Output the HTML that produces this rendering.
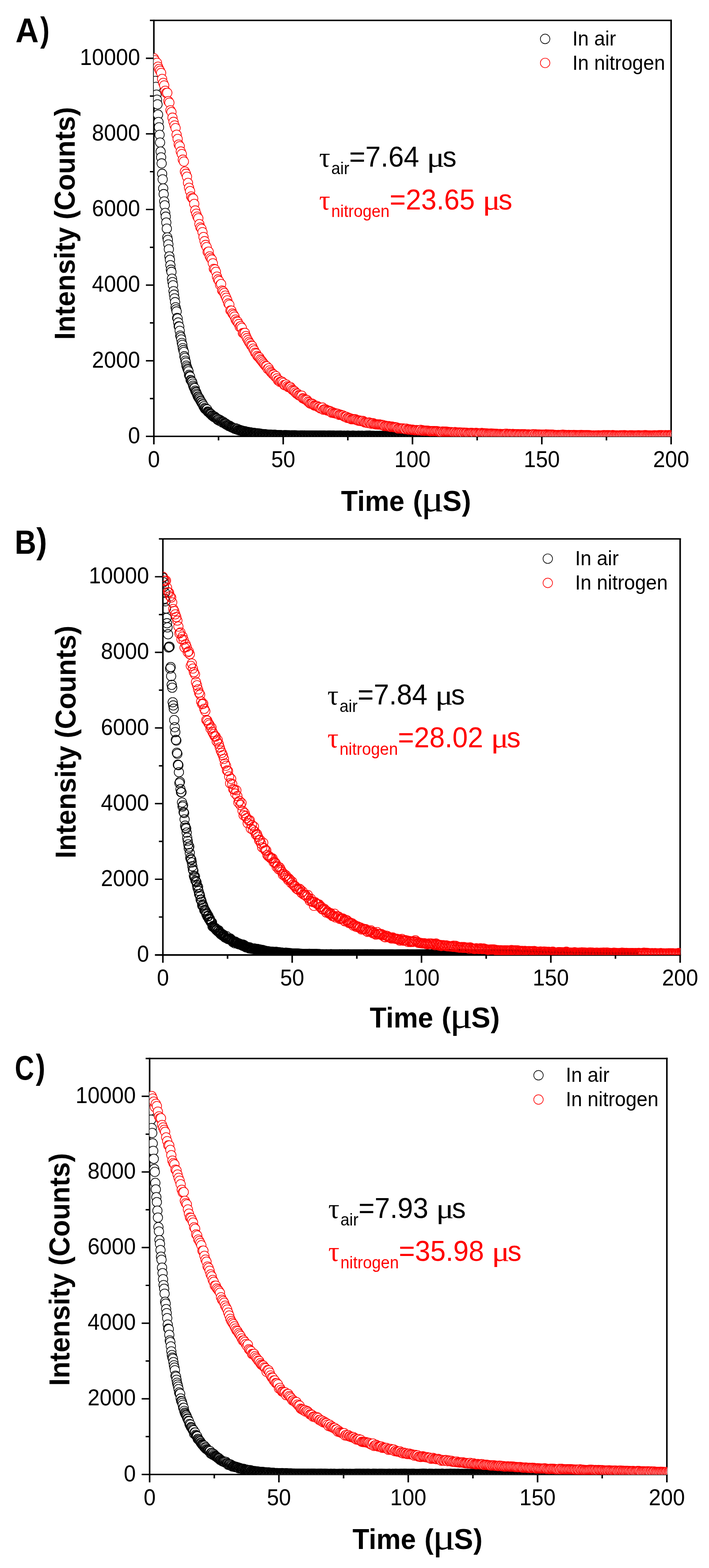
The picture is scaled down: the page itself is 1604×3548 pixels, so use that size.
<!DOCTYPE html><html><head><meta charset="utf-8"><title>Luminescence decay curves</title><style>html,body{margin:0;padding:0;background:#fff}svg{display:block}text{font-family:"Liberation Sans",Arial,sans-serif}.s{font-family:"Liberation Serif","Times New Roman",serif}.b{font-weight:bold}.bk{stroke:#000}.rd{stroke:#f00}</style></head><body>
<svg width="1604" height="3548" viewBox="0 0 1604 3548">
<rect width="1604" height="3548" fill="#fff"/>
<clipPath id="cA"><rect x="347.9" y="46.2" width="1171.0" height="941.7"/></clipPath>
<path stroke="#000" fill="none" stroke-width="3.2" d="M330.1 987.40H1520.0"/>
<path stroke="#000" fill="none" stroke-width="3.2" d="M339.1 46.2H1520.0M339.1 901.8H348.1M330.1 816.3H348.1M339.1 730.7H348.1M330.1 645.2H348.1M339.1 559.6H348.1M330.1 474.0H348.1M339.1 388.5H348.1M330.1 302.9H348.1M339.1 217.4H348.1M330.1 131.8H348.1"/>
<path stroke="#000" fill="none" stroke-width="3.5" d="M1518.3 44.7V1005.4M348.1 44.7V1005.4M494.4 987.4V996.4M640.7 987.4V1005.4M786.9 987.4V996.4M933.2 987.4V1005.4M1079.5 987.4V996.4M1225.8 987.4V1005.4M1372.0 987.4V996.4"/>
<g class="bk" clip-path="url(#cA)" fill="#fff" stroke-width="1.55">
<circle cx="348.1" cy="133.5" r="10.6"/><circle cx="349.3" cy="147.5" r="10.6"/><circle cx="350.4" cy="165.2" r="10.6"/><circle cx="351.6" cy="183" r="10.6"/><circle cx="352.8" cy="196.5" r="10.6"/><circle cx="354" cy="214.2" r="10.6"/><circle cx="355.1" cy="225.5" r="10.6"/><circle cx="356.3" cy="236.2" r="10.6"/><circle cx="357.5" cy="259.4" r="10.6"/><circle cx="358.6" cy="276" r="10.6"/><circle cx="359.8" cy="288" r="10.6"/><circle cx="361" cy="305" r="10.6"/><circle cx="362.1" cy="322.5" r="10.6"/><circle cx="363.3" cy="342.9" r="10.6"/><circle cx="364.5" cy="356" r="10.6"/><circle cx="365.7" cy="369.7" r="10.6"/><circle cx="366.8" cy="393.2" r="10.6"/><circle cx="368" cy="405.8" r="10.6"/><circle cx="369.2" cy="426.3" r="10.6"/><circle cx="370.3" cy="439.2" r="10.6"/><circle cx="371.5" cy="455.8" r="10.6"/><circle cx="372.7" cy="464.6" r="10.6"/><circle cx="373.8" cy="481.8" r="10.6"/><circle cx="375" cy="490.2" r="10.6"/><circle cx="376.2" cy="503.6" r="10.6"/><circle cx="377.4" cy="517.4" r="10.6"/><circle cx="378.5" cy="537" r="10.6"/><circle cx="379.7" cy="542.8" r="10.6"/><circle cx="380.9" cy="553" r="10.6"/><circle cx="382" cy="564" r="10.6"/><circle cx="383.2" cy="580.1" r="10.6"/><circle cx="384.4" cy="587.9" r="10.6"/><circle cx="385.5" cy="600.1" r="10.6"/><circle cx="386.7" cy="610.2" r="10.6"/><circle cx="387.9" cy="615.2" r="10.6"/><circle cx="389.1" cy="630.6" r="10.6"/><circle cx="390.2" cy="638.3" r="10.6"/><circle cx="391.4" cy="645.5" r="10.6"/><circle cx="392.6" cy="658.8" r="10.6"/><circle cx="393.7" cy="666.7" r="10.6"/><circle cx="394.9" cy="675" r="10.6"/><circle cx="396.1" cy="683.7" r="10.6"/><circle cx="397.2" cy="695.3" r="10.6"/><circle cx="398.4" cy="700.1" r="10.6"/><circle cx="399.6" cy="704.7" r="10.6"/><circle cx="400.8" cy="719.3" r="10.6"/><circle cx="401.9" cy="720.8" r="10.6"/><circle cx="403.1" cy="729.7" r="10.6"/><circle cx="404.3" cy="738.3" r="10.6"/><circle cx="405.4" cy="739" r="10.6"/><circle cx="406.6" cy="748.5" r="10.6"/><circle cx="407.8" cy="759.3" r="10.6"/><circle cx="409" cy="762.9" r="10.6"/><circle cx="410.1" cy="768.1" r="10.6"/><circle cx="411.3" cy="776" r="10.6"/><circle cx="412.5" cy="780.3" r="10.6"/><circle cx="413.6" cy="787.8" r="10.6"/><circle cx="414.8" cy="792.2" r="10.6"/><circle cx="416" cy="796.4" r="10.6"/><circle cx="417.1" cy="806.2" r="10.6"/><circle cx="418.3" cy="809.9" r="10.6"/><circle cx="419.5" cy="816.3" r="10.6"/><circle cx="420.7" cy="820.2" r="10.6"/><circle cx="421.8" cy="827.4" r="10.6"/><circle cx="423" cy="830.8" r="10.6"/><circle cx="424.2" cy="834.4" r="10.6"/><circle cx="425.3" cy="836.6" r="10.6"/><circle cx="426.5" cy="840.1" r="10.6"/><circle cx="427.7" cy="848.2" r="10.6"/><circle cx="428.8" cy="850.9" r="10.6"/><circle cx="430" cy="852" r="10.6"/><circle cx="431.2" cy="859.8" r="10.6"/><circle cx="432.4" cy="860.5" r="10.6"/><circle cx="433.5" cy="863.1" r="10.6"/><circle cx="434.7" cy="864" r="10.6"/><circle cx="435.9" cy="868" r="10.6"/><circle cx="437" cy="872.6" r="10.6"/><circle cx="438.2" cy="875.5" r="10.6"/><circle cx="439.4" cy="878.2" r="10.6"/><circle cx="440.5" cy="878.2" r="10.6"/><circle cx="441.7" cy="883.9" r="10.6"/><circle cx="442.9" cy="886.3" r="10.6"/><circle cx="444.1" cy="887.9" r="10.6"/><circle cx="445.2" cy="891.1" r="10.6"/><circle cx="446.4" cy="893.7" r="10.6"/><circle cx="447.6" cy="897.3" r="10.6"/><circle cx="448.7" cy="898.1" r="10.6"/><circle cx="449.9" cy="900.9" r="10.6"/><circle cx="451.1" cy="901" r="10.6"/><circle cx="452.2" cy="903.8" r="10.6"/><circle cx="453.4" cy="906.8" r="10.6"/><circle cx="454.6" cy="907.9" r="10.6"/><circle cx="455.8" cy="911.1" r="10.6"/><circle cx="456.9" cy="911.3" r="10.6"/><circle cx="458.1" cy="914.5" r="10.6"/><circle cx="459.3" cy="915.5" r="10.6"/><circle cx="460.4" cy="919.6" r="10.6"/><circle cx="461.6" cy="919.3" r="10.6"/><circle cx="462.8" cy="923.3" r="10.6"/><circle cx="463.9" cy="925.3" r="10.6"/><circle cx="465.1" cy="924.8" r="10.6"/><circle cx="466.3" cy="927" r="10.6"/><circle cx="467.5" cy="927.2" r="10.6"/><circle cx="468.6" cy="926.2" r="10.6"/><circle cx="469.8" cy="931" r="10.6"/><circle cx="471" cy="932" r="10.6"/><circle cx="472.1" cy="932.4" r="10.6"/><circle cx="473.3" cy="933.2" r="10.6"/><circle cx="474.5" cy="935.1" r="10.6"/><circle cx="475.7" cy="936.2" r="10.6"/><circle cx="476.8" cy="936.3" r="10.6"/><circle cx="478" cy="937.5" r="10.6"/><circle cx="479.2" cy="940" r="10.6"/><circle cx="480.3" cy="940" r="10.6"/><circle cx="481.5" cy="940.7" r="10.6"/><circle cx="482.7" cy="942.7" r="10.6"/><circle cx="483.8" cy="942.2" r="10.6"/><circle cx="485" cy="944.1" r="10.6"/><circle cx="486.2" cy="943.1" r="10.6"/><circle cx="487.4" cy="944.6" r="10.6"/><circle cx="488.5" cy="945.5" r="10.6"/><circle cx="489.7" cy="946.9" r="10.6"/><circle cx="490.9" cy="947.2" r="10.6"/><circle cx="492" cy="949.6" r="10.6"/><circle cx="493.2" cy="949.5" r="10.6"/><circle cx="494.4" cy="948.9" r="10.6"/><circle cx="495.5" cy="951.8" r="10.6"/><circle cx="496.7" cy="949.9" r="10.6"/><circle cx="497.9" cy="952.8" r="10.6"/><circle cx="499.1" cy="951.4" r="10.6"/><circle cx="500.2" cy="953.5" r="10.6"/><circle cx="501.4" cy="952.8" r="10.6"/><circle cx="502.6" cy="954.1" r="10.6"/><circle cx="503.7" cy="956.2" r="10.6"/><circle cx="504.9" cy="954.6" r="10.6"/><circle cx="506.1" cy="955.2" r="10.6"/><circle cx="507.2" cy="957.2" r="10.6"/><circle cx="508.4" cy="958.1" r="10.6"/><circle cx="509.6" cy="958.7" r="10.6"/><circle cx="510.8" cy="960.1" r="10.6"/><circle cx="511.9" cy="959.2" r="10.6"/><circle cx="513.1" cy="961.1" r="10.6"/><circle cx="514.3" cy="961.4" r="10.6"/><circle cx="515.4" cy="962.6" r="10.6"/><circle cx="516.6" cy="963.2" r="10.6"/><circle cx="517.8" cy="964.3" r="10.6"/><circle cx="518.9" cy="963.1" r="10.6"/><circle cx="520.1" cy="964.7" r="10.6"/><circle cx="521.3" cy="964.5" r="10.6"/><circle cx="522.5" cy="965.7" r="10.6"/><circle cx="523.6" cy="966.7" r="10.6"/><circle cx="524.8" cy="967" r="10.6"/><circle cx="526" cy="967.7" r="10.6"/><circle cx="527.1" cy="967.8" r="10.6"/><circle cx="528.3" cy="968.5" r="10.6"/><circle cx="529.5" cy="969" r="10.6"/><circle cx="530.7" cy="970.1" r="10.6"/><circle cx="531.8" cy="970.2" r="10.6"/><circle cx="533" cy="969.1" r="10.6"/><circle cx="534.2" cy="970.9" r="10.6"/><circle cx="535.3" cy="971.6" r="10.6"/><circle cx="536.5" cy="971.2" r="10.6"/><circle cx="537.7" cy="970.9" r="10.6"/><circle cx="538.8" cy="973" r="10.6"/><circle cx="540" cy="972.6" r="10.6"/><circle cx="541.2" cy="973.2" r="10.6"/><circle cx="542.4" cy="974.2" r="10.6"/><circle cx="543.5" cy="973.2" r="10.6"/><circle cx="544.7" cy="973.9" r="10.6"/><circle cx="545.9" cy="974.2" r="10.6"/><circle cx="547" cy="974.9" r="10.6"/><circle cx="548.2" cy="974.6" r="10.6"/><circle cx="549.4" cy="975.4" r="10.6"/><circle cx="550.5" cy="975.5" r="10.6"/><circle cx="551.7" cy="976.3" r="10.6"/><circle cx="552.9" cy="976.6" r="10.6"/><circle cx="554.1" cy="975.6" r="10.6"/><circle cx="555.2" cy="976.8" r="10.6"/><circle cx="556.4" cy="976.6" r="10.6"/><circle cx="557.6" cy="977" r="10.6"/><circle cx="558.7" cy="977.5" r="10.6"/><circle cx="559.9" cy="977.7" r="10.6"/><circle cx="561.1" cy="977.4" r="10.6"/><circle cx="562.2" cy="978.1" r="10.6"/><circle cx="563.4" cy="978.2" r="10.6"/><circle cx="564.6" cy="978.4" r="10.6"/><circle cx="565.8" cy="978.1" r="10.6"/><circle cx="566.9" cy="978.5" r="10.6"/><circle cx="568.1" cy="978.8" r="10.6"/><circle cx="569.3" cy="979.4" r="10.6"/><circle cx="570.4" cy="979.9" r="10.6"/><circle cx="571.6" cy="979.2" r="10.6"/><circle cx="572.8" cy="979.3" r="10.6"/><circle cx="573.9" cy="980" r="10.6"/><circle cx="575.1" cy="979.9" r="10.6"/><circle cx="576.3" cy="979.9" r="10.6"/><circle cx="577.5" cy="980.1" r="10.6"/><circle cx="578.6" cy="980.2" r="10.6"/><circle cx="579.8" cy="980.9" r="10.6"/><circle cx="581" cy="980.3" r="10.6"/><circle cx="582.1" cy="981.5" r="10.6"/><circle cx="583.3" cy="980.8" r="10.6"/><circle cx="584.5" cy="981.1" r="10.6"/><circle cx="585.7" cy="981.1" r="10.6"/><circle cx="586.8" cy="980.9" r="10.6"/><circle cx="588" cy="981.2" r="10.6"/><circle cx="589.2" cy="982.2" r="10.6"/><circle cx="590.3" cy="982.5" r="10.6"/><circle cx="591.5" cy="981.8" r="10.6"/><circle cx="592.7" cy="982.5" r="10.6"/><circle cx="593.8" cy="982.3" r="10.6"/><circle cx="595" cy="982.1" r="10.6"/><circle cx="596.2" cy="983" r="10.6"/><circle cx="597.4" cy="983.2" r="10.6"/><circle cx="598.5" cy="982.6" r="10.6"/><circle cx="599.7" cy="982.7" r="10.6"/><circle cx="600.9" cy="982.9" r="10.6"/><circle cx="602" cy="982.9" r="10.6"/><circle cx="603.2" cy="983.3" r="10.6"/><circle cx="604.4" cy="983.6" r="10.6"/><circle cx="605.5" cy="983.2" r="10.6"/><circle cx="606.7" cy="983.6" r="10.6"/><circle cx="607.9" cy="983.8" r="10.6"/><circle cx="609.1" cy="983.3" r="10.6"/><circle cx="610.2" cy="983.5" r="10.6"/><circle cx="611.4" cy="983.4" r="10.6"/><circle cx="612.6" cy="983.9" r="10.6"/><circle cx="613.7" cy="983.9" r="10.6"/><circle cx="614.9" cy="984.1" r="10.6"/><circle cx="616.1" cy="984.1" r="10.6"/><circle cx="617.2" cy="983.9" r="10.6"/><circle cx="618.4" cy="984.2" r="10.6"/><circle cx="619.6" cy="984" r="10.6"/><circle cx="620.8" cy="984" r="10.6"/><circle cx="621.9" cy="983.6" r="10.6"/><circle cx="623.1" cy="984.6" r="10.6"/><circle cx="624.3" cy="984.1" r="10.6"/><circle cx="625.4" cy="984.4" r="10.6"/><circle cx="626.6" cy="984.4" r="10.6"/><circle cx="627.8" cy="984.8" r="10.6"/><circle cx="628.9" cy="984.6" r="10.6"/><circle cx="630.1" cy="984.4" r="10.6"/><circle cx="631.3" cy="984.6" r="10.6"/><circle cx="632.5" cy="984.6" r="10.6"/><circle cx="633.6" cy="984.8" r="10.6"/><circle cx="634.8" cy="984.4" r="10.6"/><circle cx="636" cy="984.8" r="10.6"/><circle cx="637.1" cy="985.3" r="10.6"/><circle cx="638.3" cy="985" r="10.6"/><circle cx="639.5" cy="985.3" r="10.6"/><circle cx="640.7" cy="985.6" r="10.6"/><circle cx="641.8" cy="985" r="10.6"/><circle cx="643" cy="984.6" r="10.6"/><circle cx="644.2" cy="984.9" r="10.6"/><circle cx="645.3" cy="985.2" r="10.6"/><circle cx="646.5" cy="985.2" r="10.6"/><circle cx="647.7" cy="984.7" r="10.6"/><circle cx="648.8" cy="985" r="10.6"/><circle cx="650" cy="985" r="10.6"/><circle cx="651.2" cy="985.1" r="10.6"/><circle cx="652.4" cy="985.1" r="10.6"/><circle cx="653.5" cy="984.9" r="10.6"/><circle cx="654.7" cy="985" r="10.6"/><circle cx="655.9" cy="985.1" r="10.6"/><circle cx="657" cy="985.4" r="10.6"/><circle cx="658.2" cy="985" r="10.6"/><circle cx="659.4" cy="985.3" r="10.6"/><circle cx="660.5" cy="984.9" r="10.6"/><circle cx="661.7" cy="985.5" r="10.6"/><circle cx="662.9" cy="985.2" r="10.6"/><circle cx="664.1" cy="985.2" r="10.6"/><circle cx="665.2" cy="985.5" r="10.6"/><circle cx="666.4" cy="984.9" r="10.6"/><circle cx="667.6" cy="985" r="10.6"/><circle cx="668.7" cy="985.4" r="10.6"/><circle cx="669.9" cy="985.1" r="10.6"/><circle cx="671.1" cy="985.2" r="10.6"/><circle cx="672.2" cy="985.9" r="10.6"/><circle cx="673.4" cy="985.3" r="10.6"/><circle cx="674.6" cy="985.4" r="10.6"/><circle cx="675.8" cy="985.3" r="10.6"/><circle cx="676.9" cy="985.6" r="10.6"/><circle cx="678.1" cy="985.4" r="10.6"/><circle cx="679.3" cy="985.4" r="10.6"/><circle cx="680.4" cy="985.2" r="10.6"/><circle cx="681.6" cy="985.4" r="10.6"/><circle cx="682.8" cy="985.4" r="10.6"/><circle cx="683.9" cy="985.1" r="10.6"/><circle cx="685.1" cy="985.6" r="10.6"/><circle cx="686.3" cy="985.6" r="10.6"/><circle cx="687.5" cy="985.8" r="10.6"/><circle cx="688.6" cy="985.2" r="10.6"/><circle cx="689.8" cy="985.3" r="10.6"/><circle cx="691" cy="985.3" r="10.6"/><circle cx="692.1" cy="985.4" r="10.6"/><circle cx="693.3" cy="985.5" r="10.6"/><circle cx="694.5" cy="985.5" r="10.6"/><circle cx="695.6" cy="985.6" r="10.6"/><circle cx="696.8" cy="985.6" r="10.6"/><circle cx="698" cy="985.6" r="10.6"/><circle cx="699.2" cy="985.3" r="10.6"/><circle cx="700.3" cy="985.5" r="10.6"/><circle cx="701.5" cy="985.6" r="10.6"/><circle cx="702.7" cy="985.7" r="10.6"/><circle cx="703.8" cy="985.7" r="10.6"/><circle cx="705" cy="985.3" r="10.6"/><circle cx="706.2" cy="985.5" r="10.6"/><circle cx="707.4" cy="985.6" r="10.6"/><circle cx="708.5" cy="985.7" r="10.6"/><circle cx="709.7" cy="985.9" r="10.6"/><circle cx="710.9" cy="985.7" r="10.6"/><circle cx="712" cy="985.5" r="10.6"/><circle cx="713.2" cy="985.8" r="10.6"/><circle cx="714.4" cy="985.7" r="10.6"/><circle cx="715.5" cy="985.7" r="10.6"/><circle cx="716.7" cy="985.7" r="10.6"/><circle cx="717.9" cy="986" r="10.6"/><circle cx="719.1" cy="985.8" r="10.6"/><circle cx="720.2" cy="985.9" r="10.6"/><circle cx="721.4" cy="985.6" r="10.6"/><circle cx="722.6" cy="985.9" r="10.6"/><circle cx="723.7" cy="985.6" r="10.6"/><circle cx="724.9" cy="985.5" r="10.6"/><circle cx="726.1" cy="985.8" r="10.6"/><circle cx="727.2" cy="985.9" r="10.6"/><circle cx="728.4" cy="985.7" r="10.6"/><circle cx="729.6" cy="985.8" r="10.6"/><circle cx="730.8" cy="986" r="10.6"/><circle cx="731.9" cy="985.7" r="10.6"/><circle cx="733.1" cy="985.4" r="10.6"/><circle cx="734.3" cy="985.9" r="10.6"/><circle cx="735.4" cy="985.9" r="10.6"/><circle cx="736.6" cy="986" r="10.6"/><circle cx="737.8" cy="985.8" r="10.6"/><circle cx="738.9" cy="986.1" r="10.6"/><circle cx="740.1" cy="986.1" r="10.6"/><circle cx="741.3" cy="985.6" r="10.6"/><circle cx="742.5" cy="986" r="10.6"/><circle cx="743.6" cy="985.7" r="10.6"/><circle cx="744.8" cy="985.6" r="10.6"/><circle cx="746" cy="985.8" r="10.6"/><circle cx="747.1" cy="985.8" r="10.6"/><circle cx="748.3" cy="985.5" r="10.6"/><circle cx="749.5" cy="985.9" r="10.6"/><circle cx="750.6" cy="986" r="10.6"/><circle cx="751.8" cy="986.1" r="10.6"/><circle cx="753" cy="985.9" r="10.6"/><circle cx="754.2" cy="985.6" r="10.6"/><circle cx="755.3" cy="985.7" r="10.6"/><circle cx="756.5" cy="986.1" r="10.6"/><circle cx="757.7" cy="986.1" r="10.6"/><circle cx="758.8" cy="986" r="10.6"/><circle cx="760" cy="985.9" r="10.6"/><circle cx="761.2" cy="986" r="10.6"/><circle cx="762.4" cy="985.9" r="10.6"/><circle cx="763.5" cy="985.9" r="10.6"/><circle cx="764.7" cy="986" r="10.6"/><circle cx="765.9" cy="985.9" r="10.6"/><circle cx="767" cy="985.9" r="10.6"/><circle cx="768.2" cy="986" r="10.6"/><circle cx="769.4" cy="985.9" r="10.6"/><circle cx="770.5" cy="985.6" r="10.6"/><circle cx="771.7" cy="985.9" r="10.6"/><circle cx="772.9" cy="986" r="10.6"/><circle cx="774.1" cy="986.3" r="10.6"/><circle cx="775.2" cy="985.9" r="10.6"/><circle cx="776.4" cy="986.3" r="10.6"/><circle cx="777.6" cy="986.2" r="10.6"/><circle cx="778.7" cy="985.8" r="10.6"/><circle cx="779.9" cy="985.9" r="10.6"/><circle cx="781.1" cy="986" r="10.6"/><circle cx="782.2" cy="986.3" r="10.6"/><circle cx="783.4" cy="986.1" r="10.6"/><circle cx="784.6" cy="986.1" r="10.6"/><circle cx="785.8" cy="985.9" r="10.6"/><circle cx="786.9" cy="985.6" r="10.6"/><circle cx="788.1" cy="986" r="10.6"/><circle cx="789.3" cy="986.1" r="10.6"/><circle cx="790.4" cy="986.2" r="10.6"/><circle cx="791.6" cy="986" r="10.6"/><circle cx="792.8" cy="986.1" r="10.6"/><circle cx="793.9" cy="986.2" r="10.6"/><circle cx="795.1" cy="986" r="10.6"/><circle cx="796.3" cy="986.2" r="10.6"/><circle cx="797.5" cy="985.8" r="10.6"/><circle cx="798.6" cy="985.9" r="10.6"/><circle cx="799.8" cy="985.9" r="10.6"/><circle cx="801" cy="986.1" r="10.6"/><circle cx="802.1" cy="986" r="10.6"/><circle cx="803.3" cy="986.1" r="10.6"/><circle cx="804.5" cy="986.1" r="10.6"/><circle cx="805.6" cy="986.1" r="10.6"/><circle cx="806.8" cy="986.3" r="10.6"/><circle cx="808" cy="986.3" r="10.6"/><circle cx="809.2" cy="985.9" r="10.6"/><circle cx="810.3" cy="986.1" r="10.6"/><circle cx="811.5" cy="986" r="10.6"/><circle cx="812.7" cy="985.9" r="10.6"/><circle cx="813.8" cy="986.4" r="10.6"/><circle cx="815" cy="986.2" r="10.6"/><circle cx="816.2" cy="986.1" r="10.6"/><circle cx="817.4" cy="986" r="10.6"/><circle cx="818.5" cy="986.2" r="10.6"/><circle cx="819.7" cy="985.9" r="10.6"/><circle cx="820.9" cy="986.1" r="10.6"/><circle cx="822" cy="986.3" r="10.6"/><circle cx="823.2" cy="986.3" r="10.6"/><circle cx="824.4" cy="986" r="10.6"/><circle cx="825.5" cy="986" r="10.6"/><circle cx="826.7" cy="986.4" r="10.6"/><circle cx="827.9" cy="985.9" r="10.6"/><circle cx="829.1" cy="986" r="10.6"/><circle cx="830.2" cy="985.9" r="10.6"/><circle cx="831.4" cy="986.2" r="10.6"/><circle cx="832.6" cy="986.2" r="10.6"/><circle cx="833.7" cy="986.3" r="10.6"/><circle cx="834.9" cy="985.7" r="10.6"/><circle cx="836.1" cy="986.2" r="10.6"/><circle cx="837.2" cy="985.9" r="10.6"/><circle cx="838.4" cy="986.3" r="10.6"/><circle cx="839.6" cy="986.1" r="10.6"/><circle cx="840.8" cy="986.4" r="10.6"/><circle cx="841.9" cy="986.2" r="10.6"/><circle cx="843.1" cy="986" r="10.6"/><circle cx="844.3" cy="986.4" r="10.6"/><circle cx="845.4" cy="986" r="10.6"/><circle cx="846.6" cy="986.1" r="10.6"/><circle cx="847.8" cy="986.3" r="10.6"/><circle cx="848.9" cy="986.3" r="10.6"/><circle cx="850.1" cy="986.3" r="10.6"/><circle cx="851.3" cy="986.2" r="10.6"/><circle cx="852.5" cy="986.3" r="10.6"/><circle cx="853.6" cy="986.3" r="10.6"/><circle cx="854.8" cy="986.2" r="10.6"/><circle cx="856" cy="986.4" r="10.6"/><circle cx="857.1" cy="986.4" r="10.6"/><circle cx="858.3" cy="986.2" r="10.6"/><circle cx="859.5" cy="986.1" r="10.6"/><circle cx="860.6" cy="986.4" r="10.6"/><circle cx="861.8" cy="986.2" r="10.6"/><circle cx="863" cy="986.3" r="10.6"/><circle cx="864.2" cy="986.4" r="10.6"/><circle cx="865.3" cy="986.1" r="10.6"/><circle cx="866.5" cy="986.3" r="10.6"/><circle cx="867.7" cy="986" r="10.6"/><circle cx="868.8" cy="986.3" r="10.6"/><circle cx="870" cy="986.2" r="10.6"/><circle cx="871.2" cy="986.3" r="10.6"/><circle cx="872.3" cy="986.4" r="10.6"/><circle cx="873.5" cy="986.1" r="10.6"/><circle cx="874.7" cy="986.3" r="10.6"/><circle cx="875.9" cy="986.1" r="10.6"/><circle cx="877" cy="986.3" r="10.6"/><circle cx="878.2" cy="986.4" r="10.6"/><circle cx="879.4" cy="986.3" r="10.6"/><circle cx="880.5" cy="986.2" r="10.6"/><circle cx="881.7" cy="986.1" r="10.6"/><circle cx="882.9" cy="986.4" r="10.6"/><circle cx="884.1" cy="986.3" r="10.6"/><circle cx="885.2" cy="986.5" r="10.6"/><circle cx="886.4" cy="986.2" r="10.6"/><circle cx="887.6" cy="986.4" r="10.6"/><circle cx="888.7" cy="986.6" r="10.6"/><circle cx="889.9" cy="986.3" r="10.6"/><circle cx="891.1" cy="986.1" r="10.6"/><circle cx="892.2" cy="986.5" r="10.6"/><circle cx="893.4" cy="986.5" r="10.6"/><circle cx="894.6" cy="986.4" r="10.6"/><circle cx="895.8" cy="986.5" r="10.6"/><circle cx="896.9" cy="986.2" r="10.6"/><circle cx="898.1" cy="986.4" r="10.6"/><circle cx="899.3" cy="986.4" r="10.6"/><circle cx="900.4" cy="986.2" r="10.6"/><circle cx="901.6" cy="986.4" r="10.6"/><circle cx="902.8" cy="986.2" r="10.6"/><circle cx="903.9" cy="986.5" r="10.6"/><circle cx="905.1" cy="986.5" r="10.6"/><circle cx="906.3" cy="986.6" r="10.6"/><circle cx="907.5" cy="986" r="10.6"/><circle cx="908.6" cy="986.4" r="10.6"/><circle cx="909.8" cy="986.3" r="10.6"/><circle cx="911" cy="986.3" r="10.6"/><circle cx="912.1" cy="986.3" r="10.6"/><circle cx="913.3" cy="986.3" r="10.6"/><circle cx="914.5" cy="986" r="10.6"/><circle cx="915.6" cy="986.5" r="10.6"/><circle cx="916.8" cy="986.6" r="10.6"/><circle cx="918" cy="986.5" r="10.6"/><circle cx="919.2" cy="986.5" r="10.6"/><circle cx="920.3" cy="986.2" r="10.6"/><circle cx="921.5" cy="986.2" r="10.6"/><circle cx="922.7" cy="986.5" r="10.6"/><circle cx="923.8" cy="986.6" r="10.6"/><circle cx="925" cy="986.4" r="10.6"/><circle cx="926.2" cy="986.1" r="10.6"/><circle cx="927.3" cy="986.8" r="10.6"/><circle cx="928.5" cy="986.3" r="10.6"/><circle cx="929.7" cy="986.5" r="10.6"/><circle cx="930.9" cy="986.2" r="10.6"/><circle cx="932" cy="986.5" r="10.6"/><circle cx="933.2" cy="986.4" r="10.6"/><circle cx="934.4" cy="986.6" r="10.6"/><circle cx="935.5" cy="986.5" r="10.6"/><circle cx="936.7" cy="986.2" r="10.6"/><circle cx="937.9" cy="986.3" r="10.6"/><circle cx="939.1" cy="986.4" r="10.6"/><circle cx="940.2" cy="986.5" r="10.6"/><circle cx="941.4" cy="986.7" r="10.6"/><circle cx="942.6" cy="986.4" r="10.6"/><circle cx="943.7" cy="986.4" r="10.6"/><circle cx="944.9" cy="986.4" r="10.6"/><circle cx="946.1" cy="986.4" r="10.6"/><circle cx="947.2" cy="986.5" r="10.6"/><circle cx="948.4" cy="986.4" r="10.6"/><circle cx="949.6" cy="986.4" r="10.6"/><circle cx="950.8" cy="986.2" r="10.6"/><circle cx="951.9" cy="986.1" r="10.6"/><circle cx="953.1" cy="986.4" r="10.6"/><circle cx="954.3" cy="986.5" r="10.6"/><circle cx="955.4" cy="986.4" r="10.6"/><circle cx="956.6" cy="986.5" r="10.6"/><circle cx="957.8" cy="986.5" r="10.6"/><circle cx="958.9" cy="986.4" r="10.6"/><circle cx="960.1" cy="986.5" r="10.6"/><circle cx="961.3" cy="986.3" r="10.6"/><circle cx="962.5" cy="986.4" r="10.6"/><circle cx="963.6" cy="986.3" r="10.6"/><circle cx="964.8" cy="986.4" r="10.6"/><circle cx="966" cy="986.5" r="10.6"/><circle cx="967.1" cy="986.5" r="10.6"/><circle cx="968.3" cy="986.4" r="10.6"/><circle cx="969.5" cy="986.5" r="10.6"/><circle cx="970.6" cy="986.3" r="10.6"/><circle cx="971.8" cy="986.4" r="10.6"/><circle cx="973" cy="986.6" r="10.6"/><circle cx="974.2" cy="986.4" r="10.6"/><circle cx="975.3" cy="986.6" r="10.6"/><circle cx="976.5" cy="986.5" r="10.6"/><circle cx="977.7" cy="986.4" r="10.6"/><circle cx="978.8" cy="986.7" r="10.6"/><circle cx="980" cy="986.4" r="10.6"/><circle cx="981.2" cy="986.4" r="10.6"/><circle cx="982.3" cy="986.4" r="10.6"/><circle cx="983.5" cy="986.5" r="10.6"/><circle cx="984.7" cy="986.4" r="10.6"/><circle cx="985.9" cy="986.5" r="10.6"/><circle cx="987" cy="986.4" r="10.6"/><circle cx="988.2" cy="986.5" r="10.6"/><circle cx="989.4" cy="986.4" r="10.6"/><circle cx="990.5" cy="986.6" r="10.6"/><circle cx="991.7" cy="986.4" r="10.6"/><circle cx="992.9" cy="986.4" r="10.6"/><circle cx="994.1" cy="986.4" r="10.6"/><circle cx="995.2" cy="986.5" r="10.6"/><circle cx="996.4" cy="986.3" r="10.6"/><circle cx="997.6" cy="986.6" r="10.6"/><circle cx="998.7" cy="986.3" r="10.6"/><circle cx="999.9" cy="986.4" r="10.6"/><circle cx="1001.1" cy="986.4" r="10.6"/><circle cx="1002.2" cy="986.3" r="10.6"/><circle cx="1003.4" cy="986.5" r="10.6"/><circle cx="1004.6" cy="986.4" r="10.6"/><circle cx="1005.8" cy="986.3" r="10.6"/><circle cx="1006.9" cy="986.3" r="10.6"/><circle cx="1008.1" cy="986.4" r="10.6"/><circle cx="1009.3" cy="986.6" r="10.6"/><circle cx="1010.4" cy="986.3" r="10.6"/><circle cx="1011.6" cy="986.2" r="10.6"/><circle cx="1012.8" cy="986.2" r="10.6"/><circle cx="1013.9" cy="986.4" r="10.6"/><circle cx="1015.1" cy="986.6" r="10.6"/><circle cx="1016.3" cy="986.3" r="10.6"/><circle cx="1017.5" cy="986.4" r="10.6"/><circle cx="1018.6" cy="986.8" r="10.6"/><circle cx="1019.8" cy="986.3" r="10.6"/><circle cx="1021" cy="986.6" r="10.6"/><circle cx="1022.1" cy="986.6" r="10.6"/><circle cx="1023.3" cy="986.5" r="10.6"/><circle cx="1024.5" cy="986.2" r="10.6"/><circle cx="1025.6" cy="986.5" r="10.6"/><circle cx="1026.8" cy="986.4" r="10.6"/><circle cx="1028" cy="986.1" r="10.6"/><circle cx="1029.2" cy="986.2" r="10.6"/><circle cx="1030.3" cy="986.4" r="10.6"/><circle cx="1031.5" cy="986.4" r="10.6"/><circle cx="1032.7" cy="986.6" r="10.6"/><circle cx="1033.8" cy="986.5" r="10.6"/><circle cx="1035" cy="986.3" r="10.6"/><circle cx="1036.2" cy="986.3" r="10.6"/><circle cx="1037.3" cy="986.4" r="10.6"/><circle cx="1038.5" cy="986.3" r="10.6"/><circle cx="1039.7" cy="986.5" r="10.6"/><circle cx="1040.9" cy="986.4" r="10.6"/><circle cx="1042" cy="986.3" r="10.6"/><circle cx="1043.2" cy="986.3" r="10.6"/><circle cx="1044.4" cy="986.2" r="10.6"/><circle cx="1045.5" cy="986.3" r="10.6"/><circle cx="1046.7" cy="986.5" r="10.6"/><circle cx="1047.9" cy="986.4" r="10.6"/><circle cx="1049" cy="986.6" r="10.6"/><circle cx="1050.2" cy="986.6" r="10.6"/><circle cx="1051.4" cy="986.3" r="10.6"/><circle cx="1052.6" cy="986.4" r="10.6"/><circle cx="1053.7" cy="986.4" r="10.6"/><circle cx="1054.9" cy="986.7" r="10.6"/><circle cx="1056.1" cy="986.5" r="10.6"/><circle cx="1057.2" cy="986.5" r="10.6"/><circle cx="1058.4" cy="986.5" r="10.6"/><circle cx="1059.6" cy="986.7" r="10.6"/><circle cx="1060.8" cy="986.5" r="10.6"/><circle cx="1061.9" cy="986.3" r="10.6"/><circle cx="1063.1" cy="986.4" r="10.6"/><circle cx="1064.3" cy="986.5" r="10.6"/><circle cx="1065.4" cy="986.4" r="10.6"/><circle cx="1066.6" cy="986.3" r="10.6"/><circle cx="1067.8" cy="986.8" r="10.6"/><circle cx="1068.9" cy="986.4" r="10.6"/><circle cx="1070.1" cy="986.3" r="10.6"/><circle cx="1071.3" cy="986.3" r="10.6"/><circle cx="1072.5" cy="986.2" r="10.6"/><circle cx="1073.6" cy="986.2" r="10.6"/><circle cx="1074.8" cy="986.4" r="10.6"/><circle cx="1076" cy="986.4" r="10.6"/><circle cx="1077.1" cy="986.3" r="10.6"/><circle cx="1078.3" cy="986.5" r="10.6"/><circle cx="1079.5" cy="986.4" r="10.6"/><circle cx="1080.6" cy="986.3" r="10.6"/><circle cx="1081.8" cy="986.1" r="10.6"/><circle cx="1083" cy="986.4" r="10.6"/><circle cx="1084.2" cy="986.4" r="10.6"/><circle cx="1085.3" cy="986.4" r="10.6"/><circle cx="1086.5" cy="986.2" r="10.6"/><circle cx="1087.7" cy="986.4" r="10.6"/><circle cx="1088.8" cy="986.2" r="10.6"/><circle cx="1090" cy="986.6" r="10.6"/><circle cx="1091.2" cy="986.4" r="10.6"/><circle cx="1092.3" cy="986.4" r="10.6"/><circle cx="1093.5" cy="986.3" r="10.6"/><circle cx="1094.7" cy="986.3" r="10.6"/><circle cx="1095.9" cy="986.6" r="10.6"/><circle cx="1097" cy="986.6" r="10.6"/><circle cx="1098.2" cy="986.4" r="10.6"/><circle cx="1099.4" cy="986.5" r="10.6"/><circle cx="1100.5" cy="986.6" r="10.6"/><circle cx="1101.7" cy="986.3" r="10.6"/><circle cx="1102.9" cy="986.3" r="10.6"/><circle cx="1104" cy="986.4" r="10.6"/><circle cx="1105.2" cy="986.5" r="10.6"/><circle cx="1106.4" cy="986.3" r="10.6"/><circle cx="1107.6" cy="986.5" r="10.6"/><circle cx="1108.7" cy="986.3" r="10.6"/><circle cx="1109.9" cy="986.6" r="10.6"/><circle cx="1111.1" cy="986.5" r="10.6"/><circle cx="1112.2" cy="986.4" r="10.6"/><circle cx="1113.4" cy="986.5" r="10.6"/><circle cx="1114.6" cy="986.3" r="10.6"/><circle cx="1115.8" cy="986.4" r="10.6"/><circle cx="1116.9" cy="986.6" r="10.6"/><circle cx="1118.1" cy="986.4" r="10.6"/><circle cx="1119.3" cy="986.5" r="10.6"/><circle cx="1120.4" cy="986.3" r="10.6"/><circle cx="1121.6" cy="986.5" r="10.6"/><circle cx="1122.8" cy="986.5" r="10.6"/><circle cx="1123.9" cy="986.3" r="10.6"/><circle cx="1125.1" cy="986.1" r="10.6"/><circle cx="1126.3" cy="986.1" r="10.6"/><circle cx="1127.5" cy="986.4" r="10.6"/><circle cx="1128.6" cy="986.4" r="10.6"/><circle cx="1129.8" cy="986.2" r="10.6"/><circle cx="1131" cy="986.4" r="10.6"/><circle cx="1132.1" cy="986.6" r="10.6"/><circle cx="1133.3" cy="986.4" r="10.6"/><circle cx="1134.5" cy="986.4" r="10.6"/><circle cx="1135.6" cy="986.5" r="10.6"/><circle cx="1136.8" cy="986.7" r="10.6"/><circle cx="1138" cy="986.6" r="10.6"/><circle cx="1139.2" cy="986.3" r="10.6"/><circle cx="1140.3" cy="986.5" r="10.6"/><circle cx="1141.5" cy="986.5" r="10.6"/><circle cx="1142.7" cy="986.4" r="10.6"/><circle cx="1143.8" cy="986.3" r="10.6"/><circle cx="1145" cy="986.5" r="10.6"/><circle cx="1146.2" cy="986.4" r="10.6"/><circle cx="1147.3" cy="986.6" r="10.6"/><circle cx="1148.5" cy="986.5" r="10.6"/><circle cx="1149.7" cy="986.6" r="10.6"/><circle cx="1150.9" cy="986.3" r="10.6"/><circle cx="1152" cy="986.4" r="10.6"/><circle cx="1153.2" cy="986.5" r="10.6"/><circle cx="1154.4" cy="986.5" r="10.6"/><circle cx="1155.5" cy="986.5" r="10.6"/><circle cx="1156.7" cy="986.3" r="10.6"/><circle cx="1157.9" cy="986.7" r="10.6"/><circle cx="1159" cy="986.6" r="10.6"/><circle cx="1160.2" cy="986.5" r="10.6"/><circle cx="1161.4" cy="986.1" r="10.6"/><circle cx="1162.6" cy="986.3" r="10.6"/><circle cx="1163.7" cy="986.5" r="10.6"/><circle cx="1164.9" cy="986.3" r="10.6"/><circle cx="1166.1" cy="986.1" r="10.6"/><circle cx="1167.2" cy="986.5" r="10.6"/><circle cx="1168.4" cy="986.5" r="10.6"/><circle cx="1169.6" cy="986.3" r="10.6"/><circle cx="1170.8" cy="986.4" r="10.6"/><circle cx="1171.9" cy="986.3" r="10.6"/><circle cx="1173.1" cy="986.5" r="10.6"/><circle cx="1174.3" cy="986.2" r="10.6"/><circle cx="1175.4" cy="986.2" r="10.6"/><circle cx="1176.6" cy="986.4" r="10.6"/><circle cx="1177.8" cy="986.3" r="10.6"/><circle cx="1178.9" cy="986.7" r="10.6"/><circle cx="1180.1" cy="986.4" r="10.6"/><circle cx="1181.3" cy="986.5" r="10.6"/><circle cx="1182.5" cy="986.4" r="10.6"/><circle cx="1183.6" cy="986.3" r="10.6"/><circle cx="1184.8" cy="986.5" r="10.6"/><circle cx="1186" cy="986.7" r="10.6"/><circle cx="1187.1" cy="986.4" r="10.6"/><circle cx="1188.3" cy="986.6" r="10.6"/><circle cx="1189.5" cy="986.5" r="10.6"/><circle cx="1190.6" cy="986.5" r="10.6"/><circle cx="1191.8" cy="986.5" r="10.6"/><circle cx="1193" cy="986.8" r="10.6"/><circle cx="1194.2" cy="986.3" r="10.6"/><circle cx="1195.3" cy="986.4" r="10.6"/><circle cx="1196.5" cy="986.3" r="10.6"/><circle cx="1197.7" cy="986.2" r="10.6"/><circle cx="1198.8" cy="986.4" r="10.6"/><circle cx="1200" cy="986.7" r="10.6"/><circle cx="1201.2" cy="986.6" r="10.6"/><circle cx="1202.3" cy="986.6" r="10.6"/><circle cx="1203.5" cy="986.5" r="10.6"/><circle cx="1204.7" cy="986.4" r="10.6"/><circle cx="1205.9" cy="986.7" r="10.6"/><circle cx="1207" cy="986.4" r="10.6"/><circle cx="1208.2" cy="986.7" r="10.6"/><circle cx="1209.4" cy="986.4" r="10.6"/><circle cx="1210.5" cy="986.5" r="10.6"/><circle cx="1211.7" cy="986.5" r="10.6"/><circle cx="1212.9" cy="986.5" r="10.6"/><circle cx="1214" cy="986.5" r="10.6"/><circle cx="1215.2" cy="986.5" r="10.6"/><circle cx="1216.4" cy="986.7" r="10.6"/><circle cx="1217.6" cy="986.5" r="10.6"/><circle cx="1218.7" cy="986.2" r="10.6"/><circle cx="1219.9" cy="986.2" r="10.6"/><circle cx="1221.1" cy="986.3" r="10.6"/><circle cx="1222.2" cy="986.4" r="10.6"/><circle cx="1223.4" cy="986.6" r="10.6"/><circle cx="1224.6" cy="986.2" r="10.6"/><circle cx="1225.8" cy="986.5" r="10.6"/><circle cx="1226.9" cy="986.5" r="10.6"/><circle cx="1228.1" cy="986.5" r="10.6"/><circle cx="1229.3" cy="986.4" r="10.6"/><circle cx="1230.4" cy="986.5" r="10.6"/><circle cx="1231.6" cy="986.5" r="10.6"/><circle cx="1232.8" cy="986.6" r="10.6"/><circle cx="1233.9" cy="986.5" r="10.6"/><circle cx="1235.1" cy="986.1" r="10.6"/><circle cx="1236.3" cy="986.5" r="10.6"/><circle cx="1237.5" cy="986.5" r="10.6"/><circle cx="1238.6" cy="986.4" r="10.6"/><circle cx="1239.8" cy="986.4" r="10.6"/><circle cx="1241" cy="986.6" r="10.6"/><circle cx="1242.1" cy="986.5" r="10.6"/><circle cx="1243.3" cy="986.3" r="10.6"/><circle cx="1244.5" cy="986.4" r="10.6"/><circle cx="1245.6" cy="986.4" r="10.6"/><circle cx="1246.8" cy="986.2" r="10.6"/><circle cx="1248" cy="986.6" r="10.6"/><circle cx="1249.2" cy="986.4" r="10.6"/><circle cx="1250.3" cy="986.5" r="10.6"/><circle cx="1251.5" cy="986.3" r="10.6"/><circle cx="1252.7" cy="986.7" r="10.6"/><circle cx="1253.8" cy="986.6" r="10.6"/><circle cx="1255" cy="986.5" r="10.6"/><circle cx="1256.2" cy="986.4" r="10.6"/><circle cx="1257.3" cy="986.4" r="10.6"/><circle cx="1258.5" cy="986.3" r="10.6"/><circle cx="1259.7" cy="986.7" r="10.6"/><circle cx="1260.9" cy="986.4" r="10.6"/><circle cx="1262" cy="986.5" r="10.6"/><circle cx="1263.2" cy="986.6" r="10.6"/><circle cx="1264.4" cy="986.4" r="10.6"/><circle cx="1265.5" cy="986.6" r="10.6"/><circle cx="1266.7" cy="986.8" r="10.6"/><circle cx="1267.9" cy="986.5" r="10.6"/><circle cx="1269" cy="986.7" r="10.6"/><circle cx="1270.2" cy="986.6" r="10.6"/><circle cx="1271.4" cy="986.4" r="10.6"/><circle cx="1272.6" cy="986.4" r="10.6"/><circle cx="1273.7" cy="986.2" r="10.6"/><circle cx="1274.9" cy="986.5" r="10.6"/><circle cx="1276.1" cy="986.7" r="10.6"/><circle cx="1277.2" cy="986.6" r="10.6"/><circle cx="1278.4" cy="986.6" r="10.6"/><circle cx="1279.6" cy="986.6" r="10.6"/><circle cx="1280.7" cy="986.4" r="10.6"/><circle cx="1281.9" cy="986.6" r="10.6"/><circle cx="1283.1" cy="986.7" r="10.6"/><circle cx="1284.3" cy="986.4" r="10.6"/><circle cx="1285.4" cy="986.5" r="10.6"/><circle cx="1286.6" cy="986.4" r="10.6"/><circle cx="1287.8" cy="986.5" r="10.6"/><circle cx="1288.9" cy="986.4" r="10.6"/><circle cx="1290.1" cy="986.5" r="10.6"/><circle cx="1291.3" cy="986.3" r="10.6"/><circle cx="1292.5" cy="986.4" r="10.6"/><circle cx="1293.6" cy="986.4" r="10.6"/><circle cx="1294.8" cy="986.4" r="10.6"/><circle cx="1296" cy="986.7" r="10.6"/><circle cx="1297.1" cy="986.5" r="10.6"/><circle cx="1298.3" cy="986.5" r="10.6"/><circle cx="1299.5" cy="986.4" r="10.6"/><circle cx="1300.6" cy="986.7" r="10.6"/><circle cx="1301.8" cy="986.2" r="10.6"/><circle cx="1303" cy="986.5" r="10.6"/><circle cx="1304.2" cy="986.6" r="10.6"/><circle cx="1305.3" cy="986.7" r="10.6"/><circle cx="1306.5" cy="986.5" r="10.6"/><circle cx="1307.7" cy="986.5" r="10.6"/><circle cx="1308.8" cy="986.6" r="10.6"/><circle cx="1310" cy="986.5" r="10.6"/><circle cx="1311.2" cy="986.6" r="10.6"/><circle cx="1312.3" cy="986.4" r="10.6"/><circle cx="1313.5" cy="986.6" r="10.6"/><circle cx="1314.7" cy="986.5" r="10.6"/><circle cx="1315.9" cy="986.3" r="10.6"/><circle cx="1317" cy="986.1" r="10.6"/><circle cx="1318.2" cy="986.6" r="10.6"/><circle cx="1319.4" cy="986.5" r="10.6"/><circle cx="1320.5" cy="986.6" r="10.6"/><circle cx="1321.7" cy="986.4" r="10.6"/><circle cx="1322.9" cy="986.6" r="10.6"/><circle cx="1324" cy="986.5" r="10.6"/><circle cx="1325.2" cy="986.5" r="10.6"/><circle cx="1326.4" cy="986.6" r="10.6"/><circle cx="1327.6" cy="986.6" r="10.6"/><circle cx="1328.7" cy="986.5" r="10.6"/><circle cx="1329.9" cy="986.8" r="10.6"/><circle cx="1331.1" cy="986.7" r="10.6"/><circle cx="1332.2" cy="986.5" r="10.6"/><circle cx="1333.4" cy="986.5" r="10.6"/><circle cx="1334.6" cy="986.5" r="10.6"/><circle cx="1335.7" cy="986.7" r="10.6"/><circle cx="1336.9" cy="986.5" r="10.6"/><circle cx="1338.1" cy="986.4" r="10.6"/><circle cx="1339.3" cy="986.4" r="10.6"/><circle cx="1340.4" cy="986.5" r="10.6"/><circle cx="1341.6" cy="986.6" r="10.6"/><circle cx="1342.8" cy="986.4" r="10.6"/><circle cx="1343.9" cy="986.6" r="10.6"/><circle cx="1345.1" cy="986.6" r="10.6"/><circle cx="1346.3" cy="986.6" r="10.6"/><circle cx="1347.5" cy="986.3" r="10.6"/><circle cx="1348.6" cy="986.5" r="10.6"/><circle cx="1349.8" cy="986.3" r="10.6"/><circle cx="1351" cy="986.6" r="10.6"/><circle cx="1352.1" cy="986.4" r="10.6"/><circle cx="1353.3" cy="986.6" r="10.6"/><circle cx="1354.5" cy="986.5" r="10.6"/><circle cx="1355.6" cy="986.1" r="10.6"/><circle cx="1356.8" cy="986.4" r="10.6"/><circle cx="1358" cy="986.6" r="10.6"/><circle cx="1359.2" cy="986.5" r="10.6"/><circle cx="1360.3" cy="986.4" r="10.6"/><circle cx="1361.5" cy="986.3" r="10.6"/><circle cx="1362.7" cy="986.6" r="10.6"/><circle cx="1363.8" cy="986.7" r="10.6"/><circle cx="1365" cy="986.5" r="10.6"/><circle cx="1366.2" cy="986.5" r="10.6"/><circle cx="1367.3" cy="986.5" r="10.6"/><circle cx="1368.5" cy="986.3" r="10.6"/><circle cx="1369.7" cy="986.4" r="10.6"/><circle cx="1370.9" cy="986.4" r="10.6"/><circle cx="1372" cy="986.6" r="10.6"/><circle cx="1373.2" cy="986.4" r="10.6"/><circle cx="1374.4" cy="986.2" r="10.6"/><circle cx="1375.5" cy="986.4" r="10.6"/><circle cx="1376.7" cy="986.5" r="10.6"/><circle cx="1377.9" cy="986.5" r="10.6"/><circle cx="1379" cy="986.2" r="10.6"/><circle cx="1380.2" cy="986.6" r="10.6"/><circle cx="1381.4" cy="986.5" r="10.6"/><circle cx="1382.6" cy="986.4" r="10.6"/><circle cx="1383.7" cy="986.4" r="10.6"/><circle cx="1384.9" cy="986.6" r="10.6"/><circle cx="1386.1" cy="986.5" r="10.6"/><circle cx="1387.2" cy="986.5" r="10.6"/><circle cx="1388.4" cy="986.5" r="10.6"/><circle cx="1389.6" cy="986.5" r="10.6"/><circle cx="1390.7" cy="986.7" r="10.6"/><circle cx="1391.9" cy="986.5" r="10.6"/><circle cx="1393.1" cy="986.4" r="10.6"/><circle cx="1394.3" cy="986.6" r="10.6"/><circle cx="1395.4" cy="986.5" r="10.6"/><circle cx="1396.6" cy="986.4" r="10.6"/><circle cx="1397.8" cy="986.6" r="10.6"/><circle cx="1398.9" cy="986.5" r="10.6"/><circle cx="1400.1" cy="986.6" r="10.6"/><circle cx="1401.3" cy="986.3" r="10.6"/><circle cx="1402.5" cy="986.2" r="10.6"/><circle cx="1403.6" cy="986.2" r="10.6"/><circle cx="1404.8" cy="986.5" r="10.6"/><circle cx="1406" cy="986.4" r="10.6"/><circle cx="1407.1" cy="986.5" r="10.6"/><circle cx="1408.3" cy="986.5" r="10.6"/><circle cx="1409.5" cy="986.3" r="10.6"/><circle cx="1410.6" cy="986.7" r="10.6"/><circle cx="1411.8" cy="986.4" r="10.6"/><circle cx="1413" cy="986.5" r="10.6"/><circle cx="1414.2" cy="986.3" r="10.6"/><circle cx="1415.3" cy="986.5" r="10.6"/><circle cx="1416.5" cy="986.6" r="10.6"/><circle cx="1417.7" cy="986.5" r="10.6"/><circle cx="1418.8" cy="986.4" r="10.6"/><circle cx="1420" cy="986.5" r="10.6"/><circle cx="1421.2" cy="986.4" r="10.6"/><circle cx="1422.3" cy="986.6" r="10.6"/><circle cx="1423.5" cy="986.8" r="10.6"/><circle cx="1424.7" cy="986.4" r="10.6"/><circle cx="1425.9" cy="986.4" r="10.6"/><circle cx="1427" cy="986.5" r="10.6"/><circle cx="1428.2" cy="986.5" r="10.6"/><circle cx="1429.4" cy="986.4" r="10.6"/><circle cx="1430.5" cy="986.6" r="10.6"/><circle cx="1431.7" cy="986.6" r="10.6"/><circle cx="1432.9" cy="986.5" r="10.6"/><circle cx="1434" cy="986.3" r="10.6"/><circle cx="1435.2" cy="986.7" r="10.6"/><circle cx="1436.4" cy="986.3" r="10.6"/><circle cx="1437.6" cy="986.6" r="10.6"/><circle cx="1438.7" cy="986.7" r="10.6"/><circle cx="1439.9" cy="986.3" r="10.6"/><circle cx="1441.1" cy="986.5" r="10.6"/><circle cx="1442.2" cy="986.7" r="10.6"/><circle cx="1443.4" cy="986.6" r="10.6"/><circle cx="1444.6" cy="986.4" r="10.6"/><circle cx="1445.7" cy="986.3" r="10.6"/><circle cx="1446.9" cy="986.6" r="10.6"/><circle cx="1448.1" cy="986.5" r="10.6"/><circle cx="1449.3" cy="986.4" r="10.6"/><circle cx="1450.4" cy="986.6" r="10.6"/><circle cx="1451.6" cy="986.5" r="10.6"/><circle cx="1452.8" cy="986.5" r="10.6"/><circle cx="1453.9" cy="986.6" r="10.6"/><circle cx="1455.1" cy="986.6" r="10.6"/><circle cx="1456.3" cy="986.5" r="10.6"/><circle cx="1457.4" cy="986.5" r="10.6"/><circle cx="1458.6" cy="986.6" r="10.6"/><circle cx="1459.8" cy="986.6" r="10.6"/><circle cx="1461" cy="986.4" r="10.6"/><circle cx="1462.1" cy="986.5" r="10.6"/><circle cx="1463.3" cy="986.4" r="10.6"/><circle cx="1464.5" cy="986.4" r="10.6"/><circle cx="1465.6" cy="986.4" r="10.6"/><circle cx="1466.8" cy="986.2" r="10.6"/><circle cx="1468" cy="986.6" r="10.6"/><circle cx="1469.2" cy="986.4" r="10.6"/><circle cx="1470.3" cy="986.6" r="10.6"/><circle cx="1471.5" cy="986.3" r="10.6"/><circle cx="1472.7" cy="986.3" r="10.6"/><circle cx="1473.8" cy="986.8" r="10.6"/><circle cx="1475" cy="986.7" r="10.6"/><circle cx="1476.2" cy="986.4" r="10.6"/><circle cx="1477.3" cy="986.4" r="10.6"/><circle cx="1478.5" cy="986.4" r="10.6"/><circle cx="1479.7" cy="986.5" r="10.6"/><circle cx="1480.9" cy="986.5" r="10.6"/><circle cx="1482" cy="986.4" r="10.6"/><circle cx="1483.2" cy="986.5" r="10.6"/><circle cx="1484.4" cy="986.4" r="10.6"/><circle cx="1485.5" cy="986.8" r="10.6"/><circle cx="1486.7" cy="986.4" r="10.6"/><circle cx="1487.9" cy="986.7" r="10.6"/><circle cx="1489" cy="986.4" r="10.6"/><circle cx="1490.2" cy="986.6" r="10.6"/><circle cx="1491.4" cy="986.6" r="10.6"/><circle cx="1492.6" cy="986.5" r="10.6"/><circle cx="1493.7" cy="986.6" r="10.6"/><circle cx="1494.9" cy="986.6" r="10.6"/><circle cx="1496.1" cy="986.7" r="10.6"/><circle cx="1497.2" cy="986.5" r="10.6"/><circle cx="1498.4" cy="986.5" r="10.6"/><circle cx="1499.6" cy="986.4" r="10.6"/><circle cx="1500.7" cy="986.5" r="10.6"/><circle cx="1501.9" cy="986.4" r="10.6"/><circle cx="1503.1" cy="986.5" r="10.6"/><circle cx="1504.3" cy="986.5" r="10.6"/><circle cx="1505.4" cy="986.4" r="10.6"/><circle cx="1506.6" cy="986.4" r="10.6"/><circle cx="1507.8" cy="986.6" r="10.6"/><circle cx="1508.9" cy="986.6" r="10.6"/><circle cx="1510.1" cy="986.6" r="10.6"/><circle cx="1511.3" cy="986.5" r="10.6"/><circle cx="1512.4" cy="986.7" r="10.6"/><circle cx="1513.6" cy="986.4" r="10.6"/><circle cx="1514.8" cy="986.6" r="10.6"/><circle cx="1516" cy="986.5" r="10.6"/><circle cx="1517.1" cy="986.6" r="10.6"/><circle cx="1518.3" cy="986.5" r="10.6"/><circle cx="1519.5" cy="986.5" r="10.6"/><circle cx="1520.6" cy="986.6" r="10.6"/><circle cx="1521.8" cy="986.3" r="10.6"/><circle cx="1523" cy="986.5" r="10.6"/><circle cx="1524.2" cy="986.3" r="10.6"/><circle cx="1525.3" cy="986.4" r="10.6"/><circle cx="1526.5" cy="986.6" r="10.6"/><circle cx="1527.7" cy="986.6" r="10.6"/><circle cx="1528.8" cy="986.5" r="10.6"/><circle cx="1530" cy="986.5" r="10.6"/><circle cx="1531.2" cy="986.5" r="10.6"/><circle cx="1532.3" cy="986.6" r="10.6"/>
</g>
<g class="rd" clip-path="url(#cA)" fill="#fff" stroke-width="1.55">
<circle cx="348.1" cy="131.8" r="10.6"/><circle cx="350.4" cy="136.4" r="10.6"/><circle cx="352.8" cy="147.8" r="10.6"/><circle cx="355.1" cy="142" r="10.6"/><circle cx="357.5" cy="150.8" r="10.6"/><circle cx="359.8" cy="156.1" r="10.6"/><circle cx="362.1" cy="160.2" r="10.6"/><circle cx="364.5" cy="165" r="10.6"/><circle cx="366.8" cy="178.7" r="10.6"/><circle cx="369.2" cy="187.7" r="10.6"/><circle cx="371.5" cy="193.3" r="10.6"/><circle cx="373.8" cy="205.4" r="10.6"/><circle cx="376.2" cy="210.3" r="10.6"/><circle cx="378.5" cy="210" r="10.6"/><circle cx="380.9" cy="228.9" r="10.6"/><circle cx="383.2" cy="232.3" r="10.6"/><circle cx="385.5" cy="249.5" r="10.6"/><circle cx="387.9" cy="253.6" r="10.6"/><circle cx="390.2" cy="266.2" r="10.6"/><circle cx="392.6" cy="275.7" r="10.6"/><circle cx="394.9" cy="283.8" r="10.6"/><circle cx="397.2" cy="289.8" r="10.6"/><circle cx="399.6" cy="304.9" r="10.6"/><circle cx="401.9" cy="314.4" r="10.6"/><circle cx="404.3" cy="327.1" r="10.6"/><circle cx="406.6" cy="330.8" r="10.6"/><circle cx="409" cy="342.7" r="10.6"/><circle cx="411.3" cy="348.5" r="10.6"/><circle cx="413.6" cy="361.2" r="10.6"/><circle cx="416" cy="365.5" r="10.6"/><circle cx="418.3" cy="388.1" r="10.6"/><circle cx="420.7" cy="393.2" r="10.6"/><circle cx="423" cy="399.9" r="10.6"/><circle cx="425.3" cy="413.9" r="10.6"/><circle cx="427.7" cy="424.9" r="10.6"/><circle cx="430" cy="432.4" r="10.6"/><circle cx="432.4" cy="444.6" r="10.6"/><circle cx="434.7" cy="448.3" r="10.6"/><circle cx="437" cy="449.4" r="10.6"/><circle cx="439.4" cy="461.4" r="10.6"/><circle cx="441.7" cy="476.2" r="10.6"/><circle cx="444.1" cy="483.5" r="10.6"/><circle cx="446.4" cy="490" r="10.6"/><circle cx="448.7" cy="493.9" r="10.6"/><circle cx="451.1" cy="507.1" r="10.6"/><circle cx="453.4" cy="514.5" r="10.6"/><circle cx="455.8" cy="517.7" r="10.6"/><circle cx="458.1" cy="525.3" r="10.6"/><circle cx="460.4" cy="536.3" r="10.6"/><circle cx="462.8" cy="545.7" r="10.6"/><circle cx="465.1" cy="554.2" r="10.6"/><circle cx="467.5" cy="559" r="10.6"/><circle cx="469.8" cy="570.3" r="10.6"/><circle cx="472.1" cy="569.4" r="10.6"/><circle cx="474.5" cy="580.1" r="10.6"/><circle cx="476.8" cy="584" r="10.6"/><circle cx="479.2" cy="587.2" r="10.6"/><circle cx="481.5" cy="595.8" r="10.6"/><circle cx="483.8" cy="608.3" r="10.6"/><circle cx="486.2" cy="609.5" r="10.6"/><circle cx="488.5" cy="615" r="10.6"/><circle cx="490.9" cy="625.9" r="10.6"/><circle cx="493.2" cy="632.2" r="10.6"/><circle cx="495.5" cy="635.7" r="10.6"/><circle cx="497.9" cy="644.8" r="10.6"/><circle cx="500.2" cy="642.6" r="10.6"/><circle cx="502.6" cy="657.3" r="10.6"/><circle cx="504.9" cy="659.6" r="10.6"/><circle cx="507.2" cy="663.1" r="10.6"/><circle cx="509.6" cy="668.8" r="10.6"/><circle cx="511.9" cy="673.8" r="10.6"/><circle cx="514.3" cy="679.6" r="10.6"/><circle cx="516.6" cy="686.7" r="10.6"/><circle cx="518.9" cy="689.5" r="10.6"/><circle cx="521.3" cy="702.5" r="10.6"/><circle cx="523.6" cy="702.9" r="10.6"/><circle cx="526" cy="709.4" r="10.6"/><circle cx="528.3" cy="712.2" r="10.6"/><circle cx="530.7" cy="716.4" r="10.6"/><circle cx="533" cy="723.1" r="10.6"/><circle cx="535.3" cy="726.8" r="10.6"/><circle cx="537.7" cy="728" r="10.6"/><circle cx="540" cy="733.2" r="10.6"/><circle cx="542.4" cy="739.6" r="10.6"/><circle cx="544.7" cy="738.2" r="10.6"/><circle cx="547" cy="741.8" r="10.6"/><circle cx="549.4" cy="753.5" r="10.6"/><circle cx="551.7" cy="753.8" r="10.6"/><circle cx="554.1" cy="753.2" r="10.6"/><circle cx="556.4" cy="760.4" r="10.6"/><circle cx="558.7" cy="765.2" r="10.6"/><circle cx="561.1" cy="769.7" r="10.6"/><circle cx="563.4" cy="774.1" r="10.6"/><circle cx="565.8" cy="777.2" r="10.6"/><circle cx="568.1" cy="781.6" r="10.6"/><circle cx="570.4" cy="782.9" r="10.6"/><circle cx="572.8" cy="788.9" r="10.6"/><circle cx="575.1" cy="792.9" r="10.6"/><circle cx="577.5" cy="798.2" r="10.6"/><circle cx="579.8" cy="800" r="10.6"/><circle cx="582.1" cy="805.3" r="10.6"/><circle cx="584.5" cy="807.6" r="10.6"/><circle cx="586.8" cy="808.8" r="10.6"/><circle cx="589.2" cy="813.2" r="10.6"/><circle cx="591.5" cy="815.9" r="10.6"/><circle cx="593.8" cy="818.9" r="10.6"/><circle cx="596.2" cy="822.1" r="10.6"/><circle cx="598.5" cy="825.1" r="10.6"/><circle cx="600.9" cy="828" r="10.6"/><circle cx="603.2" cy="828.9" r="10.6"/><circle cx="605.5" cy="834.6" r="10.6"/><circle cx="607.9" cy="833.3" r="10.6"/><circle cx="610.2" cy="838" r="10.6"/><circle cx="612.6" cy="841.8" r="10.6"/><circle cx="614.9" cy="843.9" r="10.6"/><circle cx="617.2" cy="846.7" r="10.6"/><circle cx="619.6" cy="847.8" r="10.6"/><circle cx="621.9" cy="851.5" r="10.6"/><circle cx="624.3" cy="851" r="10.6"/><circle cx="626.6" cy="856.2" r="10.6"/><circle cx="628.9" cy="860.6" r="10.6"/><circle cx="631.3" cy="860.4" r="10.6"/><circle cx="633.6" cy="864.3" r="10.6"/><circle cx="636" cy="863.4" r="10.6"/><circle cx="638.3" cy="863.8" r="10.6"/><circle cx="640.7" cy="866.3" r="10.6"/><circle cx="643" cy="871" r="10.6"/><circle cx="645.3" cy="871.9" r="10.6"/><circle cx="647.7" cy="870.1" r="10.6"/><circle cx="650" cy="873.8" r="10.6"/><circle cx="652.4" cy="875.9" r="10.6"/><circle cx="654.7" cy="876.1" r="10.6"/><circle cx="657" cy="875.9" r="10.6"/><circle cx="659.4" cy="879.1" r="10.6"/><circle cx="661.7" cy="882.3" r="10.6"/><circle cx="664.1" cy="883.7" r="10.6"/><circle cx="666.4" cy="885.1" r="10.6"/><circle cx="668.7" cy="888.4" r="10.6"/><circle cx="671.1" cy="890.8" r="10.6"/><circle cx="673.4" cy="891.1" r="10.6"/><circle cx="675.8" cy="894.2" r="10.6"/><circle cx="678.1" cy="894.9" r="10.6"/><circle cx="680.4" cy="896.4" r="10.6"/><circle cx="682.8" cy="895.4" r="10.6"/><circle cx="685.1" cy="901.1" r="10.6"/><circle cx="687.5" cy="901.8" r="10.6"/><circle cx="689.8" cy="903.5" r="10.6"/><circle cx="692.1" cy="904.4" r="10.6"/><circle cx="694.5" cy="905.3" r="10.6"/><circle cx="696.8" cy="908.7" r="10.6"/><circle cx="699.2" cy="910.6" r="10.6"/><circle cx="701.5" cy="913" r="10.6"/><circle cx="703.8" cy="913.6" r="10.6"/><circle cx="706.2" cy="913.3" r="10.6"/><circle cx="708.5" cy="915.1" r="10.6"/><circle cx="710.9" cy="917.5" r="10.6"/><circle cx="713.2" cy="917.9" r="10.6"/><circle cx="715.5" cy="918.5" r="10.6"/><circle cx="717.9" cy="919" r="10.6"/><circle cx="720.2" cy="921.1" r="10.6"/><circle cx="722.6" cy="921.7" r="10.6"/><circle cx="724.9" cy="924.2" r="10.6"/><circle cx="727.2" cy="924.3" r="10.6"/><circle cx="729.6" cy="922.2" r="10.6"/><circle cx="731.9" cy="927.1" r="10.6"/><circle cx="734.3" cy="926" r="10.6"/><circle cx="736.6" cy="926.3" r="10.6"/><circle cx="738.9" cy="927.8" r="10.6"/><circle cx="741.3" cy="929.1" r="10.6"/><circle cx="743.6" cy="929.3" r="10.6"/><circle cx="746" cy="930.2" r="10.6"/><circle cx="748.3" cy="931.2" r="10.6"/><circle cx="750.6" cy="933.9" r="10.6"/><circle cx="753" cy="933.1" r="10.6"/><circle cx="755.3" cy="934.7" r="10.6"/><circle cx="757.7" cy="935.3" r="10.6"/><circle cx="760" cy="935.5" r="10.6"/><circle cx="762.4" cy="936" r="10.6"/><circle cx="764.7" cy="936.6" r="10.6"/><circle cx="767" cy="938.8" r="10.6"/><circle cx="769.4" cy="938.3" r="10.6"/><circle cx="771.7" cy="938.9" r="10.6"/><circle cx="774.1" cy="939.8" r="10.6"/><circle cx="776.4" cy="940.3" r="10.6"/><circle cx="778.7" cy="942.5" r="10.6"/><circle cx="781.1" cy="943.3" r="10.6"/><circle cx="783.4" cy="943.1" r="10.6"/><circle cx="785.8" cy="945.7" r="10.6"/><circle cx="788.1" cy="945.1" r="10.6"/><circle cx="790.4" cy="946.4" r="10.6"/><circle cx="792.8" cy="946.9" r="10.6"/><circle cx="795.1" cy="948.7" r="10.6"/><circle cx="797.5" cy="948.6" r="10.6"/><circle cx="799.8" cy="948.5" r="10.6"/><circle cx="802.1" cy="948.4" r="10.6"/><circle cx="804.5" cy="948.9" r="10.6"/><circle cx="806.8" cy="950.4" r="10.6"/><circle cx="809.2" cy="951" r="10.6"/><circle cx="811.5" cy="952.1" r="10.6"/><circle cx="813.8" cy="951.7" r="10.6"/><circle cx="816.2" cy="952.8" r="10.6"/><circle cx="818.5" cy="952.7" r="10.6"/><circle cx="820.9" cy="952.3" r="10.6"/><circle cx="823.2" cy="954.2" r="10.6"/><circle cx="825.5" cy="955.9" r="10.6"/><circle cx="827.9" cy="955.9" r="10.6"/><circle cx="830.2" cy="956.8" r="10.6"/><circle cx="832.6" cy="957.1" r="10.6"/><circle cx="834.9" cy="955.8" r="10.6"/><circle cx="837.2" cy="957.1" r="10.6"/><circle cx="839.6" cy="958.8" r="10.6"/><circle cx="841.9" cy="957.7" r="10.6"/><circle cx="844.3" cy="957.7" r="10.6"/><circle cx="846.6" cy="959.3" r="10.6"/><circle cx="848.9" cy="960" r="10.6"/><circle cx="851.3" cy="960.2" r="10.6"/><circle cx="853.6" cy="960.2" r="10.6"/><circle cx="856" cy="960.4" r="10.6"/><circle cx="858.3" cy="960.4" r="10.6"/><circle cx="860.6" cy="960.8" r="10.6"/><circle cx="863" cy="961.3" r="10.6"/><circle cx="865.3" cy="961.6" r="10.6"/><circle cx="867.7" cy="962.4" r="10.6"/><circle cx="870" cy="964.2" r="10.6"/><circle cx="872.3" cy="963.7" r="10.6"/><circle cx="874.7" cy="963.8" r="10.6"/><circle cx="877" cy="964.6" r="10.6"/><circle cx="879.4" cy="964.2" r="10.6"/><circle cx="881.7" cy="965.4" r="10.6"/><circle cx="884.1" cy="966.1" r="10.6"/><circle cx="886.4" cy="965.1" r="10.6"/><circle cx="888.7" cy="965.9" r="10.6"/><circle cx="891.1" cy="966.6" r="10.6"/><circle cx="893.4" cy="966.6" r="10.6"/><circle cx="895.8" cy="966.9" r="10.6"/><circle cx="898.1" cy="967.7" r="10.6"/><circle cx="900.4" cy="969.6" r="10.6"/><circle cx="902.8" cy="969" r="10.6"/><circle cx="905.1" cy="969.2" r="10.6"/><circle cx="907.5" cy="969.8" r="10.6"/><circle cx="909.8" cy="969.5" r="10.6"/><circle cx="912.1" cy="969.3" r="10.6"/><circle cx="914.5" cy="970.5" r="10.6"/><circle cx="916.8" cy="971.2" r="10.6"/><circle cx="919.2" cy="969.8" r="10.6"/><circle cx="921.5" cy="971.5" r="10.6"/><circle cx="923.8" cy="972.2" r="10.6"/><circle cx="926.2" cy="971.7" r="10.6"/><circle cx="928.5" cy="971.9" r="10.6"/><circle cx="930.9" cy="972.7" r="10.6"/><circle cx="933.2" cy="972.2" r="10.6"/><circle cx="935.5" cy="973" r="10.6"/><circle cx="937.9" cy="973.4" r="10.6"/><circle cx="940.2" cy="973.1" r="10.6"/><circle cx="942.6" cy="973" r="10.6"/><circle cx="944.9" cy="973.8" r="10.6"/><circle cx="947.2" cy="973.5" r="10.6"/><circle cx="949.6" cy="973.9" r="10.6"/><circle cx="951.9" cy="972.7" r="10.6"/><circle cx="954.3" cy="974.5" r="10.6"/><circle cx="956.6" cy="973.7" r="10.6"/><circle cx="958.9" cy="974.5" r="10.6"/><circle cx="961.3" cy="974.7" r="10.6"/><circle cx="963.6" cy="974.4" r="10.6"/><circle cx="966" cy="974.5" r="10.6"/><circle cx="968.3" cy="974.5" r="10.6"/><circle cx="970.6" cy="975.1" r="10.6"/><circle cx="973" cy="975.6" r="10.6"/><circle cx="975.3" cy="975.8" r="10.6"/><circle cx="977.7" cy="975.4" r="10.6"/><circle cx="980" cy="975.5" r="10.6"/><circle cx="982.3" cy="975.3" r="10.6"/><circle cx="984.7" cy="975.9" r="10.6"/><circle cx="987" cy="975.7" r="10.6"/><circle cx="989.4" cy="975.7" r="10.6"/><circle cx="991.7" cy="976.4" r="10.6"/><circle cx="994.1" cy="977.2" r="10.6"/><circle cx="996.4" cy="977.2" r="10.6"/><circle cx="998.7" cy="977.5" r="10.6"/><circle cx="1001.1" cy="976.3" r="10.6"/><circle cx="1003.4" cy="977.4" r="10.6"/><circle cx="1005.8" cy="976.7" r="10.6"/><circle cx="1008.1" cy="977.1" r="10.6"/><circle cx="1010.4" cy="976.7" r="10.6"/><circle cx="1012.8" cy="977.2" r="10.6"/><circle cx="1015.1" cy="977.7" r="10.6"/><circle cx="1017.5" cy="977.9" r="10.6"/><circle cx="1019.8" cy="977.9" r="10.6"/><circle cx="1022.1" cy="977.9" r="10.6"/><circle cx="1024.5" cy="978.3" r="10.6"/><circle cx="1026.8" cy="978.3" r="10.6"/><circle cx="1029.2" cy="977.7" r="10.6"/><circle cx="1031.5" cy="979.1" r="10.6"/><circle cx="1033.8" cy="978.5" r="10.6"/><circle cx="1036.2" cy="979" r="10.6"/><circle cx="1038.5" cy="978.7" r="10.6"/><circle cx="1040.9" cy="978.5" r="10.6"/><circle cx="1043.2" cy="979" r="10.6"/><circle cx="1045.5" cy="978.8" r="10.6"/><circle cx="1047.9" cy="979.8" r="10.6"/><circle cx="1050.2" cy="978.8" r="10.6"/><circle cx="1052.6" cy="979.6" r="10.6"/><circle cx="1054.9" cy="979.2" r="10.6"/><circle cx="1057.2" cy="979.5" r="10.6"/><circle cx="1059.6" cy="980.6" r="10.6"/><circle cx="1061.9" cy="980" r="10.6"/><circle cx="1064.3" cy="979.7" r="10.6"/><circle cx="1066.6" cy="979.4" r="10.6"/><circle cx="1068.9" cy="979.9" r="10.6"/><circle cx="1071.3" cy="980" r="10.6"/><circle cx="1073.6" cy="980.7" r="10.6"/><circle cx="1076" cy="979.7" r="10.6"/><circle cx="1078.3" cy="979.7" r="10.6"/><circle cx="1080.6" cy="980.4" r="10.6"/><circle cx="1083" cy="980.5" r="10.6"/><circle cx="1085.3" cy="981.1" r="10.6"/><circle cx="1087.7" cy="980.3" r="10.6"/><circle cx="1090" cy="979.7" r="10.6"/><circle cx="1092.3" cy="980.5" r="10.6"/><circle cx="1094.7" cy="980.4" r="10.6"/><circle cx="1097" cy="980.7" r="10.6"/><circle cx="1099.4" cy="981.2" r="10.6"/><circle cx="1101.7" cy="980.5" r="10.6"/><circle cx="1104" cy="981.4" r="10.6"/><circle cx="1106.4" cy="981.2" r="10.6"/><circle cx="1108.7" cy="981.1" r="10.6"/><circle cx="1111.1" cy="980.9" r="10.6"/><circle cx="1113.4" cy="981.1" r="10.6"/><circle cx="1115.8" cy="981.2" r="10.6"/><circle cx="1118.1" cy="981.6" r="10.6"/><circle cx="1120.4" cy="981.8" r="10.6"/><circle cx="1122.8" cy="981.5" r="10.6"/><circle cx="1125.1" cy="981.8" r="10.6"/><circle cx="1127.5" cy="982" r="10.6"/><circle cx="1129.8" cy="982" r="10.6"/><circle cx="1132.1" cy="981.9" r="10.6"/><circle cx="1134.5" cy="982.3" r="10.6"/><circle cx="1136.8" cy="982.2" r="10.6"/><circle cx="1139.2" cy="982.4" r="10.6"/><circle cx="1141.5" cy="981.9" r="10.6"/><circle cx="1143.8" cy="981.8" r="10.6"/><circle cx="1146.2" cy="981.4" r="10.6"/><circle cx="1148.5" cy="982.5" r="10.6"/><circle cx="1150.9" cy="982.3" r="10.6"/><circle cx="1153.2" cy="981.9" r="10.6"/><circle cx="1155.5" cy="982.3" r="10.6"/><circle cx="1157.9" cy="982.4" r="10.6"/><circle cx="1160.2" cy="981.8" r="10.6"/><circle cx="1162.6" cy="982.4" r="10.6"/><circle cx="1164.9" cy="982.7" r="10.6"/><circle cx="1167.2" cy="982.8" r="10.6"/><circle cx="1169.6" cy="982.4" r="10.6"/><circle cx="1171.9" cy="982.4" r="10.6"/><circle cx="1174.3" cy="983" r="10.6"/><circle cx="1176.6" cy="982.9" r="10.6"/><circle cx="1178.9" cy="982.5" r="10.6"/><circle cx="1181.3" cy="982.5" r="10.6"/><circle cx="1183.6" cy="982.9" r="10.6"/><circle cx="1186" cy="982.6" r="10.6"/><circle cx="1188.3" cy="982.7" r="10.6"/><circle cx="1190.6" cy="983.4" r="10.6"/><circle cx="1193" cy="983" r="10.6"/><circle cx="1195.3" cy="982.8" r="10.6"/><circle cx="1197.7" cy="983.2" r="10.6"/><circle cx="1200" cy="983.6" r="10.6"/><circle cx="1202.3" cy="983.2" r="10.6"/><circle cx="1204.7" cy="982.9" r="10.6"/><circle cx="1207" cy="982.7" r="10.6"/><circle cx="1209.4" cy="983.8" r="10.6"/><circle cx="1211.7" cy="982.5" r="10.6"/><circle cx="1214" cy="983.6" r="10.6"/><circle cx="1216.4" cy="983.1" r="10.6"/><circle cx="1218.7" cy="983" r="10.6"/><circle cx="1221.1" cy="983.1" r="10.6"/><circle cx="1223.4" cy="983.4" r="10.6"/><circle cx="1225.8" cy="983.8" r="10.6"/><circle cx="1228.1" cy="983.3" r="10.6"/><circle cx="1230.4" cy="983.7" r="10.6"/><circle cx="1232.8" cy="984.2" r="10.6"/><circle cx="1235.1" cy="982.9" r="10.6"/><circle cx="1237.5" cy="983.5" r="10.6"/><circle cx="1239.8" cy="983.2" r="10.6"/><circle cx="1242.1" cy="983.9" r="10.6"/><circle cx="1244.5" cy="983.4" r="10.6"/><circle cx="1246.8" cy="983.4" r="10.6"/><circle cx="1249.2" cy="983.4" r="10.6"/><circle cx="1251.5" cy="983.9" r="10.6"/><circle cx="1253.8" cy="984.2" r="10.6"/><circle cx="1256.2" cy="984" r="10.6"/><circle cx="1258.5" cy="984.5" r="10.6"/><circle cx="1260.9" cy="984.4" r="10.6"/><circle cx="1263.2" cy="984" r="10.6"/><circle cx="1265.5" cy="984.3" r="10.6"/><circle cx="1267.9" cy="984.1" r="10.6"/><circle cx="1270.2" cy="984.1" r="10.6"/><circle cx="1272.6" cy="983.7" r="10.6"/><circle cx="1274.9" cy="983.9" r="10.6"/><circle cx="1277.2" cy="984.2" r="10.6"/><circle cx="1279.6" cy="984" r="10.6"/><circle cx="1281.9" cy="984.4" r="10.6"/><circle cx="1284.3" cy="984.4" r="10.6"/><circle cx="1286.6" cy="984.1" r="10.6"/><circle cx="1288.9" cy="984.6" r="10.6"/><circle cx="1291.3" cy="984.4" r="10.6"/><circle cx="1293.6" cy="984.7" r="10.6"/><circle cx="1296" cy="984.4" r="10.6"/><circle cx="1298.3" cy="984.1" r="10.6"/><circle cx="1300.6" cy="984.7" r="10.6"/><circle cx="1303" cy="984.5" r="10.6"/><circle cx="1305.3" cy="984.7" r="10.6"/><circle cx="1307.7" cy="984.8" r="10.6"/><circle cx="1310" cy="984.9" r="10.6"/><circle cx="1312.3" cy="984.3" r="10.6"/><circle cx="1314.7" cy="984.1" r="10.6"/><circle cx="1317" cy="984.6" r="10.6"/><circle cx="1319.4" cy="984.9" r="10.6"/><circle cx="1321.7" cy="984.6" r="10.6"/><circle cx="1324" cy="984.8" r="10.6"/><circle cx="1326.4" cy="984.6" r="10.6"/><circle cx="1328.7" cy="984.7" r="10.6"/><circle cx="1331.1" cy="984.8" r="10.6"/><circle cx="1333.4" cy="984.7" r="10.6"/><circle cx="1335.7" cy="985" r="10.6"/><circle cx="1338.1" cy="985" r="10.6"/><circle cx="1340.4" cy="985.3" r="10.6"/><circle cx="1342.8" cy="985" r="10.6"/><circle cx="1345.1" cy="985.3" r="10.6"/><circle cx="1347.5" cy="985" r="10.6"/><circle cx="1349.8" cy="985.2" r="10.6"/><circle cx="1352.1" cy="985" r="10.6"/><circle cx="1354.5" cy="984.9" r="10.6"/><circle cx="1356.8" cy="985.3" r="10.6"/><circle cx="1359.2" cy="985.2" r="10.6"/><circle cx="1361.5" cy="985.2" r="10.6"/><circle cx="1363.8" cy="984.9" r="10.6"/><circle cx="1366.2" cy="984.7" r="10.6"/><circle cx="1368.5" cy="984.8" r="10.6"/><circle cx="1370.9" cy="985.1" r="10.6"/><circle cx="1373.2" cy="984.7" r="10.6"/><circle cx="1375.5" cy="985.3" r="10.6"/><circle cx="1377.9" cy="984.7" r="10.6"/><circle cx="1380.2" cy="985.1" r="10.6"/><circle cx="1382.6" cy="985.6" r="10.6"/><circle cx="1384.9" cy="984.5" r="10.6"/><circle cx="1387.2" cy="984.7" r="10.6"/><circle cx="1389.6" cy="985.2" r="10.6"/><circle cx="1391.9" cy="985" r="10.6"/><circle cx="1394.3" cy="985.1" r="10.6"/><circle cx="1396.6" cy="985" r="10.6"/><circle cx="1398.9" cy="985.3" r="10.6"/><circle cx="1401.3" cy="985.2" r="10.6"/><circle cx="1403.6" cy="984.9" r="10.6"/><circle cx="1406" cy="985" r="10.6"/><circle cx="1408.3" cy="984.8" r="10.6"/><circle cx="1410.6" cy="985" r="10.6"/><circle cx="1413" cy="984.6" r="10.6"/><circle cx="1415.3" cy="985.2" r="10.6"/><circle cx="1417.7" cy="985" r="10.6"/><circle cx="1420" cy="985.4" r="10.6"/><circle cx="1422.3" cy="985.3" r="10.6"/><circle cx="1424.7" cy="984.8" r="10.6"/><circle cx="1427" cy="985.2" r="10.6"/><circle cx="1429.4" cy="984.9" r="10.6"/><circle cx="1431.7" cy="985" r="10.6"/><circle cx="1434" cy="985.2" r="10.6"/><circle cx="1436.4" cy="985.1" r="10.6"/><circle cx="1438.7" cy="985.1" r="10.6"/><circle cx="1441.1" cy="985.1" r="10.6"/><circle cx="1443.4" cy="984.9" r="10.6"/><circle cx="1445.7" cy="984.9" r="10.6"/><circle cx="1448.1" cy="985.2" r="10.6"/><circle cx="1450.4" cy="985.2" r="10.6"/><circle cx="1452.8" cy="985" r="10.6"/><circle cx="1455.1" cy="985.1" r="10.6"/><circle cx="1457.4" cy="984.8" r="10.6"/><circle cx="1459.8" cy="984.5" r="10.6"/><circle cx="1462.1" cy="984.9" r="10.6"/><circle cx="1464.5" cy="985.1" r="10.6"/><circle cx="1466.8" cy="985.1" r="10.6"/><circle cx="1469.2" cy="985.2" r="10.6"/><circle cx="1471.5" cy="985.2" r="10.6"/><circle cx="1473.8" cy="985.3" r="10.6"/><circle cx="1476.2" cy="985.1" r="10.6"/><circle cx="1478.5" cy="985.1" r="10.6"/><circle cx="1480.9" cy="984.9" r="10.6"/><circle cx="1483.2" cy="985.1" r="10.6"/><circle cx="1485.5" cy="985.1" r="10.6"/><circle cx="1487.9" cy="985.3" r="10.6"/><circle cx="1490.2" cy="984.7" r="10.6"/><circle cx="1492.6" cy="985" r="10.6"/><circle cx="1494.9" cy="984.7" r="10.6"/><circle cx="1497.2" cy="984.9" r="10.6"/><circle cx="1499.6" cy="984.8" r="10.6"/><circle cx="1501.9" cy="985.1" r="10.6"/><circle cx="1504.3" cy="984.9" r="10.6"/><circle cx="1506.6" cy="984.5" r="10.6"/><circle cx="1508.9" cy="985.3" r="10.6"/><circle cx="1511.3" cy="984.8" r="10.6"/><circle cx="1513.6" cy="984.7" r="10.6"/><circle cx="1516" cy="985" r="10.6"/><circle cx="1518.3" cy="984.9" r="10.6"/><circle cx="1520.6" cy="984.8" r="10.6"/><circle cx="1523" cy="985.2" r="10.6"/><circle cx="1525.3" cy="985" r="10.6"/><circle cx="1527.7" cy="985.3" r="10.6"/><circle cx="1530" cy="985.2" r="10.6"/><circle cx="1532.3" cy="985.2" r="10.6"/>
</g>
<g font-size="49"><text transform="translate(316.90,1002.70) scale(1,1.04)" text-anchor="end">0</text><text transform="translate(316.90,831.58) scale(1,1.04)" text-anchor="end">2000</text><text transform="translate(316.90,660.46) scale(1,1.04)" text-anchor="end">4000</text><text transform="translate(316.90,489.34) scale(1,1.04)" text-anchor="end">6000</text><text transform="translate(316.90,318.22) scale(1,1.04)" text-anchor="end">8000</text><text transform="translate(316.90,147.10) scale(1,1.04)" text-anchor="end">10000</text><text transform="translate(348.10,1057.10) scale(1,1.04)" text-anchor="middle">0</text><text transform="translate(640.65,1057.10) scale(1,1.04)" text-anchor="middle">50</text><text transform="translate(933.20,1057.10) scale(1,1.04)" text-anchor="middle">100</text><text transform="translate(1225.75,1057.10) scale(1,1.04)" text-anchor="middle">150</text><text transform="translate(1518.30,1057.10) scale(1,1.04)" text-anchor="middle">200</text></g>
<g class="b"><text transform="translate(35.10,95.80) scale(0.932,1)" font-size="78.2">A</text><text transform="translate(90.90,93.90) scale(0.81,1)" font-size="78.6">)</text></g>
<g class="b" font-size="62"><text transform="translate(168.90,505.50) rotate(-90) scale(1,1.04)" text-anchor="middle">Intensity (Counts)</text></g>
<g class="b" font-size="62"><text transform="translate(771.40,1155.70) scale(1,1.04)">Time</text><text transform="translate(934.31,1155.70) scale(1,1.04)">(</text><text class="s" style="font-weight:normal" transform="translate(952.47,1157.30) scale(1.15,1)" font-size="84.0">μ</text><text transform="translate(1001.12,1155.70) scale(1.05,1.04)">S</text><text transform="translate(1044.94,1155.70) scale(1,1.04)">)</text></g>
<circle cx="1233.25" cy="88.05" r="10.75" fill="#fff" stroke="#000" stroke-width="1.4"/>
<circle cx="1233.25" cy="142.4" r="10.75" fill="#fff" stroke="#f00" stroke-width="1.4"/>
<g font-size="44.4"><text transform="translate(1294.90,102.90) scale(1,1.04)">In air</text><text transform="translate(1294.90,157.80) scale(1,1.04)">In nitrogen</text></g>
<g fill="#000"><text class="s" transform="translate(721.93,377.00)" font-size="62.5">τ</text><text transform="translate(749.53,393.80) scale(1,1.04)" font-size="36.5">air</text><text transform="translate(790.09,377.00) scale(1,1.04)" font-size="62.5">=7.64</text><text class="s" transform="translate(965.60,377.00) scale(1.2,1)" font-size="62.5">μ</text><text transform="translate(1001.60,377.00) scale(1,1.04)" font-size="62.5">s</text></g>
<g fill="#f00"><text class="s" transform="translate(721.93,474.00)" font-size="62.5">τ</text><text transform="translate(749.53,490.80) scale(1,1.04)" font-size="36.5">nitrogen</text><text transform="translate(881.43,474.00) scale(1,1.04)" font-size="62.5">=23.65</text><text class="s" transform="translate(1091.70,474.00) scale(1.2,1)" font-size="62.5">μ</text><text transform="translate(1127.70,474.00) scale(1,1.04)" font-size="62.5">s</text></g>
<clipPath id="cB"><rect x="368.3" y="1219.4" width="1171.0" height="941.7"/></clipPath>
<path stroke="#000" fill="none" stroke-width="3.7" d="M350.5 2160.85H1540.4"/>
<path stroke="#000" fill="none" stroke-width="3.2" d="M359.5 1219.4H1540.4M359.5 2075.0H368.5M350.5 1989.5H368.5M359.5 1903.9H368.5M350.5 1818.4H368.5M359.5 1732.8H368.5M350.5 1647.2H368.5M359.5 1561.7H368.5M350.5 1476.1H368.5M359.5 1390.6H368.5M350.5 1305.0H368.5"/>
<path stroke="#000" fill="none" stroke-width="3.5" d="M1538.7 1217.9V2178.6M368.5 1217.9V2178.6M514.8 2160.6V2169.6M661.0 2160.6V2178.6M807.3 2160.6V2169.6M953.6 2160.6V2178.6M1099.9 2160.6V2169.6M1246.2 2160.6V2178.6M1392.4 2160.6V2169.6"/>
<g class="bk" clip-path="url(#cB)" fill="none" stroke-width="1.55">
<circle cx="368.5" cy="1307.2" r="10.6"/><circle cx="369.7" cy="1317.4" r="10.6"/><circle cx="370.8" cy="1327.6" r="10.6"/><circle cx="372" cy="1354.6" r="10.6"/><circle cx="373.2" cy="1341.2" r="10.6"/><circle cx="374.4" cy="1360.5" r="10.6"/><circle cx="375.5" cy="1376.9" r="10.6"/><circle cx="376.7" cy="1398.4" r="10.6"/><circle cx="377.9" cy="1410.2" r="10.6"/><circle cx="379" cy="1419.6" r="10.6"/><circle cx="380.2" cy="1435.2" r="10.6"/><circle cx="381.4" cy="1465.2" r="10.6"/><circle cx="382.5" cy="1463.1" r="10.6"/><circle cx="383.7" cy="1463.6" r="10.6"/><circle cx="384.9" cy="1512.8" r="10.6"/><circle cx="386.1" cy="1509.4" r="10.6"/><circle cx="387.2" cy="1530" r="10.6"/><circle cx="388.4" cy="1549.6" r="10.6"/><circle cx="389.6" cy="1556.1" r="10.6"/><circle cx="390.7" cy="1589" r="10.6"/><circle cx="391.9" cy="1596.2" r="10.6"/><circle cx="393.1" cy="1603.6" r="10.6"/><circle cx="394.2" cy="1629.3" r="10.6"/><circle cx="395.4" cy="1645.5" r="10.6"/><circle cx="396.6" cy="1656.6" r="10.6"/><circle cx="397.8" cy="1674" r="10.6"/><circle cx="398.9" cy="1675.8" r="10.6"/><circle cx="400.1" cy="1703.3" r="10.6"/><circle cx="401.3" cy="1705.8" r="10.6"/><circle cx="402.4" cy="1730.2" r="10.6"/><circle cx="403.6" cy="1731.4" r="10.6"/><circle cx="404.8" cy="1747.3" r="10.6"/><circle cx="405.9" cy="1772.1" r="10.6"/><circle cx="407.1" cy="1769.1" r="10.6"/><circle cx="408.3" cy="1785.4" r="10.6"/><circle cx="409.5" cy="1792.5" r="10.6"/><circle cx="410.6" cy="1792.4" r="10.6"/><circle cx="411.8" cy="1815.8" r="10.6"/><circle cx="413" cy="1825" r="10.6"/><circle cx="414.1" cy="1822" r="10.6"/><circle cx="415.3" cy="1837.6" r="10.6"/><circle cx="416.5" cy="1839.6" r="10.6"/><circle cx="417.6" cy="1854.1" r="10.6"/><circle cx="418.8" cy="1868.2" r="10.6"/><circle cx="420" cy="1872.6" r="10.6"/><circle cx="421.2" cy="1874.7" r="10.6"/><circle cx="422.3" cy="1883.9" r="10.6"/><circle cx="423.5" cy="1895.6" r="10.6"/><circle cx="424.7" cy="1902.8" r="10.6"/><circle cx="425.8" cy="1910.6" r="10.6"/><circle cx="427" cy="1919.4" r="10.6"/><circle cx="428.2" cy="1915.6" r="10.6"/><circle cx="429.4" cy="1930.1" r="10.6"/><circle cx="430.5" cy="1941" r="10.6"/><circle cx="431.7" cy="1944.3" r="10.6"/><circle cx="432.9" cy="1945.5" r="10.6"/><circle cx="434" cy="1951.6" r="10.6"/><circle cx="435.2" cy="1960.2" r="10.6"/><circle cx="436.4" cy="1967.6" r="10.6"/><circle cx="437.5" cy="1970.3" r="10.6"/><circle cx="438.7" cy="1981.8" r="10.6"/><circle cx="439.9" cy="1985.5" r="10.6"/><circle cx="441.1" cy="1983" r="10.6"/><circle cx="442.2" cy="1992.4" r="10.6"/><circle cx="443.4" cy="1994.3" r="10.6"/><circle cx="444.6" cy="1996.1" r="10.6"/><circle cx="445.7" cy="2002.7" r="10.6"/><circle cx="446.9" cy="2009.3" r="10.6"/><circle cx="448.1" cy="2006.7" r="10.6"/><circle cx="449.2" cy="2015.7" r="10.6"/><circle cx="450.4" cy="2023" r="10.6"/><circle cx="451.6" cy="2023.4" r="10.6"/><circle cx="452.8" cy="2028.2" r="10.6"/><circle cx="453.9" cy="2035.7" r="10.6"/><circle cx="455.1" cy="2036.3" r="10.6"/><circle cx="456.3" cy="2040.4" r="10.6"/><circle cx="457.4" cy="2048.9" r="10.6"/><circle cx="458.6" cy="2046.7" r="10.6"/><circle cx="459.8" cy="2050" r="10.6"/><circle cx="460.9" cy="2053.4" r="10.6"/><circle cx="462.1" cy="2059.6" r="10.6"/><circle cx="463.3" cy="2058.8" r="10.6"/><circle cx="464.5" cy="2060.6" r="10.6"/><circle cx="465.6" cy="2062.9" r="10.6"/><circle cx="466.8" cy="2068.7" r="10.6"/><circle cx="468" cy="2066.6" r="10.6"/><circle cx="469.1" cy="2073.8" r="10.6"/><circle cx="470.3" cy="2073.7" r="10.6"/><circle cx="471.5" cy="2072.2" r="10.6"/><circle cx="472.6" cy="2079.4" r="10.6"/><circle cx="473.8" cy="2081.1" r="10.6"/><circle cx="475" cy="2079.4" r="10.6"/><circle cx="476.2" cy="2085" r="10.6"/><circle cx="477.3" cy="2086.7" r="10.6"/><circle cx="478.5" cy="2087.4" r="10.6"/><circle cx="479.7" cy="2087.4" r="10.6"/><circle cx="480.8" cy="2096.5" r="10.6"/><circle cx="482" cy="2095.1" r="10.6"/><circle cx="483.2" cy="2097.1" r="10.6"/><circle cx="484.3" cy="2098.9" r="10.6"/><circle cx="485.5" cy="2099.9" r="10.6"/><circle cx="486.7" cy="2101.3" r="10.6"/><circle cx="487.9" cy="2100.3" r="10.6"/><circle cx="489" cy="2104.1" r="10.6"/><circle cx="490.2" cy="2103.3" r="10.6"/><circle cx="491.4" cy="2104" r="10.6"/><circle cx="492.5" cy="2107.4" r="10.6"/><circle cx="493.7" cy="2106.9" r="10.6"/><circle cx="494.9" cy="2105.1" r="10.6"/><circle cx="496.1" cy="2108.8" r="10.6"/><circle cx="497.2" cy="2111.7" r="10.6"/><circle cx="498.4" cy="2111.6" r="10.6"/><circle cx="499.6" cy="2114.2" r="10.6"/><circle cx="500.7" cy="2112.9" r="10.6"/><circle cx="501.9" cy="2112.8" r="10.6"/><circle cx="503.1" cy="2116.8" r="10.6"/><circle cx="504.2" cy="2116.6" r="10.6"/><circle cx="505.4" cy="2115.1" r="10.6"/><circle cx="506.6" cy="2118.8" r="10.6"/><circle cx="507.8" cy="2118.4" r="10.6"/><circle cx="508.9" cy="2121.3" r="10.6"/><circle cx="510.1" cy="2121.7" r="10.6"/><circle cx="511.3" cy="2122" r="10.6"/><circle cx="512.4" cy="2118.3" r="10.6"/><circle cx="513.6" cy="2123.3" r="10.6"/><circle cx="514.8" cy="2124.2" r="10.6"/><circle cx="515.9" cy="2124.9" r="10.6"/><circle cx="517.1" cy="2124.9" r="10.6"/><circle cx="518.3" cy="2124.3" r="10.6"/><circle cx="519.5" cy="2125.7" r="10.6"/><circle cx="520.6" cy="2123.4" r="10.6"/><circle cx="521.8" cy="2126.9" r="10.6"/><circle cx="523" cy="2125.6" r="10.6"/><circle cx="524.1" cy="2127.9" r="10.6"/><circle cx="525.3" cy="2128" r="10.6"/><circle cx="526.5" cy="2131.6" r="10.6"/><circle cx="527.6" cy="2130.2" r="10.6"/><circle cx="528.8" cy="2130.6" r="10.6"/><circle cx="530" cy="2131.3" r="10.6"/><circle cx="531.2" cy="2134.5" r="10.6"/><circle cx="532.3" cy="2130.7" r="10.6"/><circle cx="533.5" cy="2133" r="10.6"/><circle cx="534.7" cy="2133.5" r="10.6"/><circle cx="535.8" cy="2133.7" r="10.6"/><circle cx="537" cy="2134.2" r="10.6"/><circle cx="538.2" cy="2133.8" r="10.6"/><circle cx="539.3" cy="2136.5" r="10.6"/><circle cx="540.5" cy="2136.5" r="10.6"/><circle cx="541.7" cy="2135.4" r="10.6"/><circle cx="542.9" cy="2136.1" r="10.6"/><circle cx="544" cy="2137.2" r="10.6"/><circle cx="545.2" cy="2138" r="10.6"/><circle cx="546.4" cy="2138.8" r="10.6"/><circle cx="547.5" cy="2138.3" r="10.6"/><circle cx="548.7" cy="2137.2" r="10.6"/><circle cx="549.9" cy="2140.4" r="10.6"/><circle cx="551.1" cy="2137.8" r="10.6"/><circle cx="552.2" cy="2139" r="10.6"/><circle cx="553.4" cy="2141" r="10.6"/><circle cx="554.6" cy="2140" r="10.6"/><circle cx="555.7" cy="2143" r="10.6"/><circle cx="556.9" cy="2143.7" r="10.6"/><circle cx="558.1" cy="2143.6" r="10.6"/><circle cx="559.2" cy="2143" r="10.6"/><circle cx="560.4" cy="2143.2" r="10.6"/><circle cx="561.6" cy="2143.8" r="10.6"/><circle cx="562.8" cy="2143.5" r="10.6"/><circle cx="563.9" cy="2146.2" r="10.6"/><circle cx="565.1" cy="2143.7" r="10.6"/><circle cx="566.3" cy="2146.1" r="10.6"/><circle cx="567.4" cy="2145.6" r="10.6"/><circle cx="568.6" cy="2145.6" r="10.6"/><circle cx="569.8" cy="2146.6" r="10.6"/><circle cx="570.9" cy="2147.1" r="10.6"/><circle cx="572.1" cy="2147" r="10.6"/><circle cx="573.3" cy="2146.3" r="10.6"/><circle cx="574.5" cy="2146" r="10.6"/><circle cx="575.6" cy="2146.2" r="10.6"/><circle cx="576.8" cy="2148" r="10.6"/><circle cx="578" cy="2148.1" r="10.6"/><circle cx="579.1" cy="2148.4" r="10.6"/><circle cx="580.3" cy="2147.4" r="10.6"/><circle cx="581.5" cy="2150" r="10.6"/><circle cx="582.6" cy="2147.2" r="10.6"/><circle cx="583.8" cy="2149" r="10.6"/><circle cx="585" cy="2149.5" r="10.6"/><circle cx="586.2" cy="2148.8" r="10.6"/><circle cx="587.3" cy="2148.4" r="10.6"/><circle cx="588.5" cy="2149.3" r="10.6"/><circle cx="589.7" cy="2148.9" r="10.6"/><circle cx="590.8" cy="2150" r="10.6"/><circle cx="592" cy="2149.3" r="10.6"/><circle cx="593.2" cy="2149.5" r="10.6"/><circle cx="594.3" cy="2150.9" r="10.6"/><circle cx="595.5" cy="2149.8" r="10.6"/><circle cx="596.7" cy="2151.1" r="10.6"/><circle cx="597.9" cy="2151.4" r="10.6"/><circle cx="599" cy="2152.4" r="10.6"/><circle cx="600.2" cy="2152.1" r="10.6"/><circle cx="601.4" cy="2151.5" r="10.6"/><circle cx="602.5" cy="2153.3" r="10.6"/><circle cx="603.7" cy="2152" r="10.6"/><circle cx="604.9" cy="2152.4" r="10.6"/><circle cx="606.1" cy="2152.6" r="10.6"/><circle cx="607.2" cy="2154.6" r="10.6"/><circle cx="608.4" cy="2153.2" r="10.6"/><circle cx="609.6" cy="2152.8" r="10.6"/><circle cx="610.7" cy="2154" r="10.6"/><circle cx="611.9" cy="2153.5" r="10.6"/><circle cx="613.1" cy="2155.4" r="10.6"/><circle cx="614.2" cy="2153.4" r="10.6"/><circle cx="615.4" cy="2154.5" r="10.6"/><circle cx="616.6" cy="2153.6" r="10.6"/><circle cx="617.8" cy="2155.5" r="10.6"/><circle cx="618.9" cy="2153.9" r="10.6"/><circle cx="620.1" cy="2154.7" r="10.6"/><circle cx="621.3" cy="2154.1" r="10.6"/><circle cx="622.4" cy="2155.3" r="10.6"/><circle cx="623.6" cy="2155.3" r="10.6"/><circle cx="624.8" cy="2153.6" r="10.6"/><circle cx="625.9" cy="2155.6" r="10.6"/><circle cx="627.1" cy="2155.6" r="10.6"/><circle cx="628.3" cy="2155.5" r="10.6"/><circle cx="629.5" cy="2156" r="10.6"/><circle cx="630.6" cy="2154.8" r="10.6"/><circle cx="631.8" cy="2154.6" r="10.6"/><circle cx="633" cy="2156.1" r="10.6"/><circle cx="634.1" cy="2156.8" r="10.6"/><circle cx="635.3" cy="2155.2" r="10.6"/><circle cx="636.5" cy="2155.3" r="10.6"/><circle cx="637.6" cy="2155.6" r="10.6"/><circle cx="638.8" cy="2155.5" r="10.6"/><circle cx="640" cy="2156.7" r="10.6"/><circle cx="641.2" cy="2156.4" r="10.6"/><circle cx="642.3" cy="2157.1" r="10.6"/><circle cx="643.5" cy="2157.2" r="10.6"/><circle cx="644.7" cy="2156" r="10.6"/><circle cx="645.8" cy="2157" r="10.6"/><circle cx="647" cy="2155.5" r="10.6"/><circle cx="648.2" cy="2156.7" r="10.6"/><circle cx="649.3" cy="2157.2" r="10.6"/><circle cx="650.5" cy="2156.5" r="10.6"/><circle cx="651.7" cy="2156.1" r="10.6"/><circle cx="652.9" cy="2156.8" r="10.6"/><circle cx="654" cy="2157.7" r="10.6"/><circle cx="655.2" cy="2157" r="10.6"/><circle cx="656.4" cy="2156.6" r="10.6"/><circle cx="657.5" cy="2157.6" r="10.6"/><circle cx="658.7" cy="2157.7" r="10.6"/><circle cx="659.9" cy="2157" r="10.6"/><circle cx="661" cy="2157.4" r="10.6"/><circle cx="662.2" cy="2158.1" r="10.6"/><circle cx="663.4" cy="2157.8" r="10.6"/><circle cx="664.6" cy="2158" r="10.6"/><circle cx="665.7" cy="2157.6" r="10.6"/><circle cx="666.9" cy="2157.7" r="10.6"/><circle cx="668.1" cy="2157.3" r="10.6"/><circle cx="669.2" cy="2157.6" r="10.6"/><circle cx="670.4" cy="2158.6" r="10.6"/><circle cx="671.6" cy="2157.8" r="10.6"/><circle cx="672.8" cy="2157.6" r="10.6"/><circle cx="673.9" cy="2157.9" r="10.6"/><circle cx="675.1" cy="2157.7" r="10.6"/><circle cx="676.3" cy="2158.4" r="10.6"/><circle cx="677.4" cy="2158.6" r="10.6"/><circle cx="678.6" cy="2157.9" r="10.6"/><circle cx="679.8" cy="2158.7" r="10.6"/><circle cx="680.9" cy="2159.2" r="10.6"/><circle cx="682.1" cy="2158" r="10.6"/><circle cx="683.3" cy="2158.7" r="10.6"/><circle cx="684.5" cy="2158.6" r="10.6"/><circle cx="685.6" cy="2159" r="10.6"/><circle cx="686.8" cy="2159" r="10.6"/><circle cx="688" cy="2159" r="10.6"/><circle cx="689.1" cy="2158.7" r="10.6"/><circle cx="690.3" cy="2158.5" r="10.6"/><circle cx="691.5" cy="2159.5" r="10.6"/><circle cx="692.6" cy="2158.4" r="10.6"/><circle cx="693.8" cy="2159.1" r="10.6"/><circle cx="695" cy="2159.1" r="10.6"/><circle cx="696.2" cy="2158.5" r="10.6"/><circle cx="697.3" cy="2158.8" r="10.6"/><circle cx="698.5" cy="2159.4" r="10.6"/><circle cx="699.7" cy="2158.2" r="10.6"/><circle cx="700.8" cy="2159.2" r="10.6"/><circle cx="702" cy="2158.8" r="10.6"/><circle cx="703.2" cy="2158.8" r="10.6"/><circle cx="704.3" cy="2158.5" r="10.6"/><circle cx="705.5" cy="2159.1" r="10.6"/><circle cx="706.7" cy="2158.6" r="10.6"/><circle cx="707.9" cy="2159.2" r="10.6"/><circle cx="709" cy="2158.6" r="10.6"/><circle cx="710.2" cy="2159.3" r="10.6"/><circle cx="711.4" cy="2159.2" r="10.6"/><circle cx="712.5" cy="2158.4" r="10.6"/><circle cx="713.7" cy="2159" r="10.6"/><circle cx="714.9" cy="2159.1" r="10.6"/><circle cx="716" cy="2158.4" r="10.6"/><circle cx="717.2" cy="2159" r="10.6"/><circle cx="718.4" cy="2159.4" r="10.6"/><circle cx="719.6" cy="2158.9" r="10.6"/><circle cx="720.7" cy="2159.6" r="10.6"/><circle cx="721.9" cy="2158.8" r="10.6"/><circle cx="723.1" cy="2158.8" r="10.6"/><circle cx="724.2" cy="2159.4" r="10.6"/><circle cx="725.4" cy="2159.4" r="10.6"/><circle cx="726.6" cy="2159.2" r="10.6"/><circle cx="727.8" cy="2159.3" r="10.6"/><circle cx="728.9" cy="2159.6" r="10.6"/><circle cx="730.1" cy="2159.1" r="10.6"/><circle cx="731.3" cy="2159.9" r="10.6"/><circle cx="732.4" cy="2159.5" r="10.6"/><circle cx="733.6" cy="2159.5" r="10.6"/><circle cx="734.8" cy="2159.4" r="10.6"/><circle cx="735.9" cy="2159.3" r="10.6"/><circle cx="737.1" cy="2159.7" r="10.6"/><circle cx="738.3" cy="2159.2" r="10.6"/><circle cx="739.5" cy="2159.5" r="10.6"/><circle cx="740.6" cy="2159.6" r="10.6"/><circle cx="741.8" cy="2159.8" r="10.6"/><circle cx="743" cy="2159.8" r="10.6"/><circle cx="744.1" cy="2159.4" r="10.6"/><circle cx="745.3" cy="2159.7" r="10.6"/><circle cx="746.5" cy="2159.5" r="10.6"/><circle cx="747.6" cy="2159.2" r="10.6"/><circle cx="748.8" cy="2159.2" r="10.6"/><circle cx="750" cy="2159.1" r="10.6"/><circle cx="751.2" cy="2159.6" r="10.6"/><circle cx="752.3" cy="2159.8" r="10.6"/><circle cx="753.5" cy="2159.3" r="10.6"/><circle cx="754.7" cy="2159.5" r="10.6"/><circle cx="755.8" cy="2159.3" r="10.6"/><circle cx="757" cy="2159.6" r="10.6"/><circle cx="758.2" cy="2159.3" r="10.6"/><circle cx="759.3" cy="2159.4" r="10.6"/><circle cx="760.5" cy="2159.4" r="10.6"/><circle cx="761.7" cy="2159.5" r="10.6"/><circle cx="762.9" cy="2159.5" r="10.6"/><circle cx="764" cy="2159.6" r="10.6"/><circle cx="765.2" cy="2159.6" r="10.6"/><circle cx="766.4" cy="2159.4" r="10.6"/><circle cx="767.5" cy="2159.8" r="10.6"/><circle cx="768.7" cy="2159.2" r="10.6"/><circle cx="769.9" cy="2159.7" r="10.6"/><circle cx="771" cy="2159.4" r="10.6"/><circle cx="772.2" cy="2159.7" r="10.6"/><circle cx="773.4" cy="2159.7" r="10.6"/><circle cx="774.6" cy="2159.1" r="10.6"/><circle cx="775.7" cy="2159.7" r="10.6"/><circle cx="776.9" cy="2160" r="10.6"/><circle cx="778.1" cy="2159.8" r="10.6"/><circle cx="779.2" cy="2159.7" r="10.6"/><circle cx="780.4" cy="2159.1" r="10.6"/><circle cx="781.6" cy="2159.6" r="10.6"/><circle cx="782.8" cy="2159.4" r="10.6"/><circle cx="783.9" cy="2159.9" r="10.6"/><circle cx="785.1" cy="2159.6" r="10.6"/><circle cx="786.3" cy="2159.5" r="10.6"/><circle cx="787.4" cy="2159.2" r="10.6"/><circle cx="788.6" cy="2159.8" r="10.6"/><circle cx="789.8" cy="2159.5" r="10.6"/><circle cx="790.9" cy="2159.6" r="10.6"/><circle cx="792.1" cy="2159.9" r="10.6"/><circle cx="793.3" cy="2159.7" r="10.6"/><circle cx="794.5" cy="2159.7" r="10.6"/><circle cx="795.6" cy="2160.3" r="10.6"/><circle cx="796.8" cy="2159.5" r="10.6"/><circle cx="798" cy="2159.5" r="10.6"/><circle cx="799.1" cy="2159.8" r="10.6"/><circle cx="800.3" cy="2160" r="10.6"/><circle cx="801.5" cy="2159.3" r="10.6"/><circle cx="802.6" cy="2159.6" r="10.6"/><circle cx="803.8" cy="2159.4" r="10.6"/><circle cx="805" cy="2159.3" r="10.6"/><circle cx="806.2" cy="2159.8" r="10.6"/><circle cx="807.3" cy="2159.5" r="10.6"/><circle cx="808.5" cy="2159.7" r="10.6"/><circle cx="809.7" cy="2159.7" r="10.6"/><circle cx="810.8" cy="2159.7" r="10.6"/><circle cx="812" cy="2159.7" r="10.6"/><circle cx="813.2" cy="2159.4" r="10.6"/><circle cx="814.3" cy="2159.7" r="10.6"/><circle cx="815.5" cy="2159.7" r="10.6"/><circle cx="816.7" cy="2159.8" r="10.6"/><circle cx="817.9" cy="2159.6" r="10.6"/><circle cx="819" cy="2159.9" r="10.6"/><circle cx="820.2" cy="2159.8" r="10.6"/><circle cx="821.4" cy="2159.7" r="10.6"/><circle cx="822.5" cy="2159.8" r="10.6"/><circle cx="823.7" cy="2159.7" r="10.6"/><circle cx="824.9" cy="2159.8" r="10.6"/><circle cx="826" cy="2159.2" r="10.6"/><circle cx="827.2" cy="2159.4" r="10.6"/><circle cx="828.4" cy="2159.6" r="10.6"/><circle cx="829.6" cy="2159.7" r="10.6"/><circle cx="830.7" cy="2159.1" r="10.6"/><circle cx="831.9" cy="2159.6" r="10.6"/><circle cx="833.1" cy="2159.7" r="10.6"/><circle cx="834.2" cy="2159.6" r="10.6"/><circle cx="835.4" cy="2159.6" r="10.6"/><circle cx="836.6" cy="2159.3" r="10.6"/><circle cx="837.8" cy="2159.7" r="10.6"/><circle cx="838.9" cy="2159.2" r="10.6"/><circle cx="840.1" cy="2159.9" r="10.6"/><circle cx="841.3" cy="2159.5" r="10.6"/><circle cx="842.4" cy="2159.9" r="10.6"/><circle cx="843.6" cy="2159.2" r="10.6"/><circle cx="844.8" cy="2159.8" r="10.6"/><circle cx="845.9" cy="2159.7" r="10.6"/><circle cx="847.1" cy="2159.5" r="10.6"/><circle cx="848.3" cy="2159.4" r="10.6"/><circle cx="849.5" cy="2160" r="10.6"/><circle cx="850.6" cy="2159.8" r="10.6"/><circle cx="851.8" cy="2160" r="10.6"/><circle cx="853" cy="2159.7" r="10.6"/><circle cx="854.1" cy="2159.7" r="10.6"/><circle cx="855.3" cy="2159.8" r="10.6"/><circle cx="856.5" cy="2159.9" r="10.6"/><circle cx="857.6" cy="2159.8" r="10.6"/><circle cx="858.8" cy="2159.9" r="10.6"/><circle cx="860" cy="2159.6" r="10.6"/><circle cx="861.2" cy="2159.3" r="10.6"/><circle cx="862.3" cy="2160.2" r="10.6"/><circle cx="863.5" cy="2159.7" r="10.6"/><circle cx="864.7" cy="2159.8" r="10.6"/><circle cx="865.8" cy="2159.6" r="10.6"/><circle cx="867" cy="2159.9" r="10.6"/><circle cx="868.2" cy="2159.7" r="10.6"/><circle cx="869.3" cy="2160" r="10.6"/><circle cx="870.5" cy="2159.5" r="10.6"/><circle cx="871.7" cy="2159.7" r="10.6"/><circle cx="872.9" cy="2159.7" r="10.6"/><circle cx="874" cy="2159.6" r="10.6"/><circle cx="875.2" cy="2159.8" r="10.6"/><circle cx="876.4" cy="2160.1" r="10.6"/><circle cx="877.5" cy="2159.6" r="10.6"/><circle cx="878.7" cy="2159.6" r="10.6"/><circle cx="879.9" cy="2159.8" r="10.6"/><circle cx="881" cy="2159.5" r="10.6"/><circle cx="882.2" cy="2159.4" r="10.6"/><circle cx="883.4" cy="2160" r="10.6"/><circle cx="884.6" cy="2159.9" r="10.6"/><circle cx="885.7" cy="2159.3" r="10.6"/><circle cx="886.9" cy="2159.4" r="10.6"/><circle cx="888.1" cy="2159.9" r="10.6"/><circle cx="889.2" cy="2160" r="10.6"/><circle cx="890.4" cy="2159.9" r="10.6"/><circle cx="891.6" cy="2159.8" r="10.6"/><circle cx="892.7" cy="2160.1" r="10.6"/><circle cx="893.9" cy="2159.7" r="10.6"/><circle cx="895.1" cy="2160" r="10.6"/><circle cx="896.3" cy="2160" r="10.6"/><circle cx="897.4" cy="2159.5" r="10.6"/><circle cx="898.6" cy="2159.9" r="10.6"/><circle cx="899.8" cy="2159.7" r="10.6"/><circle cx="900.9" cy="2159.6" r="10.6"/><circle cx="902.1" cy="2159.5" r="10.6"/><circle cx="903.3" cy="2159.8" r="10.6"/><circle cx="904.5" cy="2159.7" r="10.6"/><circle cx="905.6" cy="2159.9" r="10.6"/><circle cx="906.8" cy="2159.3" r="10.6"/><circle cx="908" cy="2159.6" r="10.6"/><circle cx="909.1" cy="2160" r="10.6"/><circle cx="910.3" cy="2159.7" r="10.6"/><circle cx="911.5" cy="2159.6" r="10.6"/><circle cx="912.6" cy="2159.6" r="10.6"/><circle cx="913.8" cy="2159.3" r="10.6"/><circle cx="915" cy="2159.4" r="10.6"/><circle cx="916.2" cy="2159.9" r="10.6"/><circle cx="917.3" cy="2159.8" r="10.6"/><circle cx="918.5" cy="2160" r="10.6"/><circle cx="919.7" cy="2159.7" r="10.6"/><circle cx="920.8" cy="2159.7" r="10.6"/><circle cx="922" cy="2159.1" r="10.6"/><circle cx="923.2" cy="2159.7" r="10.6"/><circle cx="924.3" cy="2160.2" r="10.6"/><circle cx="925.5" cy="2159.9" r="10.6"/><circle cx="926.7" cy="2159.7" r="10.6"/><circle cx="927.9" cy="2160" r="10.6"/><circle cx="929" cy="2159.9" r="10.6"/><circle cx="930.2" cy="2159.8" r="10.6"/><circle cx="931.4" cy="2159.7" r="10.6"/><circle cx="932.5" cy="2159.8" r="10.6"/><circle cx="933.7" cy="2160" r="10.6"/><circle cx="934.9" cy="2159.5" r="10.6"/><circle cx="936" cy="2159.9" r="10.6"/><circle cx="937.2" cy="2159.9" r="10.6"/><circle cx="938.4" cy="2160.1" r="10.6"/><circle cx="939.6" cy="2159.9" r="10.6"/><circle cx="940.7" cy="2159.6" r="10.6"/><circle cx="941.9" cy="2160.1" r="10.6"/><circle cx="943.1" cy="2159.8" r="10.6"/><circle cx="944.2" cy="2159.6" r="10.6"/><circle cx="945.4" cy="2159.8" r="10.6"/><circle cx="946.6" cy="2159.7" r="10.6"/><circle cx="947.7" cy="2160" r="10.6"/><circle cx="948.9" cy="2159.4" r="10.6"/><circle cx="950.1" cy="2159.5" r="10.6"/><circle cx="951.3" cy="2159.7" r="10.6"/><circle cx="952.4" cy="2160.2" r="10.6"/><circle cx="953.6" cy="2160" r="10.6"/><circle cx="954.8" cy="2159.5" r="10.6"/><circle cx="955.9" cy="2159.3" r="10.6"/><circle cx="957.1" cy="2159.7" r="10.6"/><circle cx="958.3" cy="2159.4" r="10.6"/><circle cx="959.5" cy="2159.9" r="10.6"/><circle cx="960.6" cy="2159.8" r="10.6"/><circle cx="961.8" cy="2159.7" r="10.6"/><circle cx="963" cy="2159.6" r="10.6"/><circle cx="964.1" cy="2160.1" r="10.6"/><circle cx="965.3" cy="2159.5" r="10.6"/><circle cx="966.5" cy="2159.4" r="10.6"/><circle cx="967.6" cy="2160" r="10.6"/><circle cx="968.8" cy="2160.1" r="10.6"/><circle cx="970" cy="2159.7" r="10.6"/><circle cx="971.2" cy="2159.9" r="10.6"/><circle cx="972.3" cy="2160.3" r="10.6"/><circle cx="973.5" cy="2159.5" r="10.6"/><circle cx="974.7" cy="2159.7" r="10.6"/><circle cx="975.8" cy="2159.9" r="10.6"/><circle cx="977" cy="2159.2" r="10.6"/><circle cx="978.2" cy="2159.7" r="10.6"/><circle cx="979.3" cy="2159.9" r="10.6"/><circle cx="980.5" cy="2159.7" r="10.6"/><circle cx="981.7" cy="2160" r="10.6"/><circle cx="982.9" cy="2159.9" r="10.6"/><circle cx="984" cy="2159.7" r="10.6"/><circle cx="985.2" cy="2159.9" r="10.6"/><circle cx="986.4" cy="2159.9" r="10.6"/><circle cx="987.5" cy="2159.3" r="10.6"/><circle cx="988.7" cy="2159.5" r="10.6"/><circle cx="989.9" cy="2159.5" r="10.6"/><circle cx="991" cy="2159.6" r="10.6"/><circle cx="992.2" cy="2159.6" r="10.6"/><circle cx="993.4" cy="2159.4" r="10.6"/><circle cx="994.6" cy="2159.7" r="10.6"/><circle cx="995.7" cy="2159.3" r="10.6"/><circle cx="996.9" cy="2160" r="10.6"/><circle cx="998.1" cy="2159.8" r="10.6"/><circle cx="999.2" cy="2160.1" r="10.6"/><circle cx="1000.4" cy="2159.8" r="10.6"/><circle cx="1001.6" cy="2159.6" r="10.6"/><circle cx="1002.7" cy="2159.4" r="10.6"/><circle cx="1003.9" cy="2159.9" r="10.6"/><circle cx="1005.1" cy="2159.7" r="10.6"/><circle cx="1006.3" cy="2159.8" r="10.6"/><circle cx="1007.4" cy="2159.9" r="10.6"/><circle cx="1008.6" cy="2160" r="10.6"/><circle cx="1009.8" cy="2159.7" r="10.6"/><circle cx="1010.9" cy="2160.2" r="10.6"/><circle cx="1012.1" cy="2159.7" r="10.6"/><circle cx="1013.3" cy="2159.7" r="10.6"/><circle cx="1014.5" cy="2159.9" r="10.6"/><circle cx="1015.6" cy="2160" r="10.6"/><circle cx="1016.8" cy="2160.1" r="10.6"/><circle cx="1018" cy="2159.3" r="10.6"/><circle cx="1019.1" cy="2160.1" r="10.6"/><circle cx="1020.3" cy="2159.4" r="10.6"/><circle cx="1021.5" cy="2159.6" r="10.6"/><circle cx="1022.6" cy="2159.8" r="10.6"/><circle cx="1023.8" cy="2160" r="10.6"/><circle cx="1025" cy="2159.5" r="10.6"/><circle cx="1026.2" cy="2159.3" r="10.6"/><circle cx="1027.3" cy="2160" r="10.6"/><circle cx="1028.5" cy="2159.8" r="10.6"/><circle cx="1029.7" cy="2159.5" r="10.6"/><circle cx="1030.8" cy="2159.7" r="10.6"/><circle cx="1032" cy="2159.3" r="10.6"/><circle cx="1033.2" cy="2159.9" r="10.6"/><circle cx="1034.3" cy="2159.6" r="10.6"/><circle cx="1035.5" cy="2160" r="10.6"/><circle cx="1036.7" cy="2159.2" r="10.6"/><circle cx="1037.9" cy="2159.9" r="10.6"/><circle cx="1039" cy="2160.3" r="10.6"/><circle cx="1040.2" cy="2159.8" r="10.6"/><circle cx="1041.4" cy="2159.8" r="10.6"/><circle cx="1042.5" cy="2159.3" r="10.6"/><circle cx="1043.7" cy="2159.8" r="10.6"/><circle cx="1044.9" cy="2159.7" r="10.6"/><circle cx="1046" cy="2159.6" r="10.6"/><circle cx="1047.2" cy="2159.4" r="10.6"/><circle cx="1048.4" cy="2159.8" r="10.6"/><circle cx="1049.6" cy="2159.5" r="10.6"/><circle cx="1050.7" cy="2159.6" r="10.6"/><circle cx="1051.9" cy="2159.8" r="10.6"/><circle cx="1053.1" cy="2159.7" r="10.6"/><circle cx="1054.2" cy="2159.7" r="10.6"/><circle cx="1055.4" cy="2160" r="10.6"/><circle cx="1056.6" cy="2159.4" r="10.6"/><circle cx="1057.7" cy="2160.1" r="10.6"/><circle cx="1058.9" cy="2159.5" r="10.6"/><circle cx="1060.1" cy="2159.5" r="10.6"/><circle cx="1061.3" cy="2159.8" r="10.6"/><circle cx="1062.4" cy="2159.9" r="10.6"/><circle cx="1063.6" cy="2159.8" r="10.6"/><circle cx="1064.8" cy="2159.6" r="10.6"/><circle cx="1065.9" cy="2159.6" r="10.6"/><circle cx="1067.1" cy="2159.7" r="10.6"/><circle cx="1068.3" cy="2159.5" r="10.6"/><circle cx="1069.4" cy="2159.9" r="10.6"/><circle cx="1070.6" cy="2159.7" r="10.6"/><circle cx="1071.8" cy="2160.1" r="10.6"/><circle cx="1073" cy="2159.6" r="10.6"/><circle cx="1074.1" cy="2159.7" r="10.6"/><circle cx="1075.3" cy="2159.8" r="10.6"/><circle cx="1076.5" cy="2159.5" r="10.6"/><circle cx="1077.6" cy="2159.6" r="10.6"/><circle cx="1078.8" cy="2160.4" r="10.6"/><circle cx="1080" cy="2159.7" r="10.6"/><circle cx="1081.2" cy="2160.1" r="10.6"/><circle cx="1082.3" cy="2159.5" r="10.6"/><circle cx="1083.5" cy="2159.1" r="10.6"/><circle cx="1084.7" cy="2159.9" r="10.6"/><circle cx="1085.8" cy="2159.7" r="10.6"/><circle cx="1087" cy="2159.8" r="10.6"/><circle cx="1088.2" cy="2159.7" r="10.6"/><circle cx="1089.3" cy="2159.6" r="10.6"/><circle cx="1090.5" cy="2159.4" r="10.6"/><circle cx="1091.7" cy="2160" r="10.6"/><circle cx="1092.9" cy="2159.4" r="10.6"/><circle cx="1094" cy="2160" r="10.6"/><circle cx="1095.2" cy="2159.7" r="10.6"/><circle cx="1096.4" cy="2159.5" r="10.6"/><circle cx="1097.5" cy="2159.6" r="10.6"/><circle cx="1098.7" cy="2160" r="10.6"/><circle cx="1099.9" cy="2159.9" r="10.6"/><circle cx="1101" cy="2159.9" r="10.6"/><circle cx="1102.2" cy="2159.8" r="10.6"/><circle cx="1103.4" cy="2159.5" r="10.6"/><circle cx="1104.6" cy="2160.1" r="10.6"/><circle cx="1105.7" cy="2159.6" r="10.6"/><circle cx="1106.9" cy="2159.6" r="10.6"/><circle cx="1108.1" cy="2159.6" r="10.6"/><circle cx="1109.2" cy="2159.6" r="10.6"/><circle cx="1110.4" cy="2159.4" r="10.6"/><circle cx="1111.6" cy="2159.6" r="10.6"/><circle cx="1112.7" cy="2159.5" r="10.6"/><circle cx="1113.9" cy="2159.6" r="10.6"/><circle cx="1115.1" cy="2159.3" r="10.6"/><circle cx="1116.3" cy="2160.2" r="10.6"/><circle cx="1117.4" cy="2159.4" r="10.6"/><circle cx="1118.6" cy="2159.8" r="10.6"/><circle cx="1119.8" cy="2159.8" r="10.6"/><circle cx="1120.9" cy="2160" r="10.6"/><circle cx="1122.1" cy="2160.2" r="10.6"/><circle cx="1123.3" cy="2159.8" r="10.6"/><circle cx="1124.4" cy="2159.9" r="10.6"/><circle cx="1125.6" cy="2159.6" r="10.6"/><circle cx="1126.8" cy="2160.1" r="10.6"/><circle cx="1128" cy="2159.4" r="10.6"/><circle cx="1129.1" cy="2159.7" r="10.6"/><circle cx="1130.3" cy="2159.8" r="10.6"/><circle cx="1131.5" cy="2159.9" r="10.6"/><circle cx="1132.6" cy="2159.9" r="10.6"/><circle cx="1133.8" cy="2160" r="10.6"/><circle cx="1135" cy="2159.9" r="10.6"/><circle cx="1136.2" cy="2159.7" r="10.6"/><circle cx="1137.3" cy="2159.8" r="10.6"/><circle cx="1138.5" cy="2160.1" r="10.6"/><circle cx="1139.7" cy="2159.8" r="10.6"/><circle cx="1140.8" cy="2160" r="10.6"/><circle cx="1142" cy="2159.7" r="10.6"/><circle cx="1143.2" cy="2159.3" r="10.6"/><circle cx="1144.3" cy="2159.6" r="10.6"/><circle cx="1145.5" cy="2159.8" r="10.6"/><circle cx="1146.7" cy="2160.1" r="10.6"/><circle cx="1147.9" cy="2160.1" r="10.6"/><circle cx="1149" cy="2160.2" r="10.6"/><circle cx="1150.2" cy="2159.6" r="10.6"/><circle cx="1151.4" cy="2159.9" r="10.6"/><circle cx="1152.5" cy="2159.7" r="10.6"/><circle cx="1153.7" cy="2159.9" r="10.6"/><circle cx="1154.9" cy="2159.7" r="10.6"/><circle cx="1156" cy="2159.4" r="10.6"/><circle cx="1157.2" cy="2159.9" r="10.6"/><circle cx="1158.4" cy="2159.8" r="10.6"/><circle cx="1159.6" cy="2159.9" r="10.6"/><circle cx="1160.7" cy="2159.5" r="10.6"/><circle cx="1161.9" cy="2160" r="10.6"/><circle cx="1163.1" cy="2160" r="10.6"/><circle cx="1164.2" cy="2160.1" r="10.6"/><circle cx="1165.4" cy="2160.1" r="10.6"/><circle cx="1166.6" cy="2159.6" r="10.6"/><circle cx="1167.7" cy="2159.1" r="10.6"/><circle cx="1168.9" cy="2160" r="10.6"/><circle cx="1170.1" cy="2159.5" r="10.6"/><circle cx="1171.3" cy="2159.7" r="10.6"/><circle cx="1172.4" cy="2160" r="10.6"/><circle cx="1173.6" cy="2159.8" r="10.6"/><circle cx="1174.8" cy="2159.8" r="10.6"/><circle cx="1175.9" cy="2159.9" r="10.6"/><circle cx="1177.1" cy="2159.3" r="10.6"/><circle cx="1178.3" cy="2160.2" r="10.6"/><circle cx="1179.4" cy="2159.7" r="10.6"/><circle cx="1180.6" cy="2159.7" r="10.6"/><circle cx="1181.8" cy="2159.9" r="10.6"/><circle cx="1183" cy="2159.7" r="10.6"/><circle cx="1184.1" cy="2159.5" r="10.6"/><circle cx="1185.3" cy="2159.7" r="10.6"/><circle cx="1186.5" cy="2159.6" r="10.6"/><circle cx="1187.6" cy="2159.6" r="10.6"/><circle cx="1188.8" cy="2160.2" r="10.6"/><circle cx="1190" cy="2159.4" r="10.6"/><circle cx="1191.2" cy="2159.2" r="10.6"/><circle cx="1192.3" cy="2159.5" r="10.6"/><circle cx="1193.5" cy="2159.5" r="10.6"/><circle cx="1194.7" cy="2160.1" r="10.6"/><circle cx="1195.8" cy="2159.8" r="10.6"/><circle cx="1197" cy="2159.9" r="10.6"/><circle cx="1198.2" cy="2159.9" r="10.6"/><circle cx="1199.3" cy="2159.5" r="10.6"/><circle cx="1200.5" cy="2159.9" r="10.6"/><circle cx="1201.7" cy="2159.8" r="10.6"/><circle cx="1202.9" cy="2160.2" r="10.6"/><circle cx="1204" cy="2159.8" r="10.6"/><circle cx="1205.2" cy="2159.7" r="10.6"/><circle cx="1206.4" cy="2159.9" r="10.6"/><circle cx="1207.5" cy="2159.9" r="10.6"/><circle cx="1208.7" cy="2159.3" r="10.6"/><circle cx="1209.9" cy="2160" r="10.6"/><circle cx="1211" cy="2160" r="10.6"/><circle cx="1212.2" cy="2159.9" r="10.6"/><circle cx="1213.4" cy="2159.5" r="10.6"/><circle cx="1214.6" cy="2159.2" r="10.6"/><circle cx="1215.7" cy="2159.7" r="10.6"/><circle cx="1216.9" cy="2159.9" r="10.6"/><circle cx="1218.1" cy="2159.8" r="10.6"/><circle cx="1219.2" cy="2159.5" r="10.6"/><circle cx="1220.4" cy="2160" r="10.6"/><circle cx="1221.6" cy="2159.4" r="10.6"/><circle cx="1222.7" cy="2159.4" r="10.6"/><circle cx="1223.9" cy="2159.7" r="10.6"/><circle cx="1225.1" cy="2159.6" r="10.6"/><circle cx="1226.3" cy="2159.6" r="10.6"/><circle cx="1227.4" cy="2159.4" r="10.6"/><circle cx="1228.6" cy="2160" r="10.6"/><circle cx="1229.8" cy="2159.5" r="10.6"/><circle cx="1230.9" cy="2159.8" r="10.6"/><circle cx="1232.1" cy="2159.9" r="10.6"/><circle cx="1233.3" cy="2159.7" r="10.6"/><circle cx="1234.4" cy="2159.8" r="10.6"/><circle cx="1235.6" cy="2160" r="10.6"/><circle cx="1236.8" cy="2160.1" r="10.6"/><circle cx="1238" cy="2160" r="10.6"/><circle cx="1239.1" cy="2159.4" r="10.6"/><circle cx="1240.3" cy="2159.3" r="10.6"/><circle cx="1241.5" cy="2159.6" r="10.6"/><circle cx="1242.6" cy="2159.5" r="10.6"/><circle cx="1243.8" cy="2159.9" r="10.6"/><circle cx="1245" cy="2159.8" r="10.6"/><circle cx="1246.2" cy="2159.7" r="10.6"/><circle cx="1247.3" cy="2160" r="10.6"/><circle cx="1248.5" cy="2160" r="10.6"/><circle cx="1249.7" cy="2159.7" r="10.6"/><circle cx="1250.8" cy="2159.8" r="10.6"/><circle cx="1252" cy="2160" r="10.6"/><circle cx="1253.2" cy="2159.7" r="10.6"/><circle cx="1254.3" cy="2159.8" r="10.6"/><circle cx="1255.5" cy="2159.5" r="10.6"/><circle cx="1256.7" cy="2159.7" r="10.6"/><circle cx="1257.9" cy="2159.8" r="10.6"/><circle cx="1259" cy="2159.7" r="10.6"/><circle cx="1260.2" cy="2159.8" r="10.6"/><circle cx="1261.4" cy="2159.9" r="10.6"/><circle cx="1262.5" cy="2159.8" r="10.6"/><circle cx="1263.7" cy="2159.6" r="10.6"/><circle cx="1264.9" cy="2159.6" r="10.6"/><circle cx="1266" cy="2159.4" r="10.6"/><circle cx="1267.2" cy="2160.2" r="10.6"/><circle cx="1268.4" cy="2159.8" r="10.6"/><circle cx="1269.6" cy="2159.8" r="10.6"/><circle cx="1270.7" cy="2159.7" r="10.6"/><circle cx="1271.9" cy="2159.9" r="10.6"/><circle cx="1273.1" cy="2159.9" r="10.6"/><circle cx="1274.2" cy="2159.6" r="10.6"/><circle cx="1275.4" cy="2159.7" r="10.6"/><circle cx="1276.6" cy="2160" r="10.6"/><circle cx="1277.7" cy="2159.4" r="10.6"/><circle cx="1278.9" cy="2159.5" r="10.6"/><circle cx="1280.1" cy="2159.9" r="10.6"/><circle cx="1281.3" cy="2159.5" r="10.6"/><circle cx="1282.4" cy="2159.9" r="10.6"/><circle cx="1283.6" cy="2159.5" r="10.6"/><circle cx="1284.8" cy="2159.8" r="10.6"/><circle cx="1285.9" cy="2159.9" r="10.6"/><circle cx="1287.1" cy="2159.8" r="10.6"/><circle cx="1288.3" cy="2159.9" r="10.6"/><circle cx="1289.4" cy="2159.7" r="10.6"/><circle cx="1290.6" cy="2159.7" r="10.6"/><circle cx="1291.8" cy="2159.7" r="10.6"/><circle cx="1293" cy="2159.9" r="10.6"/><circle cx="1294.1" cy="2160.6" r="10.6"/><circle cx="1295.3" cy="2159.7" r="10.6"/><circle cx="1296.5" cy="2160.2" r="10.6"/><circle cx="1297.6" cy="2159.7" r="10.6"/><circle cx="1298.8" cy="2159.5" r="10.6"/><circle cx="1300" cy="2159.7" r="10.6"/><circle cx="1301.1" cy="2159.8" r="10.6"/><circle cx="1302.3" cy="2159.8" r="10.6"/><circle cx="1303.5" cy="2159.8" r="10.6"/><circle cx="1304.7" cy="2159.9" r="10.6"/><circle cx="1305.8" cy="2159.9" r="10.6"/><circle cx="1307" cy="2160" r="10.6"/><circle cx="1308.2" cy="2159.5" r="10.6"/><circle cx="1309.3" cy="2159.7" r="10.6"/><circle cx="1310.5" cy="2159.5" r="10.6"/><circle cx="1311.7" cy="2159.8" r="10.6"/><circle cx="1312.9" cy="2159.7" r="10.6"/><circle cx="1314" cy="2159.8" r="10.6"/><circle cx="1315.2" cy="2159.6" r="10.6"/><circle cx="1316.4" cy="2159.5" r="10.6"/><circle cx="1317.5" cy="2159.7" r="10.6"/><circle cx="1318.7" cy="2159.9" r="10.6"/><circle cx="1319.9" cy="2159.9" r="10.6"/><circle cx="1321" cy="2159.3" r="10.6"/><circle cx="1322.2" cy="2159.8" r="10.6"/><circle cx="1323.4" cy="2159.8" r="10.6"/><circle cx="1324.6" cy="2159.4" r="10.6"/><circle cx="1325.7" cy="2159.5" r="10.6"/><circle cx="1326.9" cy="2159.6" r="10.6"/><circle cx="1328.1" cy="2159.8" r="10.6"/><circle cx="1329.2" cy="2159.2" r="10.6"/><circle cx="1330.4" cy="2159.6" r="10.6"/><circle cx="1331.6" cy="2159.6" r="10.6"/><circle cx="1332.7" cy="2159.8" r="10.6"/><circle cx="1333.9" cy="2160.1" r="10.6"/><circle cx="1335.1" cy="2160.1" r="10.6"/><circle cx="1336.3" cy="2159.6" r="10.6"/><circle cx="1337.4" cy="2159.6" r="10.6"/><circle cx="1338.6" cy="2159.8" r="10.6"/><circle cx="1339.8" cy="2160" r="10.6"/><circle cx="1340.9" cy="2160.1" r="10.6"/><circle cx="1342.1" cy="2159.8" r="10.6"/><circle cx="1343.3" cy="2160.1" r="10.6"/><circle cx="1344.4" cy="2159.5" r="10.6"/><circle cx="1345.6" cy="2159.5" r="10.6"/><circle cx="1346.8" cy="2159.1" r="10.6"/><circle cx="1348" cy="2159.5" r="10.6"/><circle cx="1349.1" cy="2159.9" r="10.6"/><circle cx="1350.3" cy="2160" r="10.6"/><circle cx="1351.5" cy="2160.6" r="10.6"/><circle cx="1352.6" cy="2159.9" r="10.6"/><circle cx="1353.8" cy="2159.8" r="10.6"/><circle cx="1355" cy="2159.5" r="10.6"/><circle cx="1356.1" cy="2159.6" r="10.6"/><circle cx="1357.3" cy="2159.6" r="10.6"/><circle cx="1358.5" cy="2159.7" r="10.6"/><circle cx="1359.7" cy="2159.6" r="10.6"/><circle cx="1360.8" cy="2159.4" r="10.6"/><circle cx="1362" cy="2160" r="10.6"/><circle cx="1363.2" cy="2159.9" r="10.6"/><circle cx="1364.3" cy="2160.1" r="10.6"/><circle cx="1365.5" cy="2159.4" r="10.6"/><circle cx="1366.7" cy="2159.4" r="10.6"/><circle cx="1367.9" cy="2159.6" r="10.6"/><circle cx="1369" cy="2160" r="10.6"/><circle cx="1370.2" cy="2159.7" r="10.6"/><circle cx="1371.4" cy="2159.8" r="10.6"/><circle cx="1372.5" cy="2159.7" r="10.6"/><circle cx="1373.7" cy="2159.8" r="10.6"/><circle cx="1374.9" cy="2159.6" r="10.6"/><circle cx="1376" cy="2159.8" r="10.6"/><circle cx="1377.2" cy="2159.5" r="10.6"/><circle cx="1378.4" cy="2159.7" r="10.6"/><circle cx="1379.6" cy="2159.8" r="10.6"/><circle cx="1380.7" cy="2159.8" r="10.6"/><circle cx="1381.9" cy="2159.9" r="10.6"/><circle cx="1383.1" cy="2159.5" r="10.6"/><circle cx="1384.2" cy="2159.8" r="10.6"/><circle cx="1385.4" cy="2159.7" r="10.6"/><circle cx="1386.6" cy="2159.8" r="10.6"/><circle cx="1387.7" cy="2160.1" r="10.6"/><circle cx="1388.9" cy="2159.5" r="10.6"/><circle cx="1390.1" cy="2160" r="10.6"/><circle cx="1391.3" cy="2159.6" r="10.6"/><circle cx="1392.4" cy="2159.6" r="10.6"/><circle cx="1393.6" cy="2160.1" r="10.6"/><circle cx="1394.8" cy="2160" r="10.6"/><circle cx="1395.9" cy="2159.9" r="10.6"/><circle cx="1397.1" cy="2159.9" r="10.6"/><circle cx="1398.3" cy="2160" r="10.6"/><circle cx="1399.4" cy="2159.6" r="10.6"/><circle cx="1400.6" cy="2159.8" r="10.6"/><circle cx="1401.8" cy="2159.7" r="10.6"/><circle cx="1403" cy="2159.8" r="10.6"/><circle cx="1404.1" cy="2159.7" r="10.6"/><circle cx="1405.3" cy="2159.9" r="10.6"/><circle cx="1406.5" cy="2159.8" r="10.6"/><circle cx="1407.6" cy="2159.6" r="10.6"/><circle cx="1408.8" cy="2159.7" r="10.6"/><circle cx="1410" cy="2159.9" r="10.6"/><circle cx="1411.1" cy="2160" r="10.6"/><circle cx="1412.3" cy="2159.7" r="10.6"/><circle cx="1413.5" cy="2159.7" r="10.6"/><circle cx="1414.7" cy="2159.8" r="10.6"/><circle cx="1415.8" cy="2159.9" r="10.6"/><circle cx="1417" cy="2159.6" r="10.6"/><circle cx="1418.2" cy="2159.1" r="10.6"/><circle cx="1419.3" cy="2159.8" r="10.6"/><circle cx="1420.5" cy="2159.7" r="10.6"/><circle cx="1421.7" cy="2159.7" r="10.6"/><circle cx="1422.9" cy="2160.4" r="10.6"/><circle cx="1424" cy="2159.7" r="10.6"/><circle cx="1425.2" cy="2159.9" r="10.6"/><circle cx="1426.4" cy="2159.4" r="10.6"/><circle cx="1427.5" cy="2159.8" r="10.6"/><circle cx="1428.7" cy="2159.9" r="10.6"/><circle cx="1429.9" cy="2159.8" r="10.6"/><circle cx="1431" cy="2159.7" r="10.6"/><circle cx="1432.2" cy="2159.9" r="10.6"/><circle cx="1433.4" cy="2159.8" r="10.6"/>
</g>
<g class="rd" clip-path="url(#cB)" fill="none" stroke-width="1.55">
<circle cx="368.5" cy="1305" r="10.6"/><circle cx="370.8" cy="1314" r="10.6"/><circle cx="373.2" cy="1314.6" r="10.6"/><circle cx="375.5" cy="1313.9" r="10.6"/><circle cx="377.9" cy="1329.8" r="10.6"/><circle cx="380.2" cy="1339.9" r="10.6"/><circle cx="382.5" cy="1341" r="10.6"/><circle cx="384.9" cy="1349.3" r="10.6"/><circle cx="387.2" cy="1352.1" r="10.6"/><circle cx="389.6" cy="1363" r="10.6"/><circle cx="391.9" cy="1378" r="10.6"/><circle cx="394.2" cy="1382.5" r="10.6"/><circle cx="396.6" cy="1390.1" r="10.6"/><circle cx="398.9" cy="1396.4" r="10.6"/><circle cx="401.3" cy="1404.2" r="10.6"/><circle cx="403.6" cy="1417.6" r="10.6"/><circle cx="405.9" cy="1433.1" r="10.6"/><circle cx="408.3" cy="1431" r="10.6"/><circle cx="410.6" cy="1446.5" r="10.6"/><circle cx="413" cy="1440.3" r="10.6"/><circle cx="415.3" cy="1447.7" r="10.6"/><circle cx="417.6" cy="1465.2" r="10.6"/><circle cx="420" cy="1457.6" r="10.6"/><circle cx="422.3" cy="1463.7" r="10.6"/><circle cx="424.7" cy="1475.8" r="10.6"/><circle cx="427" cy="1473.8" r="10.6"/><circle cx="429.4" cy="1480.4" r="10.6"/><circle cx="431.7" cy="1506.8" r="10.6"/><circle cx="434" cy="1501.3" r="10.6"/><circle cx="436.4" cy="1512.8" r="10.6"/><circle cx="438.7" cy="1520.9" r="10.6"/><circle cx="441.1" cy="1525.8" r="10.6"/><circle cx="443.4" cy="1543.4" r="10.6"/><circle cx="445.7" cy="1550.6" r="10.6"/><circle cx="448.1" cy="1559.8" r="10.6"/><circle cx="450.4" cy="1567.4" r="10.6"/><circle cx="452.8" cy="1571.7" r="10.6"/><circle cx="455.1" cy="1587.4" r="10.6"/><circle cx="457.4" cy="1593.2" r="10.6"/><circle cx="459.8" cy="1592.3" r="10.6"/><circle cx="462.1" cy="1603.9" r="10.6"/><circle cx="464.5" cy="1609.2" r="10.6"/><circle cx="466.8" cy="1629.2" r="10.6"/><circle cx="469.1" cy="1630.5" r="10.6"/><circle cx="471.5" cy="1636.2" r="10.6"/><circle cx="473.8" cy="1639.5" r="10.6"/><circle cx="476.2" cy="1648.8" r="10.6"/><circle cx="478.5" cy="1646.3" r="10.6"/><circle cx="480.8" cy="1656.6" r="10.6"/><circle cx="483.2" cy="1661" r="10.6"/><circle cx="485.5" cy="1665.6" r="10.6"/><circle cx="487.9" cy="1666.6" r="10.6"/><circle cx="490.2" cy="1677.4" r="10.6"/><circle cx="492.5" cy="1674.2" r="10.6"/><circle cx="494.9" cy="1683.2" r="10.6"/><circle cx="497.2" cy="1691" r="10.6"/><circle cx="499.6" cy="1698.4" r="10.6"/><circle cx="501.9" cy="1703.5" r="10.6"/><circle cx="504.2" cy="1708.9" r="10.6"/><circle cx="506.6" cy="1717.1" r="10.6"/><circle cx="508.9" cy="1727.7" r="10.6"/><circle cx="511.3" cy="1732.7" r="10.6"/><circle cx="513.6" cy="1743.4" r="10.6"/><circle cx="515.9" cy="1744.6" r="10.6"/><circle cx="518.3" cy="1756.9" r="10.6"/><circle cx="520.6" cy="1772.4" r="10.6"/><circle cx="523" cy="1762.3" r="10.6"/><circle cx="525.3" cy="1773.8" r="10.6"/><circle cx="527.6" cy="1785.4" r="10.6"/><circle cx="530" cy="1786.8" r="10.6"/><circle cx="532.3" cy="1795.7" r="10.6"/><circle cx="534.7" cy="1788.2" r="10.6"/><circle cx="537" cy="1801.1" r="10.6"/><circle cx="539.3" cy="1815.9" r="10.6"/><circle cx="541.7" cy="1812.2" r="10.6"/><circle cx="544" cy="1821.6" r="10.6"/><circle cx="546.4" cy="1816.9" r="10.6"/><circle cx="548.7" cy="1834.7" r="10.6"/><circle cx="551.1" cy="1844.6" r="10.6"/><circle cx="553.4" cy="1839.7" r="10.6"/><circle cx="555.7" cy="1846.2" r="10.6"/><circle cx="558.1" cy="1851.1" r="10.6"/><circle cx="560.4" cy="1862.7" r="10.6"/><circle cx="562.8" cy="1856.7" r="10.6"/><circle cx="565.1" cy="1856" r="10.6"/><circle cx="567.4" cy="1874.8" r="10.6"/><circle cx="569.8" cy="1866.7" r="10.6"/><circle cx="572.1" cy="1877.8" r="10.6"/><circle cx="574.5" cy="1870.4" r="10.6"/><circle cx="576.8" cy="1882" r="10.6"/><circle cx="579.1" cy="1888.4" r="10.6"/><circle cx="581.5" cy="1887.4" r="10.6"/><circle cx="583.8" cy="1893.5" r="10.6"/><circle cx="586.2" cy="1901.6" r="10.6"/><circle cx="588.5" cy="1900.5" r="10.6"/><circle cx="590.8" cy="1908.9" r="10.6"/><circle cx="593.2" cy="1917.4" r="10.6"/><circle cx="595.5" cy="1907" r="10.6"/><circle cx="597.9" cy="1919.5" r="10.6"/><circle cx="600.2" cy="1924.1" r="10.6"/><circle cx="602.5" cy="1924.4" r="10.6"/><circle cx="604.9" cy="1934.7" r="10.6"/><circle cx="607.2" cy="1937.5" r="10.6"/><circle cx="609.6" cy="1938" r="10.6"/><circle cx="611.9" cy="1941.4" r="10.6"/><circle cx="614.2" cy="1942.6" r="10.6"/><circle cx="616.6" cy="1942.3" r="10.6"/><circle cx="618.9" cy="1950.8" r="10.6"/><circle cx="621.3" cy="1950.6" r="10.6"/><circle cx="623.6" cy="1953.2" r="10.6"/><circle cx="625.9" cy="1961.8" r="10.6"/><circle cx="628.3" cy="1960.3" r="10.6"/><circle cx="630.6" cy="1966.9" r="10.6"/><circle cx="633" cy="1963.2" r="10.6"/><circle cx="635.3" cy="1968" r="10.6"/><circle cx="637.6" cy="1972.2" r="10.6"/><circle cx="640" cy="1979.3" r="10.6"/><circle cx="642.3" cy="1977.4" r="10.6"/><circle cx="644.7" cy="1982.8" r="10.6"/><circle cx="647" cy="1980.9" r="10.6"/><circle cx="649.3" cy="1986.1" r="10.6"/><circle cx="651.7" cy="1990.9" r="10.6"/><circle cx="654" cy="1988.2" r="10.6"/><circle cx="656.4" cy="1991.4" r="10.6"/><circle cx="658.7" cy="1997.9" r="10.6"/><circle cx="661" cy="1995.1" r="10.6"/><circle cx="663.4" cy="2002" r="10.6"/><circle cx="665.7" cy="2004.4" r="10.6"/><circle cx="668.1" cy="2005.6" r="10.6"/><circle cx="670.4" cy="2010.5" r="10.6"/><circle cx="672.8" cy="2012" r="10.6"/><circle cx="675.1" cy="2013.5" r="10.6"/><circle cx="677.4" cy="2011" r="10.6"/><circle cx="679.8" cy="2013.3" r="10.6"/><circle cx="682.1" cy="2020.4" r="10.6"/><circle cx="684.5" cy="2017.3" r="10.6"/><circle cx="686.8" cy="2023.9" r="10.6"/><circle cx="689.1" cy="2024.8" r="10.6"/><circle cx="691.5" cy="2025.3" r="10.6"/><circle cx="693.8" cy="2028.8" r="10.6"/><circle cx="696.2" cy="2025" r="10.6"/><circle cx="698.5" cy="2032.7" r="10.6"/><circle cx="700.8" cy="2038.2" r="10.6"/><circle cx="703.2" cy="2033.5" r="10.6"/><circle cx="705.5" cy="2039.7" r="10.6"/><circle cx="707.9" cy="2041.1" r="10.6"/><circle cx="710.2" cy="2049.7" r="10.6"/><circle cx="712.5" cy="2041.3" r="10.6"/><circle cx="714.9" cy="2043.5" r="10.6"/><circle cx="717.2" cy="2045.3" r="10.6"/><circle cx="719.6" cy="2046.5" r="10.6"/><circle cx="721.9" cy="2046.5" r="10.6"/><circle cx="724.2" cy="2052.4" r="10.6"/><circle cx="726.6" cy="2051.7" r="10.6"/><circle cx="728.9" cy="2057.4" r="10.6"/><circle cx="731.3" cy="2058" r="10.6"/><circle cx="733.6" cy="2056.3" r="10.6"/><circle cx="735.9" cy="2059.4" r="10.6"/><circle cx="738.3" cy="2064.9" r="10.6"/><circle cx="740.6" cy="2062.4" r="10.6"/><circle cx="743" cy="2065" r="10.6"/><circle cx="745.3" cy="2067.7" r="10.6"/><circle cx="747.6" cy="2066.1" r="10.6"/><circle cx="750" cy="2069.2" r="10.6"/><circle cx="752.3" cy="2072.9" r="10.6"/><circle cx="754.7" cy="2073" r="10.6"/><circle cx="757" cy="2067.7" r="10.6"/><circle cx="759.3" cy="2075.9" r="10.6"/><circle cx="761.7" cy="2073.2" r="10.6"/><circle cx="764" cy="2073.4" r="10.6"/><circle cx="766.4" cy="2074.3" r="10.6"/><circle cx="768.7" cy="2079.4" r="10.6"/><circle cx="771" cy="2078.5" r="10.6"/><circle cx="773.4" cy="2078.6" r="10.6"/><circle cx="775.7" cy="2078.4" r="10.6"/><circle cx="778.1" cy="2082.6" r="10.6"/><circle cx="780.4" cy="2084.8" r="10.6"/><circle cx="782.8" cy="2081.6" r="10.6"/><circle cx="785.1" cy="2082.6" r="10.6"/><circle cx="787.4" cy="2085.4" r="10.6"/><circle cx="789.8" cy="2088.6" r="10.6"/><circle cx="792.1" cy="2087.7" r="10.6"/><circle cx="794.5" cy="2089.5" r="10.6"/><circle cx="796.8" cy="2089.3" r="10.6"/><circle cx="799.1" cy="2094.5" r="10.6"/><circle cx="801.5" cy="2092.9" r="10.6"/><circle cx="803.8" cy="2094.6" r="10.6"/><circle cx="806.2" cy="2097.5" r="10.6"/><circle cx="808.5" cy="2096" r="10.6"/><circle cx="810.8" cy="2097.4" r="10.6"/><circle cx="813.2" cy="2099.3" r="10.6"/><circle cx="815.5" cy="2098.8" r="10.6"/><circle cx="817.9" cy="2103.1" r="10.6"/><circle cx="820.2" cy="2101.6" r="10.6"/><circle cx="822.5" cy="2101.7" r="10.6"/><circle cx="824.9" cy="2102.9" r="10.6"/><circle cx="827.2" cy="2102.4" r="10.6"/><circle cx="829.6" cy="2107.3" r="10.6"/><circle cx="831.9" cy="2108.7" r="10.6"/><circle cx="834.2" cy="2106.5" r="10.6"/><circle cx="836.6" cy="2107" r="10.6"/><circle cx="838.9" cy="2105" r="10.6"/><circle cx="841.3" cy="2108.4" r="10.6"/><circle cx="843.6" cy="2111.6" r="10.6"/><circle cx="845.9" cy="2109.7" r="10.6"/><circle cx="848.3" cy="2113.1" r="10.6"/><circle cx="850.6" cy="2114.9" r="10.6"/><circle cx="853" cy="2109.1" r="10.6"/><circle cx="855.3" cy="2113.5" r="10.6"/><circle cx="857.6" cy="2113.6" r="10.6"/><circle cx="860" cy="2114.6" r="10.6"/><circle cx="862.3" cy="2113.4" r="10.6"/><circle cx="864.7" cy="2116.4" r="10.6"/><circle cx="867" cy="2115.7" r="10.6"/><circle cx="869.3" cy="2119.8" r="10.6"/><circle cx="871.7" cy="2121" r="10.6"/><circle cx="874" cy="2117.4" r="10.6"/><circle cx="876.4" cy="2118" r="10.6"/><circle cx="878.7" cy="2120.1" r="10.6"/><circle cx="881" cy="2121.1" r="10.6"/><circle cx="883.4" cy="2121.8" r="10.6"/><circle cx="885.7" cy="2123.7" r="10.6"/><circle cx="888.1" cy="2121.1" r="10.6"/><circle cx="890.4" cy="2122.9" r="10.6"/><circle cx="892.7" cy="2123.7" r="10.6"/><circle cx="895.1" cy="2124.4" r="10.6"/><circle cx="897.4" cy="2124" r="10.6"/><circle cx="899.8" cy="2125.2" r="10.6"/><circle cx="902.1" cy="2125.3" r="10.6"/><circle cx="904.5" cy="2128.4" r="10.6"/><circle cx="906.8" cy="2126.5" r="10.6"/><circle cx="909.1" cy="2124.6" r="10.6"/><circle cx="911.5" cy="2128.5" r="10.6"/><circle cx="913.8" cy="2128.3" r="10.6"/><circle cx="916.2" cy="2127.3" r="10.6"/><circle cx="918.5" cy="2127.5" r="10.6"/><circle cx="920.8" cy="2128.3" r="10.6"/><circle cx="923.2" cy="2131.5" r="10.6"/><circle cx="925.5" cy="2129.1" r="10.6"/><circle cx="927.9" cy="2131.5" r="10.6"/><circle cx="930.2" cy="2131.4" r="10.6"/><circle cx="932.5" cy="2129.9" r="10.6"/><circle cx="934.9" cy="2131.3" r="10.6"/><circle cx="937.2" cy="2130.2" r="10.6"/><circle cx="939.6" cy="2127.5" r="10.6"/><circle cx="941.9" cy="2130.8" r="10.6"/><circle cx="944.2" cy="2131.1" r="10.6"/><circle cx="946.6" cy="2133.4" r="10.6"/><circle cx="948.9" cy="2133.4" r="10.6"/><circle cx="951.3" cy="2134.2" r="10.6"/><circle cx="953.6" cy="2133.9" r="10.6"/><circle cx="955.9" cy="2134.8" r="10.6"/><circle cx="958.3" cy="2134.6" r="10.6"/><circle cx="960.6" cy="2134.4" r="10.6"/><circle cx="963" cy="2135.6" r="10.6"/><circle cx="965.3" cy="2136.4" r="10.6"/><circle cx="967.6" cy="2136.7" r="10.6"/><circle cx="970" cy="2134.8" r="10.6"/><circle cx="972.3" cy="2135.6" r="10.6"/><circle cx="974.7" cy="2134.8" r="10.6"/><circle cx="977" cy="2135.1" r="10.6"/><circle cx="979.3" cy="2137" r="10.6"/><circle cx="981.7" cy="2136.1" r="10.6"/><circle cx="984" cy="2138.8" r="10.6"/><circle cx="986.4" cy="2134.9" r="10.6"/><circle cx="988.7" cy="2136.4" r="10.6"/><circle cx="991" cy="2138.2" r="10.6"/><circle cx="993.4" cy="2139.6" r="10.6"/><circle cx="995.7" cy="2138.1" r="10.6"/><circle cx="998.1" cy="2140.8" r="10.6"/><circle cx="1000.4" cy="2139.9" r="10.6"/><circle cx="1002.7" cy="2138.5" r="10.6"/><circle cx="1005.1" cy="2139.5" r="10.6"/><circle cx="1007.4" cy="2140.4" r="10.6"/><circle cx="1009.8" cy="2139.1" r="10.6"/><circle cx="1012.1" cy="2141.4" r="10.6"/><circle cx="1014.5" cy="2140.3" r="10.6"/><circle cx="1016.8" cy="2141.3" r="10.6"/><circle cx="1019.1" cy="2141.9" r="10.6"/><circle cx="1021.5" cy="2140.8" r="10.6"/><circle cx="1023.8" cy="2142.6" r="10.6"/><circle cx="1026.2" cy="2139.8" r="10.6"/><circle cx="1028.5" cy="2142.6" r="10.6"/><circle cx="1030.8" cy="2140.2" r="10.6"/><circle cx="1033.2" cy="2143.5" r="10.6"/><circle cx="1035.5" cy="2142.1" r="10.6"/><circle cx="1037.9" cy="2144.1" r="10.6"/><circle cx="1040.2" cy="2144.4" r="10.6"/><circle cx="1042.5" cy="2143.2" r="10.6"/><circle cx="1044.9" cy="2142.9" r="10.6"/><circle cx="1047.2" cy="2144.9" r="10.6"/><circle cx="1049.6" cy="2142.8" r="10.6"/><circle cx="1051.9" cy="2144.9" r="10.6"/><circle cx="1054.2" cy="2144.2" r="10.6"/><circle cx="1056.6" cy="2144.2" r="10.6"/><circle cx="1058.9" cy="2144.2" r="10.6"/><circle cx="1061.3" cy="2146.6" r="10.6"/><circle cx="1063.6" cy="2143.6" r="10.6"/><circle cx="1065.9" cy="2144.8" r="10.6"/><circle cx="1068.3" cy="2145.9" r="10.6"/><circle cx="1070.6" cy="2146.6" r="10.6"/><circle cx="1073" cy="2147.4" r="10.6"/><circle cx="1075.3" cy="2147.2" r="10.6"/><circle cx="1077.6" cy="2145.7" r="10.6"/><circle cx="1080" cy="2146.7" r="10.6"/><circle cx="1082.3" cy="2147.5" r="10.6"/><circle cx="1084.7" cy="2147.2" r="10.6"/><circle cx="1087" cy="2145.5" r="10.6"/><circle cx="1089.3" cy="2147.3" r="10.6"/><circle cx="1091.7" cy="2147.7" r="10.6"/><circle cx="1094" cy="2146.2" r="10.6"/><circle cx="1096.4" cy="2147.1" r="10.6"/><circle cx="1098.7" cy="2147.7" r="10.6"/><circle cx="1101" cy="2148.4" r="10.6"/><circle cx="1103.4" cy="2149.3" r="10.6"/><circle cx="1105.7" cy="2149.1" r="10.6"/><circle cx="1108.1" cy="2148.7" r="10.6"/><circle cx="1110.4" cy="2148.6" r="10.6"/><circle cx="1112.7" cy="2148.3" r="10.6"/><circle cx="1115.1" cy="2148.3" r="10.6"/><circle cx="1117.4" cy="2148.7" r="10.6"/><circle cx="1119.8" cy="2148.9" r="10.6"/><circle cx="1122.1" cy="2150" r="10.6"/><circle cx="1124.4" cy="2151" r="10.6"/><circle cx="1126.8" cy="2149.9" r="10.6"/><circle cx="1129.1" cy="2150.3" r="10.6"/><circle cx="1131.5" cy="2150.2" r="10.6"/><circle cx="1133.8" cy="2150.1" r="10.6"/><circle cx="1136.2" cy="2151" r="10.6"/><circle cx="1138.5" cy="2151" r="10.6"/><circle cx="1140.8" cy="2150.3" r="10.6"/><circle cx="1143.2" cy="2150.3" r="10.6"/><circle cx="1145.5" cy="2151" r="10.6"/><circle cx="1147.9" cy="2150.3" r="10.6"/><circle cx="1150.2" cy="2150.9" r="10.6"/><circle cx="1152.5" cy="2151.6" r="10.6"/><circle cx="1154.9" cy="2150.9" r="10.6"/><circle cx="1157.2" cy="2149.7" r="10.6"/><circle cx="1159.6" cy="2151.7" r="10.6"/><circle cx="1161.9" cy="2150.4" r="10.6"/><circle cx="1164.2" cy="2150.4" r="10.6"/><circle cx="1166.6" cy="2150.4" r="10.6"/><circle cx="1168.9" cy="2152.2" r="10.6"/><circle cx="1171.3" cy="2150.3" r="10.6"/><circle cx="1173.6" cy="2151.7" r="10.6"/><circle cx="1175.9" cy="2152" r="10.6"/><circle cx="1178.3" cy="2152.1" r="10.6"/><circle cx="1180.6" cy="2151.6" r="10.6"/><circle cx="1183" cy="2152.1" r="10.6"/><circle cx="1185.3" cy="2152.3" r="10.6"/><circle cx="1187.6" cy="2151.5" r="10.6"/><circle cx="1190" cy="2152.9" r="10.6"/><circle cx="1192.3" cy="2153.2" r="10.6"/><circle cx="1194.7" cy="2152.1" r="10.6"/><circle cx="1197" cy="2152.2" r="10.6"/><circle cx="1199.3" cy="2152" r="10.6"/><circle cx="1201.7" cy="2153.5" r="10.6"/><circle cx="1204" cy="2152.2" r="10.6"/><circle cx="1206.4" cy="2152.7" r="10.6"/><circle cx="1208.7" cy="2151.9" r="10.6"/><circle cx="1211" cy="2154" r="10.6"/><circle cx="1213.4" cy="2153.1" r="10.6"/><circle cx="1215.7" cy="2153.5" r="10.6"/><circle cx="1218.1" cy="2154.4" r="10.6"/><circle cx="1220.4" cy="2153.9" r="10.6"/><circle cx="1222.7" cy="2152.8" r="10.6"/><circle cx="1225.1" cy="2153.9" r="10.6"/><circle cx="1227.4" cy="2154.1" r="10.6"/><circle cx="1229.8" cy="2153.2" r="10.6"/><circle cx="1232.1" cy="2153.2" r="10.6"/><circle cx="1234.4" cy="2153.3" r="10.6"/><circle cx="1236.8" cy="2154.5" r="10.6"/><circle cx="1239.1" cy="2154.1" r="10.6"/><circle cx="1241.5" cy="2153.5" r="10.6"/><circle cx="1243.8" cy="2154.6" r="10.6"/><circle cx="1246.2" cy="2154.7" r="10.6"/><circle cx="1248.5" cy="2153.8" r="10.6"/><circle cx="1250.8" cy="2153.4" r="10.6"/><circle cx="1253.2" cy="2155.1" r="10.6"/><circle cx="1255.5" cy="2156" r="10.6"/><circle cx="1257.9" cy="2155.3" r="10.6"/><circle cx="1260.2" cy="2155.1" r="10.6"/><circle cx="1262.5" cy="2154.7" r="10.6"/><circle cx="1264.9" cy="2154.3" r="10.6"/><circle cx="1267.2" cy="2154.7" r="10.6"/><circle cx="1269.6" cy="2155.1" r="10.6"/><circle cx="1271.9" cy="2154.7" r="10.6"/><circle cx="1274.2" cy="2155.3" r="10.6"/><circle cx="1276.6" cy="2154.9" r="10.6"/><circle cx="1278.9" cy="2155.2" r="10.6"/><circle cx="1281.3" cy="2153.4" r="10.6"/><circle cx="1283.6" cy="2154.5" r="10.6"/><circle cx="1285.9" cy="2155.4" r="10.6"/><circle cx="1288.3" cy="2155.6" r="10.6"/><circle cx="1290.6" cy="2155.3" r="10.6"/><circle cx="1293" cy="2156" r="10.6"/><circle cx="1295.3" cy="2155.5" r="10.6"/><circle cx="1297.6" cy="2155.6" r="10.6"/><circle cx="1300" cy="2154.7" r="10.6"/><circle cx="1302.3" cy="2155.5" r="10.6"/><circle cx="1304.7" cy="2155.7" r="10.6"/><circle cx="1307" cy="2156.1" r="10.6"/><circle cx="1309.3" cy="2156" r="10.6"/><circle cx="1311.7" cy="2155.4" r="10.6"/><circle cx="1314" cy="2155.6" r="10.6"/><circle cx="1316.4" cy="2154.9" r="10.6"/><circle cx="1318.7" cy="2155.8" r="10.6"/><circle cx="1321" cy="2155" r="10.6"/><circle cx="1323.4" cy="2155.5" r="10.6"/><circle cx="1325.7" cy="2155.6" r="10.6"/><circle cx="1328.1" cy="2156.7" r="10.6"/><circle cx="1330.4" cy="2156.4" r="10.6"/><circle cx="1332.7" cy="2155.3" r="10.6"/><circle cx="1335.1" cy="2155" r="10.6"/><circle cx="1337.4" cy="2155.7" r="10.6"/><circle cx="1339.8" cy="2155.4" r="10.6"/><circle cx="1342.1" cy="2156.1" r="10.6"/><circle cx="1344.4" cy="2156.1" r="10.6"/><circle cx="1346.8" cy="2156.3" r="10.6"/><circle cx="1349.1" cy="2155.5" r="10.6"/><circle cx="1351.5" cy="2155.8" r="10.6"/><circle cx="1353.8" cy="2156.1" r="10.6"/><circle cx="1356.1" cy="2156.2" r="10.6"/><circle cx="1358.5" cy="2155.8" r="10.6"/><circle cx="1360.8" cy="2155.9" r="10.6"/><circle cx="1363.2" cy="2156.5" r="10.6"/><circle cx="1365.5" cy="2155.3" r="10.6"/><circle cx="1367.9" cy="2156" r="10.6"/><circle cx="1370.2" cy="2156.1" r="10.6"/><circle cx="1372.5" cy="2155.4" r="10.6"/><circle cx="1374.9" cy="2155.7" r="10.6"/><circle cx="1377.2" cy="2156.3" r="10.6"/><circle cx="1379.6" cy="2156" r="10.6"/><circle cx="1381.9" cy="2156.8" r="10.6"/><circle cx="1384.2" cy="2156.6" r="10.6"/><circle cx="1386.6" cy="2157.4" r="10.6"/><circle cx="1388.9" cy="2155.7" r="10.6"/><circle cx="1391.3" cy="2157.2" r="10.6"/><circle cx="1393.6" cy="2156" r="10.6"/><circle cx="1395.9" cy="2156.8" r="10.6"/><circle cx="1398.3" cy="2156.8" r="10.6"/><circle cx="1400.6" cy="2156.5" r="10.6"/><circle cx="1403" cy="2156.3" r="10.6"/><circle cx="1405.3" cy="2156.1" r="10.6"/><circle cx="1407.6" cy="2155.6" r="10.6"/><circle cx="1410" cy="2156.3" r="10.6"/><circle cx="1412.3" cy="2156.1" r="10.6"/><circle cx="1414.7" cy="2156.8" r="10.6"/><circle cx="1417" cy="2156.2" r="10.6"/><circle cx="1419.3" cy="2156.5" r="10.6"/><circle cx="1421.7" cy="2156.8" r="10.6"/><circle cx="1424" cy="2156.6" r="10.6"/><circle cx="1426.4" cy="2156.6" r="10.6"/><circle cx="1428.7" cy="2156.5" r="10.6"/><circle cx="1431" cy="2156.4" r="10.6"/><circle cx="1433.4" cy="2156.9" r="10.6"/><circle cx="1435.7" cy="2157" r="10.6"/><circle cx="1438.1" cy="2156.3" r="10.6"/><circle cx="1440.4" cy="2157.5" r="10.6"/><circle cx="1442.7" cy="2157" r="10.6"/><circle cx="1445.1" cy="2156" r="10.6"/><circle cx="1447.4" cy="2158" r="10.6"/><circle cx="1449.8" cy="2157.1" r="10.6"/><circle cx="1452.1" cy="2156.5" r="10.6"/><circle cx="1454.4" cy="2157.6" r="10.6"/><circle cx="1456.8" cy="2155.6" r="10.6"/><circle cx="1459.1" cy="2158" r="10.6"/><circle cx="1461.5" cy="2156.2" r="10.6"/><circle cx="1463.8" cy="2156.2" r="10.6"/><circle cx="1466.1" cy="2156.5" r="10.6"/><circle cx="1468.5" cy="2157" r="10.6"/><circle cx="1470.8" cy="2156.8" r="10.6"/><circle cx="1473.2" cy="2157.3" r="10.6"/><circle cx="1475.5" cy="2156.6" r="10.6"/><circle cx="1477.8" cy="2157.5" r="10.6"/><circle cx="1480.2" cy="2157.1" r="10.6"/><circle cx="1482.5" cy="2156.6" r="10.6"/><circle cx="1484.9" cy="2157.5" r="10.6"/><circle cx="1487.2" cy="2157.2" r="10.6"/><circle cx="1489.6" cy="2157" r="10.6"/><circle cx="1491.9" cy="2157.6" r="10.6"/><circle cx="1494.2" cy="2156.6" r="10.6"/><circle cx="1496.6" cy="2156.9" r="10.6"/><circle cx="1498.9" cy="2157.8" r="10.6"/><circle cx="1501.3" cy="2157.1" r="10.6"/><circle cx="1503.6" cy="2157.5" r="10.6"/><circle cx="1505.9" cy="2157.4" r="10.6"/><circle cx="1508.3" cy="2157.1" r="10.6"/><circle cx="1510.6" cy="2157.5" r="10.6"/><circle cx="1513" cy="2156.8" r="10.6"/><circle cx="1515.3" cy="2157.5" r="10.6"/><circle cx="1517.6" cy="2156.8" r="10.6"/><circle cx="1520" cy="2157.3" r="10.6"/><circle cx="1522.3" cy="2156.9" r="10.6"/><circle cx="1524.7" cy="2157.5" r="10.6"/><circle cx="1527" cy="2157.5" r="10.6"/><circle cx="1529.3" cy="2157.8" r="10.6"/><circle cx="1531.7" cy="2157.1" r="10.6"/><circle cx="1534" cy="2156.9" r="10.6"/><circle cx="1536.4" cy="2156.4" r="10.6"/><circle cx="1538.7" cy="2156.8" r="10.6"/><circle cx="1541" cy="2157.3" r="10.6"/><circle cx="1543.4" cy="2157.5" r="10.6"/><circle cx="1545.7" cy="2157.2" r="10.6"/><circle cx="1548.1" cy="2157.4" r="10.6"/><circle cx="1550.4" cy="2156.8" r="10.6"/><circle cx="1552.7" cy="2157" r="10.6"/>
</g>
<g font-size="49"><text transform="translate(337.30,2175.90) scale(1,1.04)" text-anchor="end">0</text><text transform="translate(337.30,2004.78) scale(1,1.04)" text-anchor="end">2000</text><text transform="translate(337.30,1833.66) scale(1,1.04)" text-anchor="end">4000</text><text transform="translate(337.30,1662.54) scale(1,1.04)" text-anchor="end">6000</text><text transform="translate(337.30,1491.42) scale(1,1.04)" text-anchor="end">8000</text><text transform="translate(337.30,1320.30) scale(1,1.04)" text-anchor="end">10000</text><text transform="translate(368.50,2230.30) scale(1,1.04)" text-anchor="middle">0</text><text transform="translate(661.05,2230.30) scale(1,1.04)" text-anchor="middle">50</text><text transform="translate(953.60,2230.30) scale(1,1.04)" text-anchor="middle">100</text><text transform="translate(1246.15,2230.30) scale(1,1.04)" text-anchor="middle">150</text><text transform="translate(1538.70,2230.30) scale(1,1.04)" text-anchor="middle">200</text></g>
<g class="b"><text transform="translate(33.30,1253.10) scale(0.878,1)" font-size="76.9">B</text><text transform="translate(82.30,1251.40) scale(0.92,1)" font-size="79.3">)</text></g>
<g class="b" font-size="62"><text transform="translate(171.00,1679.05) rotate(-90) scale(1,1.04)" text-anchor="middle">Intensity (Counts)</text></g>
<g class="b" font-size="62"><text transform="translate(836.40,2324.80) scale(1,1.04)">Time</text><text transform="translate(999.31,2324.80) scale(1,1.04)">(</text><text class="s" style="font-weight:normal" transform="translate(1017.47,2326.40) scale(1.15,1)" font-size="84.0">μ</text><text transform="translate(1066.12,2324.80) scale(1.05,1.04)">S</text><text transform="translate(1109.94,2324.80) scale(1,1.04)">)</text></g>
<circle cx="1239.25" cy="1264.1" r="10.75" fill="#fff" stroke="#000" stroke-width="1.4"/>
<circle cx="1239.25" cy="1319.0" r="10.75" fill="#fff" stroke="#f00" stroke-width="1.4"/>
<g font-size="44.4"><text transform="translate(1301.00,1278.80) scale(1,1.04)">In air</text><text transform="translate(1301.00,1333.90) scale(1,1.04)">In nitrogen</text></g>
<g fill="#000"><text class="s" transform="translate(740.73,1594.30)" font-size="62.5">τ</text><text transform="translate(768.33,1611.10) scale(1,1.04)" font-size="36.5">air</text><text transform="translate(808.89,1594.30) scale(1,1.04)" font-size="62.5">=7.84</text><text class="s" transform="translate(984.40,1594.30) scale(1.2,1)" font-size="62.5">μ</text><text transform="translate(1020.40,1594.30) scale(1,1.04)" font-size="62.5">s</text></g>
<g fill="#f00"><text class="s" transform="translate(740.73,1690.80)" font-size="62.5">τ</text><text transform="translate(768.33,1707.60) scale(1,1.04)" font-size="36.5">nitrogen</text><text transform="translate(900.23,1690.80) scale(1,1.04)" font-size="62.5">=28.02</text><text class="s" transform="translate(1110.50,1690.80) scale(1.2,1)" font-size="62.5">μ</text><text transform="translate(1146.50,1690.80) scale(1,1.04)" font-size="62.5">s</text></g>
<clipPath id="cC"><rect x="338.3" y="2395.1" width="1171.0" height="941.7"/></clipPath>
<path stroke="#000" fill="none" stroke-width="3.2" d="M320.5 3336.30H1510.4"/>
<path stroke="#000" fill="none" stroke-width="3.2" d="M329.5 2395.1H1510.4M329.5 3250.7H338.5M320.5 3165.2H338.5M329.5 3079.6H338.5M320.5 2994.1H338.5M329.5 2908.5H338.5M320.5 2822.9H338.5M329.5 2737.4H338.5M320.5 2651.8H338.5M329.5 2566.3H338.5M320.5 2480.7H338.5"/>
<path stroke="#000" fill="none" stroke-width="3.5" d="M1508.7 2393.6V3354.3M338.5 2393.6V3354.3M484.8 3336.3V3345.3M631.0 3336.3V3354.3M777.3 3336.3V3345.3M923.6 3336.3V3354.3M1069.9 3336.3V3345.3M1216.2 3336.3V3354.3M1362.4 3336.3V3345.3"/>
<g class="bk" clip-path="url(#cC)" fill="#fff" stroke-width="1.55">
<circle cx="338.5" cy="2489.5" r="10.6"/><circle cx="339.7" cy="2504.9" r="10.6"/><circle cx="340.8" cy="2512.6" r="10.6"/><circle cx="342" cy="2533.6" r="10.6"/><circle cx="343.2" cy="2552.5" r="10.6"/><circle cx="344.4" cy="2563.7" r="10.6"/><circle cx="345.5" cy="2587.2" r="10.6"/><circle cx="346.7" cy="2604" r="10.6"/><circle cx="347.9" cy="2622.1" r="10.6"/><circle cx="349" cy="2645.2" r="10.6"/><circle cx="350.2" cy="2651.7" r="10.6"/><circle cx="351.4" cy="2676.7" r="10.6"/><circle cx="352.5" cy="2691.4" r="10.6"/><circle cx="353.7" cy="2708.9" r="10.6"/><circle cx="354.9" cy="2720.1" r="10.6"/><circle cx="356.1" cy="2739.3" r="10.6"/><circle cx="357.2" cy="2755.1" r="10.6"/><circle cx="358.4" cy="2776.7" r="10.6"/><circle cx="359.6" cy="2786.5" r="10.6"/><circle cx="360.7" cy="2806.1" r="10.6"/><circle cx="361.9" cy="2814.7" r="10.6"/><circle cx="363.1" cy="2828.6" r="10.6"/><circle cx="364.2" cy="2843.7" r="10.6"/><circle cx="365.4" cy="2850.5" r="10.6"/><circle cx="366.6" cy="2868.4" r="10.6"/><circle cx="367.8" cy="2880.9" r="10.6"/><circle cx="368.9" cy="2894.7" r="10.6"/><circle cx="370.1" cy="2907.8" r="10.6"/><circle cx="371.3" cy="2916.1" r="10.6"/><circle cx="372.4" cy="2927.3" r="10.6"/><circle cx="373.6" cy="2945.6" r="10.6"/><circle cx="374.8" cy="2949.8" r="10.6"/><circle cx="375.9" cy="2962.1" r="10.6"/><circle cx="377.1" cy="2971.3" r="10.6"/><circle cx="378.3" cy="2982.7" r="10.6"/><circle cx="379.5" cy="2997.2" r="10.6"/><circle cx="380.6" cy="3006.4" r="10.6"/><circle cx="381.8" cy="3007.5" r="10.6"/><circle cx="383" cy="3020.4" r="10.6"/><circle cx="384.1" cy="3033.2" r="10.6"/><circle cx="385.3" cy="3036.8" r="10.6"/><circle cx="386.5" cy="3046.5" r="10.6"/><circle cx="387.6" cy="3057.8" r="10.6"/><circle cx="388.8" cy="3066.2" r="10.6"/><circle cx="390" cy="3071.8" r="10.6"/><circle cx="391.2" cy="3074.4" r="10.6"/><circle cx="392.3" cy="3082.1" r="10.6"/><circle cx="393.5" cy="3089.3" r="10.6"/><circle cx="394.7" cy="3094.7" r="10.6"/><circle cx="395.8" cy="3100.5" r="10.6"/><circle cx="397" cy="3112.8" r="10.6"/><circle cx="398.2" cy="3115" r="10.6"/><circle cx="399.4" cy="3122.1" r="10.6"/><circle cx="400.5" cy="3128.8" r="10.6"/><circle cx="401.7" cy="3133" r="10.6"/><circle cx="402.9" cy="3137.6" r="10.6"/><circle cx="404" cy="3143.2" r="10.6"/><circle cx="405.2" cy="3150.7" r="10.6"/><circle cx="406.4" cy="3153.8" r="10.6"/><circle cx="407.5" cy="3153.7" r="10.6"/><circle cx="408.7" cy="3164.4" r="10.6"/><circle cx="409.9" cy="3170.1" r="10.6"/><circle cx="411.1" cy="3170.8" r="10.6"/><circle cx="412.2" cy="3174.5" r="10.6"/><circle cx="413.4" cy="3178.9" r="10.6"/><circle cx="414.6" cy="3185.7" r="10.6"/><circle cx="415.7" cy="3185.7" r="10.6"/><circle cx="416.9" cy="3192.5" r="10.6"/><circle cx="418.1" cy="3196.6" r="10.6"/><circle cx="419.2" cy="3198.9" r="10.6"/><circle cx="420.4" cy="3201.2" r="10.6"/><circle cx="421.6" cy="3202.9" r="10.6"/><circle cx="422.8" cy="3205.9" r="10.6"/><circle cx="423.9" cy="3209.7" r="10.6"/><circle cx="425.1" cy="3210.8" r="10.6"/><circle cx="426.3" cy="3214.8" r="10.6"/><circle cx="427.4" cy="3216" r="10.6"/><circle cx="428.6" cy="3222.1" r="10.6"/><circle cx="429.8" cy="3224.8" r="10.6"/><circle cx="430.9" cy="3223.5" r="10.6"/><circle cx="432.1" cy="3229.2" r="10.6"/><circle cx="433.3" cy="3229.8" r="10.6"/><circle cx="434.5" cy="3231.8" r="10.6"/><circle cx="435.6" cy="3234.7" r="10.6"/><circle cx="436.8" cy="3236.8" r="10.6"/><circle cx="438" cy="3236.4" r="10.6"/><circle cx="439.1" cy="3244.2" r="10.6"/><circle cx="440.3" cy="3241.4" r="10.6"/><circle cx="441.5" cy="3241.5" r="10.6"/><circle cx="442.6" cy="3246.7" r="10.6"/><circle cx="443.8" cy="3248.7" r="10.6"/><circle cx="445" cy="3249.6" r="10.6"/><circle cx="446.2" cy="3250" r="10.6"/><circle cx="447.3" cy="3255.9" r="10.6"/><circle cx="448.5" cy="3255.9" r="10.6"/><circle cx="449.7" cy="3258" r="10.6"/><circle cx="450.8" cy="3258.7" r="10.6"/><circle cx="452" cy="3260.8" r="10.6"/><circle cx="453.2" cy="3261.7" r="10.6"/><circle cx="454.3" cy="3264.6" r="10.6"/><circle cx="455.5" cy="3265.4" r="10.6"/><circle cx="456.7" cy="3267.7" r="10.6"/><circle cx="457.9" cy="3269.1" r="10.6"/><circle cx="459" cy="3269.8" r="10.6"/><circle cx="460.2" cy="3271.1" r="10.6"/><circle cx="461.4" cy="3273.6" r="10.6"/><circle cx="462.5" cy="3271.7" r="10.6"/><circle cx="463.7" cy="3274.9" r="10.6"/><circle cx="464.9" cy="3277.5" r="10.6"/><circle cx="466.1" cy="3275.9" r="10.6"/><circle cx="467.2" cy="3279.1" r="10.6"/><circle cx="468.4" cy="3278.8" r="10.6"/><circle cx="469.6" cy="3280.5" r="10.6"/><circle cx="470.7" cy="3281.2" r="10.6"/><circle cx="471.9" cy="3282.4" r="10.6"/><circle cx="473.1" cy="3284.2" r="10.6"/><circle cx="474.2" cy="3284.6" r="10.6"/><circle cx="475.4" cy="3283.5" r="10.6"/><circle cx="476.6" cy="3288.9" r="10.6"/><circle cx="477.8" cy="3287.5" r="10.6"/><circle cx="478.9" cy="3288.1" r="10.6"/><circle cx="480.1" cy="3290.6" r="10.6"/><circle cx="481.3" cy="3291.8" r="10.6"/><circle cx="482.4" cy="3289.3" r="10.6"/><circle cx="483.6" cy="3292.7" r="10.6"/><circle cx="484.8" cy="3291.3" r="10.6"/><circle cx="485.9" cy="3293.6" r="10.6"/><circle cx="487.1" cy="3295" r="10.6"/><circle cx="488.3" cy="3295.5" r="10.6"/><circle cx="489.5" cy="3296.2" r="10.6"/><circle cx="490.6" cy="3296.6" r="10.6"/><circle cx="491.8" cy="3298.1" r="10.6"/><circle cx="493" cy="3299.2" r="10.6"/><circle cx="494.1" cy="3299.9" r="10.6"/><circle cx="495.3" cy="3299.7" r="10.6"/><circle cx="496.5" cy="3301" r="10.6"/><circle cx="497.6" cy="3303.3" r="10.6"/><circle cx="498.8" cy="3303.7" r="10.6"/><circle cx="500" cy="3303.6" r="10.6"/><circle cx="501.2" cy="3305.1" r="10.6"/><circle cx="502.3" cy="3305.6" r="10.6"/><circle cx="503.5" cy="3306.8" r="10.6"/><circle cx="504.7" cy="3306.9" r="10.6"/><circle cx="505.8" cy="3307.1" r="10.6"/><circle cx="507" cy="3307.3" r="10.6"/><circle cx="508.2" cy="3308.7" r="10.6"/><circle cx="509.3" cy="3307.7" r="10.6"/><circle cx="510.5" cy="3310" r="10.6"/><circle cx="511.7" cy="3308.2" r="10.6"/><circle cx="512.9" cy="3310.4" r="10.6"/><circle cx="514" cy="3311.3" r="10.6"/><circle cx="515.2" cy="3312.6" r="10.6"/><circle cx="516.4" cy="3314.8" r="10.6"/><circle cx="517.5" cy="3313.5" r="10.6"/><circle cx="518.7" cy="3313.8" r="10.6"/><circle cx="519.9" cy="3313.1" r="10.6"/><circle cx="521.1" cy="3315.8" r="10.6"/><circle cx="522.2" cy="3314.1" r="10.6"/><circle cx="523.4" cy="3316.1" r="10.6"/><circle cx="524.6" cy="3315.9" r="10.6"/><circle cx="525.7" cy="3318.5" r="10.6"/><circle cx="526.9" cy="3317.2" r="10.6"/><circle cx="528.1" cy="3317.9" r="10.6"/><circle cx="529.2" cy="3317.7" r="10.6"/><circle cx="530.4" cy="3318.5" r="10.6"/><circle cx="531.6" cy="3319.6" r="10.6"/><circle cx="532.8" cy="3318.8" r="10.6"/><circle cx="533.9" cy="3319.3" r="10.6"/><circle cx="535.1" cy="3319.8" r="10.6"/><circle cx="536.3" cy="3319.9" r="10.6"/><circle cx="537.4" cy="3320.2" r="10.6"/><circle cx="538.6" cy="3321.2" r="10.6"/><circle cx="539.8" cy="3322.3" r="10.6"/><circle cx="540.9" cy="3322.7" r="10.6"/><circle cx="542.1" cy="3321.5" r="10.6"/><circle cx="543.3" cy="3322.2" r="10.6"/><circle cx="544.5" cy="3322.8" r="10.6"/><circle cx="545.6" cy="3323.4" r="10.6"/><circle cx="546.8" cy="3323.4" r="10.6"/><circle cx="548" cy="3323.7" r="10.6"/><circle cx="549.1" cy="3324.2" r="10.6"/><circle cx="550.3" cy="3324.7" r="10.6"/><circle cx="551.5" cy="3323.5" r="10.6"/><circle cx="552.6" cy="3324.7" r="10.6"/><circle cx="553.8" cy="3325.4" r="10.6"/><circle cx="555" cy="3326" r="10.6"/><circle cx="556.2" cy="3326" r="10.6"/><circle cx="557.3" cy="3325.5" r="10.6"/><circle cx="558.5" cy="3325.7" r="10.6"/><circle cx="559.7" cy="3326.4" r="10.6"/><circle cx="560.8" cy="3326.5" r="10.6"/><circle cx="562" cy="3326.9" r="10.6"/><circle cx="563.2" cy="3327.5" r="10.6"/><circle cx="564.3" cy="3326.6" r="10.6"/><circle cx="565.5" cy="3327.2" r="10.6"/><circle cx="566.7" cy="3326.5" r="10.6"/><circle cx="567.9" cy="3328.1" r="10.6"/><circle cx="569" cy="3328" r="10.6"/><circle cx="570.2" cy="3327.8" r="10.6"/><circle cx="571.4" cy="3328.5" r="10.6"/><circle cx="572.5" cy="3329.1" r="10.6"/><circle cx="573.7" cy="3329.1" r="10.6"/><circle cx="574.9" cy="3328.8" r="10.6"/><circle cx="576.1" cy="3328.9" r="10.6"/><circle cx="577.2" cy="3329.2" r="10.6"/><circle cx="578.4" cy="3329" r="10.6"/><circle cx="579.6" cy="3329.1" r="10.6"/><circle cx="580.7" cy="3329.5" r="10.6"/><circle cx="581.9" cy="3329.8" r="10.6"/><circle cx="583.1" cy="3330" r="10.6"/><circle cx="584.2" cy="3329.9" r="10.6"/><circle cx="585.4" cy="3329.9" r="10.6"/><circle cx="586.6" cy="3330.3" r="10.6"/><circle cx="587.8" cy="3330.3" r="10.6"/><circle cx="588.9" cy="3330.7" r="10.6"/><circle cx="590.1" cy="3331.2" r="10.6"/><circle cx="591.3" cy="3331.2" r="10.6"/><circle cx="592.4" cy="3330.7" r="10.6"/><circle cx="593.6" cy="3330.9" r="10.6"/><circle cx="594.8" cy="3330.6" r="10.6"/><circle cx="595.9" cy="3331.3" r="10.6"/><circle cx="597.1" cy="3331.1" r="10.6"/><circle cx="598.3" cy="3331.1" r="10.6"/><circle cx="599.5" cy="3331.3" r="10.6"/><circle cx="600.6" cy="3331.9" r="10.6"/><circle cx="601.8" cy="3331.8" r="10.6"/><circle cx="603" cy="3331.8" r="10.6"/><circle cx="604.1" cy="3332.3" r="10.6"/><circle cx="605.3" cy="3331.9" r="10.6"/><circle cx="606.5" cy="3331.8" r="10.6"/><circle cx="607.6" cy="3332.4" r="10.6"/><circle cx="608.8" cy="3331.7" r="10.6"/><circle cx="610" cy="3332.5" r="10.6"/><circle cx="611.2" cy="3332.5" r="10.6"/><circle cx="612.3" cy="3332.6" r="10.6"/><circle cx="613.5" cy="3332.8" r="10.6"/><circle cx="614.7" cy="3332.6" r="10.6"/><circle cx="615.8" cy="3332.7" r="10.6"/><circle cx="617" cy="3332.4" r="10.6"/><circle cx="618.2" cy="3332.7" r="10.6"/><circle cx="619.3" cy="3332.8" r="10.6"/><circle cx="620.5" cy="3333.1" r="10.6"/><circle cx="621.7" cy="3333.5" r="10.6"/><circle cx="622.9" cy="3333.2" r="10.6"/><circle cx="624" cy="3333.4" r="10.6"/><circle cx="625.2" cy="3333" r="10.6"/><circle cx="626.4" cy="3333.4" r="10.6"/><circle cx="627.5" cy="3333" r="10.6"/><circle cx="628.7" cy="3333.3" r="10.6"/><circle cx="629.9" cy="3333.3" r="10.6"/><circle cx="631" cy="3333.5" r="10.6"/><circle cx="632.2" cy="3333.6" r="10.6"/><circle cx="633.4" cy="3333.5" r="10.6"/><circle cx="634.6" cy="3333.5" r="10.6"/><circle cx="635.7" cy="3333.9" r="10.6"/><circle cx="636.9" cy="3333.7" r="10.6"/><circle cx="638.1" cy="3333.2" r="10.6"/><circle cx="639.2" cy="3333.9" r="10.6"/><circle cx="640.4" cy="3334" r="10.6"/><circle cx="641.6" cy="3334.1" r="10.6"/><circle cx="642.8" cy="3334.3" r="10.6"/><circle cx="643.9" cy="3333.7" r="10.6"/><circle cx="645.1" cy="3334" r="10.6"/><circle cx="646.3" cy="3334" r="10.6"/><circle cx="647.4" cy="3333.7" r="10.6"/><circle cx="648.6" cy="3333.5" r="10.6"/><circle cx="649.8" cy="3334.3" r="10.6"/><circle cx="650.9" cy="3333.9" r="10.6"/><circle cx="652.1" cy="3334" r="10.6"/><circle cx="653.3" cy="3334.1" r="10.6"/><circle cx="654.5" cy="3334.1" r="10.6"/><circle cx="655.6" cy="3334.2" r="10.6"/><circle cx="656.8" cy="3333.9" r="10.6"/><circle cx="658" cy="3334.2" r="10.6"/><circle cx="659.1" cy="3334.2" r="10.6"/><circle cx="660.3" cy="3334.1" r="10.6"/><circle cx="661.5" cy="3334.2" r="10.6"/><circle cx="662.6" cy="3334.3" r="10.6"/><circle cx="663.8" cy="3334.3" r="10.6"/><circle cx="665" cy="3334.1" r="10.6"/><circle cx="666.2" cy="3334.3" r="10.6"/><circle cx="667.3" cy="3334.5" r="10.6"/><circle cx="668.5" cy="3334.6" r="10.6"/><circle cx="669.7" cy="3334.6" r="10.6"/><circle cx="670.8" cy="3334.7" r="10.6"/><circle cx="672" cy="3334.5" r="10.6"/><circle cx="673.2" cy="3334.5" r="10.6"/><circle cx="674.3" cy="3335" r="10.6"/><circle cx="675.5" cy="3334.6" r="10.6"/><circle cx="676.7" cy="3334.5" r="10.6"/><circle cx="677.9" cy="3334.6" r="10.6"/><circle cx="679" cy="3334.8" r="10.6"/><circle cx="680.2" cy="3334.4" r="10.6"/><circle cx="681.4" cy="3334.8" r="10.6"/><circle cx="682.5" cy="3334.9" r="10.6"/><circle cx="683.7" cy="3334.9" r="10.6"/><circle cx="684.9" cy="3334.7" r="10.6"/><circle cx="686" cy="3334.5" r="10.6"/><circle cx="687.2" cy="3334.5" r="10.6"/><circle cx="688.4" cy="3334.7" r="10.6"/><circle cx="689.6" cy="3334.9" r="10.6"/><circle cx="690.7" cy="3334.9" r="10.6"/><circle cx="691.9" cy="3334.9" r="10.6"/><circle cx="693.1" cy="3334.8" r="10.6"/><circle cx="694.2" cy="3335.1" r="10.6"/><circle cx="695.4" cy="3334.7" r="10.6"/><circle cx="696.6" cy="3334.7" r="10.6"/><circle cx="697.8" cy="3334.8" r="10.6"/><circle cx="698.9" cy="3334.7" r="10.6"/><circle cx="700.1" cy="3335" r="10.6"/><circle cx="701.3" cy="3335.1" r="10.6"/><circle cx="702.4" cy="3334.9" r="10.6"/><circle cx="703.6" cy="3334.6" r="10.6"/><circle cx="704.8" cy="3334.6" r="10.6"/><circle cx="705.9" cy="3334.9" r="10.6"/><circle cx="707.1" cy="3334.6" r="10.6"/><circle cx="708.3" cy="3334.9" r="10.6"/><circle cx="709.5" cy="3334.6" r="10.6"/><circle cx="710.6" cy="3334.8" r="10.6"/><circle cx="711.8" cy="3334.9" r="10.6"/><circle cx="713" cy="3334.7" r="10.6"/><circle cx="714.1" cy="3335" r="10.6"/><circle cx="715.3" cy="3335" r="10.6"/><circle cx="716.5" cy="3335.1" r="10.6"/><circle cx="717.6" cy="3334.9" r="10.6"/><circle cx="718.8" cy="3334.9" r="10.6"/><circle cx="720" cy="3334.9" r="10.6"/><circle cx="721.2" cy="3335" r="10.6"/><circle cx="722.3" cy="3334.7" r="10.6"/><circle cx="723.5" cy="3335" r="10.6"/><circle cx="724.7" cy="3335.1" r="10.6"/><circle cx="725.8" cy="3334.7" r="10.6"/><circle cx="727" cy="3334.7" r="10.6"/><circle cx="728.2" cy="3334.9" r="10.6"/><circle cx="729.3" cy="3335.3" r="10.6"/><circle cx="730.5" cy="3335.1" r="10.6"/><circle cx="731.7" cy="3334.9" r="10.6"/><circle cx="732.9" cy="3335" r="10.6"/><circle cx="734" cy="3334.7" r="10.6"/><circle cx="735.2" cy="3335.2" r="10.6"/><circle cx="736.4" cy="3334.9" r="10.6"/><circle cx="737.5" cy="3335.1" r="10.6"/><circle cx="738.7" cy="3334.8" r="10.6"/><circle cx="739.9" cy="3335" r="10.6"/><circle cx="741" cy="3334.8" r="10.6"/><circle cx="742.2" cy="3335.1" r="10.6"/><circle cx="743.4" cy="3335.2" r="10.6"/><circle cx="744.6" cy="3335.2" r="10.6"/><circle cx="745.7" cy="3335.1" r="10.6"/><circle cx="746.9" cy="3335.2" r="10.6"/><circle cx="748.1" cy="3334.8" r="10.6"/><circle cx="749.2" cy="3334.8" r="10.6"/><circle cx="750.4" cy="3335" r="10.6"/><circle cx="751.6" cy="3335.2" r="10.6"/><circle cx="752.8" cy="3335" r="10.6"/><circle cx="753.9" cy="3335.1" r="10.6"/><circle cx="755.1" cy="3334.8" r="10.6"/><circle cx="756.3" cy="3335" r="10.6"/><circle cx="757.4" cy="3334.9" r="10.6"/><circle cx="758.6" cy="3335.1" r="10.6"/><circle cx="759.8" cy="3335.3" r="10.6"/><circle cx="760.9" cy="3335.1" r="10.6"/><circle cx="762.1" cy="3335.2" r="10.6"/><circle cx="763.3" cy="3335" r="10.6"/><circle cx="764.5" cy="3335" r="10.6"/><circle cx="765.6" cy="3335.1" r="10.6"/><circle cx="766.8" cy="3335.1" r="10.6"/><circle cx="768" cy="3334.8" r="10.6"/><circle cx="769.1" cy="3335.2" r="10.6"/><circle cx="770.3" cy="3335.2" r="10.6"/><circle cx="771.5" cy="3335.1" r="10.6"/><circle cx="772.6" cy="3335.1" r="10.6"/><circle cx="773.8" cy="3335.1" r="10.6"/><circle cx="775" cy="3334.9" r="10.6"/><circle cx="776.2" cy="3334.7" r="10.6"/><circle cx="777.3" cy="3335.3" r="10.6"/><circle cx="778.5" cy="3335" r="10.6"/><circle cx="779.7" cy="3335" r="10.6"/><circle cx="780.8" cy="3335" r="10.6"/><circle cx="782" cy="3335" r="10.6"/><circle cx="783.2" cy="3335.1" r="10.6"/><circle cx="784.3" cy="3334.9" r="10.6"/><circle cx="785.5" cy="3335.1" r="10.6"/><circle cx="786.7" cy="3335" r="10.6"/><circle cx="787.9" cy="3335" r="10.6"/><circle cx="789" cy="3335" r="10.6"/><circle cx="790.2" cy="3335" r="10.6"/><circle cx="791.4" cy="3334.9" r="10.6"/><circle cx="792.5" cy="3335" r="10.6"/><circle cx="793.7" cy="3335" r="10.6"/><circle cx="794.9" cy="3335" r="10.6"/><circle cx="796" cy="3335.2" r="10.6"/><circle cx="797.2" cy="3335.2" r="10.6"/><circle cx="798.4" cy="3335.2" r="10.6"/><circle cx="799.6" cy="3335" r="10.6"/><circle cx="800.7" cy="3335.1" r="10.6"/><circle cx="801.9" cy="3335.2" r="10.6"/><circle cx="803.1" cy="3335" r="10.6"/><circle cx="804.2" cy="3334.9" r="10.6"/><circle cx="805.4" cy="3335.3" r="10.6"/><circle cx="806.6" cy="3334.7" r="10.6"/><circle cx="807.8" cy="3335" r="10.6"/><circle cx="808.9" cy="3335" r="10.6"/><circle cx="810.1" cy="3334.8" r="10.6"/><circle cx="811.3" cy="3335" r="10.6"/><circle cx="812.4" cy="3335.1" r="10.6"/><circle cx="813.6" cy="3334.7" r="10.6"/><circle cx="814.8" cy="3335.2" r="10.6"/><circle cx="815.9" cy="3335" r="10.6"/><circle cx="817.1" cy="3334.9" r="10.6"/><circle cx="818.3" cy="3335.2" r="10.6"/><circle cx="819.5" cy="3335" r="10.6"/><circle cx="820.6" cy="3335" r="10.6"/><circle cx="821.8" cy="3334.6" r="10.6"/><circle cx="823" cy="3335.2" r="10.6"/><circle cx="824.1" cy="3335" r="10.6"/><circle cx="825.3" cy="3334.9" r="10.6"/><circle cx="826.5" cy="3335" r="10.6"/><circle cx="827.6" cy="3335.2" r="10.6"/><circle cx="828.8" cy="3334.9" r="10.6"/><circle cx="830" cy="3335" r="10.6"/><circle cx="831.2" cy="3334.9" r="10.6"/><circle cx="832.3" cy="3334.8" r="10.6"/><circle cx="833.5" cy="3334.8" r="10.6"/><circle cx="834.7" cy="3334.9" r="10.6"/><circle cx="835.8" cy="3335" r="10.6"/><circle cx="837" cy="3335.2" r="10.6"/><circle cx="838.2" cy="3335" r="10.6"/><circle cx="839.3" cy="3335" r="10.6"/><circle cx="840.5" cy="3335.1" r="10.6"/><circle cx="841.7" cy="3335" r="10.6"/><circle cx="842.9" cy="3335.2" r="10.6"/><circle cx="844" cy="3334.8" r="10.6"/><circle cx="845.2" cy="3334.7" r="10.6"/><circle cx="846.4" cy="3335.1" r="10.6"/><circle cx="847.5" cy="3335" r="10.6"/><circle cx="848.7" cy="3335.1" r="10.6"/><circle cx="849.9" cy="3334.8" r="10.6"/><circle cx="851" cy="3334.9" r="10.6"/><circle cx="852.2" cy="3335" r="10.6"/><circle cx="853.4" cy="3335.1" r="10.6"/><circle cx="854.6" cy="3335" r="10.6"/><circle cx="855.7" cy="3335.2" r="10.6"/><circle cx="856.9" cy="3334.9" r="10.6"/><circle cx="858.1" cy="3335.1" r="10.6"/><circle cx="859.2" cy="3334.9" r="10.6"/><circle cx="860.4" cy="3335" r="10.6"/><circle cx="861.6" cy="3334.8" r="10.6"/><circle cx="862.7" cy="3335" r="10.6"/><circle cx="863.9" cy="3334.8" r="10.6"/><circle cx="865.1" cy="3335.2" r="10.6"/><circle cx="866.3" cy="3334.9" r="10.6"/><circle cx="867.4" cy="3335.1" r="10.6"/><circle cx="868.6" cy="3335" r="10.6"/><circle cx="869.8" cy="3335" r="10.6"/><circle cx="870.9" cy="3334.9" r="10.6"/><circle cx="872.1" cy="3335.4" r="10.6"/><circle cx="873.3" cy="3335" r="10.6"/><circle cx="874.5" cy="3335.3" r="10.6"/><circle cx="875.6" cy="3334.8" r="10.6"/><circle cx="876.8" cy="3335.3" r="10.6"/><circle cx="878" cy="3335.2" r="10.6"/><circle cx="879.1" cy="3335.3" r="10.6"/><circle cx="880.3" cy="3334.7" r="10.6"/><circle cx="881.5" cy="3335.2" r="10.6"/><circle cx="882.6" cy="3335" r="10.6"/><circle cx="883.8" cy="3335.1" r="10.6"/><circle cx="885" cy="3335.3" r="10.6"/><circle cx="886.2" cy="3335.1" r="10.6"/><circle cx="887.3" cy="3334.9" r="10.6"/><circle cx="888.5" cy="3335" r="10.6"/><circle cx="889.7" cy="3334.9" r="10.6"/><circle cx="890.8" cy="3335.1" r="10.6"/><circle cx="892" cy="3335" r="10.6"/><circle cx="893.2" cy="3335.1" r="10.6"/><circle cx="894.3" cy="3335" r="10.6"/><circle cx="895.5" cy="3334.7" r="10.6"/><circle cx="896.7" cy="3335" r="10.6"/><circle cx="897.9" cy="3335" r="10.6"/><circle cx="899" cy="3335.1" r="10.6"/><circle cx="900.2" cy="3335.1" r="10.6"/><circle cx="901.4" cy="3334.8" r="10.6"/><circle cx="902.5" cy="3335.2" r="10.6"/><circle cx="903.7" cy="3335.2" r="10.6"/><circle cx="904.9" cy="3335" r="10.6"/><circle cx="906" cy="3335.1" r="10.6"/><circle cx="907.2" cy="3334.7" r="10.6"/><circle cx="908.4" cy="3335.4" r="10.6"/><circle cx="909.6" cy="3335" r="10.6"/><circle cx="910.7" cy="3334.9" r="10.6"/><circle cx="911.9" cy="3335.2" r="10.6"/><circle cx="913.1" cy="3335.1" r="10.6"/><circle cx="914.2" cy="3334.9" r="10.6"/><circle cx="915.4" cy="3334.7" r="10.6"/><circle cx="916.6" cy="3335.2" r="10.6"/><circle cx="917.7" cy="3335.3" r="10.6"/><circle cx="918.9" cy="3334.9" r="10.6"/><circle cx="920.1" cy="3334.8" r="10.6"/><circle cx="921.3" cy="3335.1" r="10.6"/><circle cx="922.4" cy="3335.4" r="10.6"/><circle cx="923.6" cy="3334.8" r="10.6"/><circle cx="924.8" cy="3335" r="10.6"/><circle cx="925.9" cy="3334.8" r="10.6"/><circle cx="927.1" cy="3335" r="10.6"/><circle cx="928.3" cy="3335.1" r="10.6"/><circle cx="929.5" cy="3335.1" r="10.6"/><circle cx="930.6" cy="3334.8" r="10.6"/><circle cx="931.8" cy="3334.8" r="10.6"/><circle cx="933" cy="3335.4" r="10.6"/><circle cx="934.1" cy="3335.2" r="10.6"/><circle cx="935.3" cy="3334.7" r="10.6"/><circle cx="936.5" cy="3335.1" r="10.6"/><circle cx="937.6" cy="3335.2" r="10.6"/><circle cx="938.8" cy="3335" r="10.6"/><circle cx="940" cy="3335" r="10.6"/><circle cx="941.2" cy="3335" r="10.6"/><circle cx="942.3" cy="3335.1" r="10.6"/><circle cx="943.5" cy="3335.1" r="10.6"/><circle cx="944.7" cy="3335.1" r="10.6"/><circle cx="945.8" cy="3335" r="10.6"/><circle cx="947" cy="3335.2" r="10.6"/><circle cx="948.2" cy="3335.1" r="10.6"/><circle cx="949.3" cy="3335" r="10.6"/><circle cx="950.5" cy="3334.8" r="10.6"/><circle cx="951.7" cy="3335" r="10.6"/><circle cx="952.9" cy="3335" r="10.6"/><circle cx="954" cy="3334.9" r="10.6"/><circle cx="955.2" cy="3334.9" r="10.6"/><circle cx="956.4" cy="3334.8" r="10.6"/><circle cx="957.5" cy="3334.9" r="10.6"/><circle cx="958.7" cy="3334.7" r="10.6"/><circle cx="959.9" cy="3334.8" r="10.6"/><circle cx="961" cy="3335" r="10.6"/><circle cx="962.2" cy="3335.1" r="10.6"/><circle cx="963.4" cy="3334.9" r="10.6"/><circle cx="964.6" cy="3334.9" r="10.6"/><circle cx="965.7" cy="3335" r="10.6"/><circle cx="966.9" cy="3335.3" r="10.6"/><circle cx="968.1" cy="3335.3" r="10.6"/><circle cx="969.2" cy="3335" r="10.6"/><circle cx="970.4" cy="3334.9" r="10.6"/><circle cx="971.6" cy="3334.9" r="10.6"/><circle cx="972.7" cy="3335.2" r="10.6"/><circle cx="973.9" cy="3334.8" r="10.6"/><circle cx="975.1" cy="3335.1" r="10.6"/><circle cx="976.3" cy="3335" r="10.6"/><circle cx="977.4" cy="3334.9" r="10.6"/><circle cx="978.6" cy="3335.1" r="10.6"/><circle cx="979.8" cy="3335.1" r="10.6"/><circle cx="980.9" cy="3335.4" r="10.6"/><circle cx="982.1" cy="3335.2" r="10.6"/><circle cx="983.3" cy="3335.3" r="10.6"/><circle cx="984.5" cy="3334.9" r="10.6"/><circle cx="985.6" cy="3335" r="10.6"/><circle cx="986.8" cy="3334.9" r="10.6"/><circle cx="988" cy="3335" r="10.6"/><circle cx="989.1" cy="3335.1" r="10.6"/><circle cx="990.3" cy="3335" r="10.6"/><circle cx="991.5" cy="3335.1" r="10.6"/><circle cx="992.6" cy="3334.9" r="10.6"/><circle cx="993.8" cy="3335" r="10.6"/><circle cx="995" cy="3335.2" r="10.6"/><circle cx="996.2" cy="3335" r="10.6"/><circle cx="997.3" cy="3335" r="10.6"/><circle cx="998.5" cy="3335.1" r="10.6"/><circle cx="999.7" cy="3334.9" r="10.6"/><circle cx="1000.8" cy="3334.7" r="10.6"/><circle cx="1002" cy="3335.1" r="10.6"/><circle cx="1003.2" cy="3335.1" r="10.6"/><circle cx="1004.3" cy="3335.4" r="10.6"/><circle cx="1005.5" cy="3335" r="10.6"/><circle cx="1006.7" cy="3335.1" r="10.6"/><circle cx="1007.9" cy="3335.4" r="10.6"/><circle cx="1009" cy="3335" r="10.6"/><circle cx="1010.2" cy="3334.9" r="10.6"/><circle cx="1011.4" cy="3335.1" r="10.6"/><circle cx="1012.5" cy="3335.1" r="10.6"/><circle cx="1013.7" cy="3335.2" r="10.6"/><circle cx="1014.9" cy="3334.9" r="10.6"/><circle cx="1016" cy="3335.3" r="10.6"/><circle cx="1017.2" cy="3335.1" r="10.6"/><circle cx="1018.4" cy="3334.7" r="10.6"/><circle cx="1019.6" cy="3335" r="10.6"/><circle cx="1020.7" cy="3334.9" r="10.6"/><circle cx="1021.9" cy="3335" r="10.6"/><circle cx="1023.1" cy="3335.2" r="10.6"/><circle cx="1024.2" cy="3335" r="10.6"/><circle cx="1025.4" cy="3334.9" r="10.6"/><circle cx="1026.6" cy="3335.2" r="10.6"/><circle cx="1027.7" cy="3335" r="10.6"/><circle cx="1028.9" cy="3334.8" r="10.6"/><circle cx="1030.1" cy="3334.8" r="10.6"/><circle cx="1031.3" cy="3335.3" r="10.6"/><circle cx="1032.4" cy="3335.2" r="10.6"/><circle cx="1033.6" cy="3335.3" r="10.6"/><circle cx="1034.8" cy="3334.8" r="10.6"/><circle cx="1035.9" cy="3334.9" r="10.6"/><circle cx="1037.1" cy="3334.9" r="10.6"/><circle cx="1038.3" cy="3335.2" r="10.6"/><circle cx="1039.4" cy="3335.2" r="10.6"/><circle cx="1040.6" cy="3335" r="10.6"/><circle cx="1041.8" cy="3335" r="10.6"/><circle cx="1043" cy="3335.2" r="10.6"/><circle cx="1044.1" cy="3335" r="10.6"/><circle cx="1045.3" cy="3334.9" r="10.6"/><circle cx="1046.5" cy="3335" r="10.6"/><circle cx="1047.6" cy="3335.2" r="10.6"/><circle cx="1048.8" cy="3335.4" r="10.6"/><circle cx="1050" cy="3335.1" r="10.6"/><circle cx="1051.2" cy="3335" r="10.6"/><circle cx="1052.3" cy="3335.1" r="10.6"/><circle cx="1053.5" cy="3335.1" r="10.6"/><circle cx="1054.7" cy="3335.1" r="10.6"/><circle cx="1055.8" cy="3334.9" r="10.6"/><circle cx="1057" cy="3335" r="10.6"/><circle cx="1058.2" cy="3335" r="10.6"/><circle cx="1059.3" cy="3335.2" r="10.6"/><circle cx="1060.5" cy="3335.1" r="10.6"/><circle cx="1061.7" cy="3335" r="10.6"/><circle cx="1062.9" cy="3335.2" r="10.6"/><circle cx="1064" cy="3335.2" r="10.6"/><circle cx="1065.2" cy="3335.1" r="10.6"/><circle cx="1066.4" cy="3334.8" r="10.6"/><circle cx="1067.5" cy="3335" r="10.6"/><circle cx="1068.7" cy="3334.8" r="10.6"/><circle cx="1069.9" cy="3335" r="10.6"/><circle cx="1071" cy="3335.1" r="10.6"/><circle cx="1072.2" cy="3335.2" r="10.6"/><circle cx="1073.4" cy="3335.1" r="10.6"/><circle cx="1074.6" cy="3334.8" r="10.6"/><circle cx="1075.7" cy="3335" r="10.6"/><circle cx="1076.9" cy="3334.9" r="10.6"/><circle cx="1078.1" cy="3334.9" r="10.6"/><circle cx="1079.2" cy="3335" r="10.6"/><circle cx="1080.4" cy="3335.1" r="10.6"/><circle cx="1081.6" cy="3335" r="10.6"/><circle cx="1082.7" cy="3334.9" r="10.6"/><circle cx="1083.9" cy="3334.9" r="10.6"/><circle cx="1085.1" cy="3334.9" r="10.6"/><circle cx="1086.3" cy="3335" r="10.6"/><circle cx="1087.4" cy="3335.1" r="10.6"/><circle cx="1088.6" cy="3335.1" r="10.6"/><circle cx="1089.8" cy="3335.2" r="10.6"/><circle cx="1090.9" cy="3334.9" r="10.6"/><circle cx="1092.1" cy="3335.4" r="10.6"/><circle cx="1093.3" cy="3335.1" r="10.6"/><circle cx="1094.4" cy="3334.6" r="10.6"/><circle cx="1095.6" cy="3335.1" r="10.6"/><circle cx="1096.8" cy="3335.2" r="10.6"/><circle cx="1098" cy="3335" r="10.6"/><circle cx="1099.1" cy="3334.8" r="10.6"/><circle cx="1100.3" cy="3335" r="10.6"/><circle cx="1101.5" cy="3334.9" r="10.6"/><circle cx="1102.6" cy="3335" r="10.6"/><circle cx="1103.8" cy="3335.1" r="10.6"/><circle cx="1105" cy="3334.5" r="10.6"/><circle cx="1106.2" cy="3335" r="10.6"/><circle cx="1107.3" cy="3335.1" r="10.6"/><circle cx="1108.5" cy="3335.1" r="10.6"/><circle cx="1109.7" cy="3335" r="10.6"/><circle cx="1110.8" cy="3334.9" r="10.6"/><circle cx="1112" cy="3334.9" r="10.6"/><circle cx="1113.2" cy="3335" r="10.6"/><circle cx="1114.3" cy="3335.3" r="10.6"/><circle cx="1115.5" cy="3334.9" r="10.6"/><circle cx="1116.7" cy="3335.1" r="10.6"/><circle cx="1117.9" cy="3335.1" r="10.6"/><circle cx="1119" cy="3335.3" r="10.6"/><circle cx="1120.2" cy="3335.1" r="10.6"/><circle cx="1121.4" cy="3335.1" r="10.6"/><circle cx="1122.5" cy="3335" r="10.6"/><circle cx="1123.7" cy="3335.3" r="10.6"/><circle cx="1124.9" cy="3335" r="10.6"/><circle cx="1126" cy="3335" r="10.6"/><circle cx="1127.2" cy="3335.2" r="10.6"/><circle cx="1128.4" cy="3335.1" r="10.6"/><circle cx="1129.6" cy="3335.2" r="10.6"/><circle cx="1130.7" cy="3334.9" r="10.6"/><circle cx="1131.9" cy="3335.4" r="10.6"/><circle cx="1133.1" cy="3335.1" r="10.6"/><circle cx="1134.2" cy="3335.3" r="10.6"/><circle cx="1135.4" cy="3335.1" r="10.6"/><circle cx="1136.6" cy="3334.9" r="10.6"/><circle cx="1137.7" cy="3335.1" r="10.6"/><circle cx="1138.9" cy="3335" r="10.6"/><circle cx="1140.1" cy="3335.2" r="10.6"/><circle cx="1141.3" cy="3334.7" r="10.6"/><circle cx="1142.4" cy="3334.9" r="10.6"/><circle cx="1143.6" cy="3334.8" r="10.6"/><circle cx="1144.8" cy="3335.2" r="10.6"/><circle cx="1145.9" cy="3335.2" r="10.6"/><circle cx="1147.1" cy="3334.8" r="10.6"/><circle cx="1148.3" cy="3335" r="10.6"/><circle cx="1149.4" cy="3335.1" r="10.6"/><circle cx="1150.6" cy="3335" r="10.6"/><circle cx="1151.8" cy="3335.2" r="10.6"/><circle cx="1153" cy="3334.9" r="10.6"/><circle cx="1154.1" cy="3335" r="10.6"/><circle cx="1155.3" cy="3334.9" r="10.6"/><circle cx="1156.5" cy="3335.1" r="10.6"/><circle cx="1157.6" cy="3334.9" r="10.6"/><circle cx="1158.8" cy="3335.1" r="10.6"/><circle cx="1160" cy="3334.9" r="10.6"/><circle cx="1161.2" cy="3334.8" r="10.6"/><circle cx="1162.3" cy="3334.9" r="10.6"/><circle cx="1163.5" cy="3334.9" r="10.6"/><circle cx="1164.7" cy="3334.9" r="10.6"/><circle cx="1165.8" cy="3335.5" r="10.6"/><circle cx="1167" cy="3334.9" r="10.6"/><circle cx="1168.2" cy="3335.1" r="10.6"/><circle cx="1169.3" cy="3335" r="10.6"/><circle cx="1170.5" cy="3335.1" r="10.6"/><circle cx="1171.7" cy="3335.2" r="10.6"/><circle cx="1172.9" cy="3335.1" r="10.6"/><circle cx="1174" cy="3334.9" r="10.6"/><circle cx="1175.2" cy="3334.8" r="10.6"/><circle cx="1176.4" cy="3335.1" r="10.6"/><circle cx="1177.5" cy="3335.2" r="10.6"/><circle cx="1178.7" cy="3334.8" r="10.6"/><circle cx="1179.9" cy="3335.2" r="10.6"/><circle cx="1181" cy="3334.7" r="10.6"/><circle cx="1182.2" cy="3335" r="10.6"/><circle cx="1183.4" cy="3335.2" r="10.6"/><circle cx="1184.6" cy="3334.9" r="10.6"/><circle cx="1185.7" cy="3334.7" r="10.6"/><circle cx="1186.9" cy="3335.3" r="10.6"/><circle cx="1188.1" cy="3334.8" r="10.6"/><circle cx="1189.2" cy="3335.1" r="10.6"/><circle cx="1190.4" cy="3334.8" r="10.6"/><circle cx="1191.6" cy="3335.1" r="10.6"/><circle cx="1192.7" cy="3335.3" r="10.6"/><circle cx="1193.9" cy="3334.9" r="10.6"/><circle cx="1195.1" cy="3334.9" r="10.6"/><circle cx="1196.3" cy="3334.7" r="10.6"/><circle cx="1197.4" cy="3334.7" r="10.6"/><circle cx="1198.6" cy="3334.9" r="10.6"/><circle cx="1199.8" cy="3335.1" r="10.6"/><circle cx="1200.9" cy="3335.1" r="10.6"/><circle cx="1202.1" cy="3335.1" r="10.6"/><circle cx="1203.3" cy="3335.2" r="10.6"/><circle cx="1204.4" cy="3335.1" r="10.6"/><circle cx="1205.6" cy="3335.4" r="10.6"/><circle cx="1206.8" cy="3335" r="10.6"/><circle cx="1208" cy="3335" r="10.6"/><circle cx="1209.1" cy="3334.6" r="10.6"/><circle cx="1210.3" cy="3334.9" r="10.6"/><circle cx="1211.5" cy="3335.1" r="10.6"/><circle cx="1212.6" cy="3334.9" r="10.6"/><circle cx="1213.8" cy="3335.2" r="10.6"/><circle cx="1215" cy="3335.1" r="10.6"/><circle cx="1216.2" cy="3335.3" r="10.6"/><circle cx="1217.3" cy="3334.8" r="10.6"/><circle cx="1218.5" cy="3334.9" r="10.6"/><circle cx="1219.7" cy="3335.2" r="10.6"/><circle cx="1220.8" cy="3335" r="10.6"/><circle cx="1222" cy="3334.9" r="10.6"/><circle cx="1223.2" cy="3334.9" r="10.6"/><circle cx="1224.3" cy="3335" r="10.6"/><circle cx="1225.5" cy="3335.2" r="10.6"/><circle cx="1226.7" cy="3335.1" r="10.6"/><circle cx="1227.9" cy="3335" r="10.6"/><circle cx="1229" cy="3334.9" r="10.6"/><circle cx="1230.2" cy="3335.2" r="10.6"/><circle cx="1231.4" cy="3335.2" r="10.6"/><circle cx="1232.5" cy="3334.8" r="10.6"/><circle cx="1233.7" cy="3335.2" r="10.6"/><circle cx="1234.9" cy="3334.8" r="10.6"/><circle cx="1236" cy="3335" r="10.6"/><circle cx="1237.2" cy="3334.9" r="10.6"/><circle cx="1238.4" cy="3334.7" r="10.6"/><circle cx="1239.6" cy="3334.9" r="10.6"/><circle cx="1240.7" cy="3334.9" r="10.6"/><circle cx="1241.9" cy="3335.2" r="10.6"/><circle cx="1243.1" cy="3335.1" r="10.6"/><circle cx="1244.2" cy="3334.9" r="10.6"/><circle cx="1245.4" cy="3334.8" r="10.6"/><circle cx="1246.6" cy="3334.8" r="10.6"/><circle cx="1247.7" cy="3334.6" r="10.6"/><circle cx="1248.9" cy="3335" r="10.6"/><circle cx="1250.1" cy="3335" r="10.6"/><circle cx="1251.3" cy="3334.8" r="10.6"/><circle cx="1252.4" cy="3335" r="10.6"/><circle cx="1253.6" cy="3335" r="10.6"/><circle cx="1254.8" cy="3335.2" r="10.6"/><circle cx="1255.9" cy="3334.9" r="10.6"/><circle cx="1257.1" cy="3335.2" r="10.6"/><circle cx="1258.3" cy="3334.9" r="10.6"/><circle cx="1259.4" cy="3335.3" r="10.6"/><circle cx="1260.6" cy="3334.8" r="10.6"/><circle cx="1261.8" cy="3335.2" r="10.6"/><circle cx="1263" cy="3334.9" r="10.6"/><circle cx="1264.1" cy="3335.3" r="10.6"/><circle cx="1265.3" cy="3335.1" r="10.6"/><circle cx="1266.5" cy="3334.8" r="10.6"/><circle cx="1267.6" cy="3335.2" r="10.6"/><circle cx="1268.8" cy="3335" r="10.6"/><circle cx="1270" cy="3335.1" r="10.6"/><circle cx="1271.1" cy="3335.4" r="10.6"/><circle cx="1272.3" cy="3335" r="10.6"/><circle cx="1273.5" cy="3334.9" r="10.6"/><circle cx="1274.7" cy="3335.2" r="10.6"/><circle cx="1275.8" cy="3334.9" r="10.6"/><circle cx="1277" cy="3335.1" r="10.6"/><circle cx="1278.2" cy="3335.2" r="10.6"/><circle cx="1279.3" cy="3335" r="10.6"/><circle cx="1280.5" cy="3335.1" r="10.6"/><circle cx="1281.7" cy="3334.6" r="10.6"/><circle cx="1282.9" cy="3335.3" r="10.6"/><circle cx="1284" cy="3334.9" r="10.6"/><circle cx="1285.2" cy="3334.9" r="10.6"/><circle cx="1286.4" cy="3335.3" r="10.6"/><circle cx="1287.5" cy="3335.3" r="10.6"/><circle cx="1288.7" cy="3334.9" r="10.6"/><circle cx="1289.9" cy="3335.1" r="10.6"/><circle cx="1291" cy="3335" r="10.6"/><circle cx="1292.2" cy="3334.8" r="10.6"/><circle cx="1293.4" cy="3335.1" r="10.6"/><circle cx="1294.6" cy="3335.2" r="10.6"/><circle cx="1295.7" cy="3335.5" r="10.6"/><circle cx="1296.9" cy="3335" r="10.6"/><circle cx="1298.1" cy="3335.2" r="10.6"/><circle cx="1299.2" cy="3335" r="10.6"/><circle cx="1300.4" cy="3335" r="10.6"/><circle cx="1301.6" cy="3335.2" r="10.6"/><circle cx="1302.7" cy="3334.7" r="10.6"/><circle cx="1303.9" cy="3334.8" r="10.6"/><circle cx="1305.1" cy="3334.9" r="10.6"/><circle cx="1306.3" cy="3335.2" r="10.6"/><circle cx="1307.4" cy="3335.1" r="10.6"/><circle cx="1308.6" cy="3335.1" r="10.6"/><circle cx="1309.8" cy="3335.1" r="10.6"/><circle cx="1310.9" cy="3335.2" r="10.6"/><circle cx="1312.1" cy="3334.9" r="10.6"/><circle cx="1313.3" cy="3335" r="10.6"/><circle cx="1314.4" cy="3335" r="10.6"/><circle cx="1315.6" cy="3335.1" r="10.6"/><circle cx="1316.8" cy="3334.8" r="10.6"/><circle cx="1318" cy="3335" r="10.6"/><circle cx="1319.1" cy="3335.5" r="10.6"/><circle cx="1320.3" cy="3335.1" r="10.6"/><circle cx="1321.5" cy="3335" r="10.6"/><circle cx="1322.6" cy="3334.9" r="10.6"/><circle cx="1323.8" cy="3335.1" r="10.6"/><circle cx="1325" cy="3335.1" r="10.6"/><circle cx="1326.1" cy="3335.1" r="10.6"/><circle cx="1327.3" cy="3334.9" r="10.6"/><circle cx="1328.5" cy="3335.1" r="10.6"/><circle cx="1329.7" cy="3335.1" r="10.6"/><circle cx="1330.8" cy="3335.1" r="10.6"/><circle cx="1332" cy="3334.9" r="10.6"/><circle cx="1333.2" cy="3335.1" r="10.6"/><circle cx="1334.3" cy="3335.3" r="10.6"/><circle cx="1335.5" cy="3334.9" r="10.6"/><circle cx="1336.7" cy="3335.1" r="10.6"/><circle cx="1337.9" cy="3335" r="10.6"/><circle cx="1339" cy="3335" r="10.6"/><circle cx="1340.2" cy="3334.8" r="10.6"/><circle cx="1341.4" cy="3334.8" r="10.6"/><circle cx="1342.5" cy="3335.1" r="10.6"/><circle cx="1343.7" cy="3335" r="10.6"/><circle cx="1344.9" cy="3335.2" r="10.6"/><circle cx="1346" cy="3334.7" r="10.6"/><circle cx="1347.2" cy="3334.9" r="10.6"/><circle cx="1348.4" cy="3334.8" r="10.6"/><circle cx="1349.6" cy="3335.1" r="10.6"/><circle cx="1350.7" cy="3335.4" r="10.6"/><circle cx="1351.9" cy="3334.8" r="10.6"/><circle cx="1353.1" cy="3335" r="10.6"/><circle cx="1354.2" cy="3335" r="10.6"/><circle cx="1355.4" cy="3335" r="10.6"/><circle cx="1356.6" cy="3334.9" r="10.6"/><circle cx="1357.7" cy="3334.9" r="10.6"/><circle cx="1358.9" cy="3335.3" r="10.6"/><circle cx="1360.1" cy="3334.8" r="10.6"/><circle cx="1361.3" cy="3335.1" r="10.6"/><circle cx="1362.4" cy="3335.1" r="10.6"/><circle cx="1363.6" cy="3334.7" r="10.6"/><circle cx="1364.8" cy="3334.9" r="10.6"/><circle cx="1365.9" cy="3335.1" r="10.6"/><circle cx="1367.1" cy="3335.3" r="10.6"/><circle cx="1368.3" cy="3335" r="10.6"/><circle cx="1369.4" cy="3334.9" r="10.6"/><circle cx="1370.6" cy="3335" r="10.6"/><circle cx="1371.8" cy="3335.2" r="10.6"/><circle cx="1373" cy="3335.1" r="10.6"/><circle cx="1374.1" cy="3335.2" r="10.6"/><circle cx="1375.3" cy="3335" r="10.6"/><circle cx="1376.5" cy="3334.9" r="10.6"/><circle cx="1377.6" cy="3334.8" r="10.6"/><circle cx="1378.8" cy="3335.1" r="10.6"/><circle cx="1380" cy="3335" r="10.6"/><circle cx="1381.1" cy="3334.9" r="10.6"/><circle cx="1382.3" cy="3335.1" r="10.6"/><circle cx="1383.5" cy="3335" r="10.6"/><circle cx="1384.7" cy="3334.7" r="10.6"/><circle cx="1385.8" cy="3335" r="10.6"/><circle cx="1387" cy="3334.9" r="10.6"/><circle cx="1388.2" cy="3335.1" r="10.6"/><circle cx="1389.3" cy="3335" r="10.6"/><circle cx="1390.5" cy="3335.3" r="10.6"/><circle cx="1391.7" cy="3335" r="10.6"/><circle cx="1392.9" cy="3334.8" r="10.6"/><circle cx="1394" cy="3334.7" r="10.6"/><circle cx="1395.2" cy="3334.8" r="10.6"/><circle cx="1396.4" cy="3334.9" r="10.6"/><circle cx="1397.5" cy="3335" r="10.6"/><circle cx="1398.7" cy="3335.1" r="10.6"/><circle cx="1399.9" cy="3335" r="10.6"/><circle cx="1401" cy="3334.9" r="10.6"/><circle cx="1402.2" cy="3335.1" r="10.6"/><circle cx="1403.4" cy="3334.9" r="10.6"/><circle cx="1404.6" cy="3335.2" r="10.6"/><circle cx="1405.7" cy="3335.3" r="10.6"/><circle cx="1406.9" cy="3335.2" r="10.6"/><circle cx="1408.1" cy="3335.3" r="10.6"/><circle cx="1409.2" cy="3335.2" r="10.6"/><circle cx="1410.4" cy="3334.8" r="10.6"/><circle cx="1411.6" cy="3335" r="10.6"/><circle cx="1412.7" cy="3335" r="10.6"/><circle cx="1413.9" cy="3334.8" r="10.6"/><circle cx="1415.1" cy="3334.8" r="10.6"/><circle cx="1416.3" cy="3335.1" r="10.6"/><circle cx="1417.4" cy="3334.8" r="10.6"/><circle cx="1418.6" cy="3335" r="10.6"/><circle cx="1419.8" cy="3335" r="10.6"/><circle cx="1420.9" cy="3334.9" r="10.6"/><circle cx="1422.1" cy="3335.3" r="10.6"/><circle cx="1423.3" cy="3335.1" r="10.6"/><circle cx="1424.4" cy="3335" r="10.6"/><circle cx="1425.6" cy="3334.9" r="10.6"/><circle cx="1426.8" cy="3335.1" r="10.6"/><circle cx="1428" cy="3335" r="10.6"/><circle cx="1429.1" cy="3334.9" r="10.6"/><circle cx="1430.3" cy="3334.8" r="10.6"/><circle cx="1431.5" cy="3334.9" r="10.6"/><circle cx="1432.6" cy="3334.8" r="10.6"/><circle cx="1433.8" cy="3335.1" r="10.6"/><circle cx="1435" cy="3335.1" r="10.6"/><circle cx="1436.1" cy="3335" r="10.6"/><circle cx="1437.3" cy="3335.1" r="10.6"/><circle cx="1438.5" cy="3335.1" r="10.6"/><circle cx="1439.7" cy="3334.7" r="10.6"/><circle cx="1440.8" cy="3335" r="10.6"/><circle cx="1442" cy="3335.2" r="10.6"/><circle cx="1443.2" cy="3334.9" r="10.6"/><circle cx="1444.3" cy="3334.7" r="10.6"/><circle cx="1445.5" cy="3335" r="10.6"/><circle cx="1446.7" cy="3334.8" r="10.6"/><circle cx="1447.8" cy="3335.1" r="10.6"/><circle cx="1449" cy="3335.1" r="10.6"/><circle cx="1450.2" cy="3335.1" r="10.6"/><circle cx="1451.4" cy="3335" r="10.6"/><circle cx="1452.5" cy="3334.7" r="10.6"/><circle cx="1453.7" cy="3335.2" r="10.6"/><circle cx="1454.9" cy="3334.7" r="10.6"/><circle cx="1456" cy="3335.2" r="10.6"/><circle cx="1457.2" cy="3335.1" r="10.6"/><circle cx="1458.4" cy="3334.9" r="10.6"/><circle cx="1459.6" cy="3334.9" r="10.6"/><circle cx="1460.7" cy="3335" r="10.6"/><circle cx="1461.9" cy="3335.3" r="10.6"/><circle cx="1463.1" cy="3335" r="10.6"/><circle cx="1464.2" cy="3335.2" r="10.6"/><circle cx="1465.4" cy="3334.6" r="10.6"/><circle cx="1466.6" cy="3335.1" r="10.6"/><circle cx="1467.7" cy="3335" r="10.6"/><circle cx="1468.9" cy="3335.2" r="10.6"/><circle cx="1470.1" cy="3335.1" r="10.6"/><circle cx="1471.3" cy="3335.2" r="10.6"/><circle cx="1472.4" cy="3334.9" r="10.6"/><circle cx="1473.6" cy="3335.1" r="10.6"/><circle cx="1474.8" cy="3334.9" r="10.6"/><circle cx="1475.9" cy="3335.1" r="10.6"/><circle cx="1477.1" cy="3335.1" r="10.6"/><circle cx="1478.3" cy="3334.8" r="10.6"/><circle cx="1479.4" cy="3335.2" r="10.6"/><circle cx="1480.6" cy="3335.3" r="10.6"/><circle cx="1481.8" cy="3334.9" r="10.6"/><circle cx="1483" cy="3335.2" r="10.6"/><circle cx="1484.1" cy="3335.1" r="10.6"/><circle cx="1485.3" cy="3334.9" r="10.6"/><circle cx="1486.5" cy="3335.2" r="10.6"/><circle cx="1487.6" cy="3334.9" r="10.6"/><circle cx="1488.8" cy="3335.1" r="10.6"/><circle cx="1490" cy="3334.8" r="10.6"/><circle cx="1491.1" cy="3334.8" r="10.6"/><circle cx="1492.3" cy="3335.1" r="10.6"/><circle cx="1493.5" cy="3335.1" r="10.6"/><circle cx="1494.7" cy="3335.2" r="10.6"/><circle cx="1495.8" cy="3335" r="10.6"/><circle cx="1497" cy="3334.8" r="10.6"/><circle cx="1498.2" cy="3335.3" r="10.6"/><circle cx="1499.3" cy="3334.9" r="10.6"/><circle cx="1500.5" cy="3335.2" r="10.6"/><circle cx="1501.7" cy="3335.2" r="10.6"/><circle cx="1502.8" cy="3335.3" r="10.6"/><circle cx="1504" cy="3334.7" r="10.6"/><circle cx="1505.2" cy="3335" r="10.6"/><circle cx="1506.4" cy="3335" r="10.6"/><circle cx="1507.5" cy="3335.1" r="10.6"/><circle cx="1508.7" cy="3334.8" r="10.6"/><circle cx="1509.9" cy="3335.4" r="10.6"/><circle cx="1511" cy="3335" r="10.6"/><circle cx="1512.2" cy="3334.7" r="10.6"/><circle cx="1513.4" cy="3335.1" r="10.6"/><circle cx="1514.6" cy="3335" r="10.6"/><circle cx="1515.7" cy="3334.9" r="10.6"/><circle cx="1516.9" cy="3335.2" r="10.6"/><circle cx="1518.1" cy="3335" r="10.6"/><circle cx="1519.2" cy="3334.9" r="10.6"/><circle cx="1520.4" cy="3335" r="10.6"/><circle cx="1521.6" cy="3335" r="10.6"/><circle cx="1522.7" cy="3335.1" r="10.6"/>
</g>
<g class="rd" clip-path="url(#cC)" fill="#fff" stroke-width="1.55">
<circle cx="338.5" cy="2480.7" r="10.6"/><circle cx="340.8" cy="2482.9" r="10.6"/><circle cx="343.2" cy="2480.1" r="10.6"/><circle cx="345.5" cy="2485.7" r="10.6"/><circle cx="347.9" cy="2492.6" r="10.6"/><circle cx="350.2" cy="2504.9" r="10.6"/><circle cx="352.5" cy="2497.5" r="10.6"/><circle cx="354.9" cy="2502.8" r="10.6"/><circle cx="357.2" cy="2515.3" r="10.6"/><circle cx="359.6" cy="2526.2" r="10.6"/><circle cx="361.9" cy="2530.3" r="10.6"/><circle cx="364.2" cy="2530.2" r="10.6"/><circle cx="366.6" cy="2545.5" r="10.6"/><circle cx="368.9" cy="2551.2" r="10.6"/><circle cx="371.3" cy="2556.7" r="10.6"/><circle cx="373.6" cy="2561.1" r="10.6"/><circle cx="375.9" cy="2573.7" r="10.6"/><circle cx="378.3" cy="2582" r="10.6"/><circle cx="380.6" cy="2591.7" r="10.6"/><circle cx="383" cy="2591.9" r="10.6"/><circle cx="385.3" cy="2601.9" r="10.6"/><circle cx="387.6" cy="2613.9" r="10.6"/><circle cx="390" cy="2626.2" r="10.6"/><circle cx="392.3" cy="2631.8" r="10.6"/><circle cx="394.7" cy="2634.6" r="10.6"/><circle cx="397" cy="2646.6" r="10.6"/><circle cx="399.4" cy="2648.4" r="10.6"/><circle cx="401.7" cy="2657.6" r="10.6"/><circle cx="404" cy="2665.2" r="10.6"/><circle cx="406.4" cy="2671.5" r="10.6"/><circle cx="408.7" cy="2679.7" r="10.6"/><circle cx="411.1" cy="2692.1" r="10.6"/><circle cx="413.4" cy="2698.2" r="10.6"/><circle cx="415.7" cy="2697.4" r="10.6"/><circle cx="418.1" cy="2717.1" r="10.6"/><circle cx="420.4" cy="2722.5" r="10.6"/><circle cx="422.8" cy="2725.2" r="10.6"/><circle cx="425.1" cy="2736.7" r="10.6"/><circle cx="427.4" cy="2746.1" r="10.6"/><circle cx="429.8" cy="2754.8" r="10.6"/><circle cx="432.1" cy="2755.8" r="10.6"/><circle cx="434.5" cy="2761" r="10.6"/><circle cx="436.8" cy="2766.4" r="10.6"/><circle cx="439.1" cy="2777.1" r="10.6"/><circle cx="441.5" cy="2780.4" r="10.6"/><circle cx="443.8" cy="2793.1" r="10.6"/><circle cx="446.2" cy="2795.7" r="10.6"/><circle cx="448.5" cy="2804.5" r="10.6"/><circle cx="450.8" cy="2808" r="10.6"/><circle cx="453.2" cy="2812.5" r="10.6"/><circle cx="455.5" cy="2817.7" r="10.6"/><circle cx="457.9" cy="2830.1" r="10.6"/><circle cx="460.2" cy="2829.9" r="10.6"/><circle cx="462.5" cy="2841.7" r="10.6"/><circle cx="464.9" cy="2850.2" r="10.6"/><circle cx="467.2" cy="2854.9" r="10.6"/><circle cx="469.6" cy="2865.8" r="10.6"/><circle cx="471.9" cy="2868.9" r="10.6"/><circle cx="474.2" cy="2875.3" r="10.6"/><circle cx="476.6" cy="2883.6" r="10.6"/><circle cx="478.9" cy="2887.9" r="10.6"/><circle cx="481.3" cy="2896.1" r="10.6"/><circle cx="483.6" cy="2900.4" r="10.6"/><circle cx="485.9" cy="2909" r="10.6"/><circle cx="488.3" cy="2909" r="10.6"/><circle cx="490.6" cy="2915.3" r="10.6"/><circle cx="493" cy="2918" r="10.6"/><circle cx="495.3" cy="2921.2" r="10.6"/><circle cx="497.6" cy="2925.1" r="10.6"/><circle cx="500" cy="2935.3" r="10.6"/><circle cx="502.3" cy="2940.9" r="10.6"/><circle cx="504.7" cy="2943.8" r="10.6"/><circle cx="507" cy="2947.9" r="10.6"/><circle cx="509.3" cy="2954.3" r="10.6"/><circle cx="511.7" cy="2958.6" r="10.6"/><circle cx="514" cy="2963" r="10.6"/><circle cx="516.4" cy="2970.2" r="10.6"/><circle cx="518.7" cy="2976.6" r="10.6"/><circle cx="521.1" cy="2984.2" r="10.6"/><circle cx="523.4" cy="2989.2" r="10.6"/><circle cx="525.7" cy="2993.1" r="10.6"/><circle cx="528.1" cy="2996.3" r="10.6"/><circle cx="530.4" cy="3001.1" r="10.6"/><circle cx="532.8" cy="3006" r="10.6"/><circle cx="535.1" cy="3010.4" r="10.6"/><circle cx="537.4" cy="3012.2" r="10.6"/><circle cx="539.8" cy="3016.7" r="10.6"/><circle cx="542.1" cy="3019.9" r="10.6"/><circle cx="544.5" cy="3023.2" r="10.6"/><circle cx="546.8" cy="3028.6" r="10.6"/><circle cx="549.1" cy="3033.1" r="10.6"/><circle cx="551.5" cy="3033" r="10.6"/><circle cx="553.8" cy="3036.6" r="10.6"/><circle cx="556.2" cy="3041.4" r="10.6"/><circle cx="558.5" cy="3045.3" r="10.6"/><circle cx="560.8" cy="3042.7" r="10.6"/><circle cx="563.2" cy="3052.9" r="10.6"/><circle cx="565.5" cy="3055.1" r="10.6"/><circle cx="567.9" cy="3057.3" r="10.6"/><circle cx="570.2" cy="3063.7" r="10.6"/><circle cx="572.5" cy="3064.1" r="10.6"/><circle cx="574.9" cy="3063.6" r="10.6"/><circle cx="577.2" cy="3068.5" r="10.6"/><circle cx="579.6" cy="3072.1" r="10.6"/><circle cx="581.9" cy="3075" r="10.6"/><circle cx="584.2" cy="3078.8" r="10.6"/><circle cx="586.6" cy="3079.7" r="10.6"/><circle cx="588.9" cy="3084.7" r="10.6"/><circle cx="591.3" cy="3087.9" r="10.6"/><circle cx="593.6" cy="3089.3" r="10.6"/><circle cx="595.9" cy="3090.2" r="10.6"/><circle cx="598.3" cy="3094" r="10.6"/><circle cx="600.6" cy="3095.9" r="10.6"/><circle cx="603" cy="3104" r="10.6"/><circle cx="605.3" cy="3100.2" r="10.6"/><circle cx="607.6" cy="3100.8" r="10.6"/><circle cx="610" cy="3105.8" r="10.6"/><circle cx="612.3" cy="3112.3" r="10.6"/><circle cx="614.7" cy="3116.6" r="10.6"/><circle cx="617" cy="3117.7" r="10.6"/><circle cx="619.3" cy="3123.6" r="10.6"/><circle cx="621.7" cy="3123.7" r="10.6"/><circle cx="624" cy="3129.4" r="10.6"/><circle cx="626.4" cy="3129.9" r="10.6"/><circle cx="628.7" cy="3132.3" r="10.6"/><circle cx="631" cy="3141.7" r="10.6"/><circle cx="633.4" cy="3140.3" r="10.6"/><circle cx="635.7" cy="3144.8" r="10.6"/><circle cx="638.1" cy="3148.6" r="10.6"/><circle cx="640.4" cy="3149.4" r="10.6"/><circle cx="642.8" cy="3150.8" r="10.6"/><circle cx="645.1" cy="3150.5" r="10.6"/><circle cx="647.4" cy="3156.9" r="10.6"/><circle cx="649.8" cy="3154.1" r="10.6"/><circle cx="652.1" cy="3154.3" r="10.6"/><circle cx="654.5" cy="3158.8" r="10.6"/><circle cx="656.8" cy="3161" r="10.6"/><circle cx="659.1" cy="3164.4" r="10.6"/><circle cx="661.5" cy="3168.8" r="10.6"/><circle cx="663.8" cy="3168.5" r="10.6"/><circle cx="666.2" cy="3171.3" r="10.6"/><circle cx="668.5" cy="3173.2" r="10.6"/><circle cx="670.8" cy="3172.6" r="10.6"/><circle cx="673.2" cy="3178" r="10.6"/><circle cx="675.5" cy="3180.6" r="10.6"/><circle cx="677.9" cy="3180.7" r="10.6"/><circle cx="680.2" cy="3187.3" r="10.6"/><circle cx="682.5" cy="3188.8" r="10.6"/><circle cx="684.9" cy="3189.3" r="10.6"/><circle cx="687.2" cy="3191.4" r="10.6"/><circle cx="689.6" cy="3190.9" r="10.6"/><circle cx="691.9" cy="3194.1" r="10.6"/><circle cx="694.2" cy="3192.5" r="10.6"/><circle cx="696.6" cy="3194.4" r="10.6"/><circle cx="698.9" cy="3197.2" r="10.6"/><circle cx="701.3" cy="3200.5" r="10.6"/><circle cx="703.6" cy="3200.4" r="10.6"/><circle cx="705.9" cy="3201.6" r="10.6"/><circle cx="708.3" cy="3205.8" r="10.6"/><circle cx="710.6" cy="3205" r="10.6"/><circle cx="713" cy="3205.8" r="10.6"/><circle cx="715.3" cy="3207.7" r="10.6"/><circle cx="717.6" cy="3206.9" r="10.6"/><circle cx="720" cy="3208.7" r="10.6"/><circle cx="722.3" cy="3212.9" r="10.6"/><circle cx="724.7" cy="3212.8" r="10.6"/><circle cx="727" cy="3215.5" r="10.6"/><circle cx="729.3" cy="3214.8" r="10.6"/><circle cx="731.7" cy="3218.4" r="10.6"/><circle cx="734" cy="3217.3" r="10.6"/><circle cx="736.4" cy="3219.6" r="10.6"/><circle cx="738.7" cy="3220.3" r="10.6"/><circle cx="741" cy="3223.5" r="10.6"/><circle cx="743.4" cy="3226.8" r="10.6"/><circle cx="745.7" cy="3223.9" r="10.6"/><circle cx="748.1" cy="3228.1" r="10.6"/><circle cx="750.4" cy="3227.4" r="10.6"/><circle cx="752.8" cy="3230.2" r="10.6"/><circle cx="755.1" cy="3231.3" r="10.6"/><circle cx="757.4" cy="3231.1" r="10.6"/><circle cx="759.8" cy="3234.5" r="10.6"/><circle cx="762.1" cy="3234.5" r="10.6"/><circle cx="764.5" cy="3239.6" r="10.6"/><circle cx="766.8" cy="3237.9" r="10.6"/><circle cx="769.1" cy="3240.6" r="10.6"/><circle cx="771.5" cy="3241.7" r="10.6"/><circle cx="773.8" cy="3242.7" r="10.6"/><circle cx="776.2" cy="3243.4" r="10.6"/><circle cx="778.5" cy="3242.8" r="10.6"/><circle cx="780.8" cy="3248.2" r="10.6"/><circle cx="783.2" cy="3246.8" r="10.6"/><circle cx="785.5" cy="3248.7" r="10.6"/><circle cx="787.9" cy="3247.3" r="10.6"/><circle cx="790.2" cy="3250.1" r="10.6"/><circle cx="792.5" cy="3250" r="10.6"/><circle cx="794.9" cy="3251.9" r="10.6"/><circle cx="797.2" cy="3251.5" r="10.6"/><circle cx="799.6" cy="3251.9" r="10.6"/><circle cx="801.9" cy="3254.5" r="10.6"/><circle cx="804.2" cy="3254.8" r="10.6"/><circle cx="806.6" cy="3257.4" r="10.6"/><circle cx="808.9" cy="3256.2" r="10.6"/><circle cx="811.3" cy="3256.4" r="10.6"/><circle cx="813.6" cy="3258.9" r="10.6"/><circle cx="815.9" cy="3257.8" r="10.6"/><circle cx="818.3" cy="3262.3" r="10.6"/><circle cx="820.6" cy="3262.9" r="10.6"/><circle cx="823" cy="3263.1" r="10.6"/><circle cx="825.3" cy="3262.9" r="10.6"/><circle cx="827.6" cy="3263.1" r="10.6"/><circle cx="830" cy="3264.1" r="10.6"/><circle cx="832.3" cy="3264.8" r="10.6"/><circle cx="834.7" cy="3264.8" r="10.6"/><circle cx="837" cy="3266.9" r="10.6"/><circle cx="839.3" cy="3268.5" r="10.6"/><circle cx="841.7" cy="3269.3" r="10.6"/><circle cx="844" cy="3266.4" r="10.6"/><circle cx="846.4" cy="3271.9" r="10.6"/><circle cx="848.7" cy="3270.4" r="10.6"/><circle cx="851" cy="3269.3" r="10.6"/><circle cx="853.4" cy="3271.1" r="10.6"/><circle cx="855.7" cy="3273.2" r="10.6"/><circle cx="858.1" cy="3273.1" r="10.6"/><circle cx="860.4" cy="3272.9" r="10.6"/><circle cx="862.7" cy="3273.2" r="10.6"/><circle cx="865.1" cy="3276.1" r="10.6"/><circle cx="867.4" cy="3275.1" r="10.6"/><circle cx="869.8" cy="3276.3" r="10.6"/><circle cx="872.1" cy="3276.1" r="10.6"/><circle cx="874.5" cy="3276.4" r="10.6"/><circle cx="876.8" cy="3278.8" r="10.6"/><circle cx="879.1" cy="3280.6" r="10.6"/><circle cx="881.5" cy="3279.3" r="10.6"/><circle cx="883.8" cy="3278.6" r="10.6"/><circle cx="886.2" cy="3280.3" r="10.6"/><circle cx="888.5" cy="3281.3" r="10.6"/><circle cx="890.8" cy="3279.8" r="10.6"/><circle cx="893.2" cy="3283.7" r="10.6"/><circle cx="895.5" cy="3282.4" r="10.6"/><circle cx="897.9" cy="3284.4" r="10.6"/><circle cx="900.2" cy="3284.4" r="10.6"/><circle cx="902.5" cy="3284.9" r="10.6"/><circle cx="904.9" cy="3284.1" r="10.6"/><circle cx="907.2" cy="3286.9" r="10.6"/><circle cx="909.6" cy="3287.1" r="10.6"/><circle cx="911.9" cy="3288.6" r="10.6"/><circle cx="914.2" cy="3287.2" r="10.6"/><circle cx="916.6" cy="3288.6" r="10.6"/><circle cx="918.9" cy="3288.3" r="10.6"/><circle cx="921.3" cy="3290.1" r="10.6"/><circle cx="923.6" cy="3290" r="10.6"/><circle cx="925.9" cy="3289.2" r="10.6"/><circle cx="928.3" cy="3290.8" r="10.6"/><circle cx="930.6" cy="3290.5" r="10.6"/><circle cx="933" cy="3291.1" r="10.6"/><circle cx="935.3" cy="3292.3" r="10.6"/><circle cx="937.6" cy="3293.9" r="10.6"/><circle cx="940" cy="3292.1" r="10.6"/><circle cx="942.3" cy="3293.3" r="10.6"/><circle cx="944.7" cy="3293" r="10.6"/><circle cx="947" cy="3296" r="10.6"/><circle cx="949.3" cy="3296.1" r="10.6"/><circle cx="951.7" cy="3297" r="10.6"/><circle cx="954" cy="3296.3" r="10.6"/><circle cx="956.4" cy="3295.1" r="10.6"/><circle cx="958.7" cy="3296" r="10.6"/><circle cx="961" cy="3296.9" r="10.6"/><circle cx="963.4" cy="3297.1" r="10.6"/><circle cx="965.7" cy="3297" r="10.6"/><circle cx="968.1" cy="3298.3" r="10.6"/><circle cx="970.4" cy="3298.1" r="10.6"/><circle cx="972.7" cy="3298.7" r="10.6"/><circle cx="975.1" cy="3301" r="10.6"/><circle cx="977.4" cy="3299.9" r="10.6"/><circle cx="979.8" cy="3298.9" r="10.6"/><circle cx="982.1" cy="3300.7" r="10.6"/><circle cx="984.5" cy="3300.9" r="10.6"/><circle cx="986.8" cy="3301.6" r="10.6"/><circle cx="989.1" cy="3301.9" r="10.6"/><circle cx="991.5" cy="3301" r="10.6"/><circle cx="993.8" cy="3302.4" r="10.6"/><circle cx="996.2" cy="3303.3" r="10.6"/><circle cx="998.5" cy="3305.3" r="10.6"/><circle cx="1000.8" cy="3303.7" r="10.6"/><circle cx="1003.2" cy="3305.1" r="10.6"/><circle cx="1005.5" cy="3305.3" r="10.6"/><circle cx="1007.9" cy="3303.7" r="10.6"/><circle cx="1010.2" cy="3304.1" r="10.6"/><circle cx="1012.5" cy="3306.3" r="10.6"/><circle cx="1014.9" cy="3304.6" r="10.6"/><circle cx="1017.2" cy="3305.2" r="10.6"/><circle cx="1019.6" cy="3306.5" r="10.6"/><circle cx="1021.9" cy="3305.7" r="10.6"/><circle cx="1024.2" cy="3307.7" r="10.6"/><circle cx="1026.6" cy="3307.7" r="10.6"/><circle cx="1028.9" cy="3308.2" r="10.6"/><circle cx="1031.3" cy="3308.2" r="10.6"/><circle cx="1033.6" cy="3307.1" r="10.6"/><circle cx="1035.9" cy="3309" r="10.6"/><circle cx="1038.3" cy="3309.1" r="10.6"/><circle cx="1040.6" cy="3309.3" r="10.6"/><circle cx="1043" cy="3308.8" r="10.6"/><circle cx="1045.3" cy="3309.4" r="10.6"/><circle cx="1047.6" cy="3308.9" r="10.6"/><circle cx="1050" cy="3310.2" r="10.6"/><circle cx="1052.3" cy="3310.9" r="10.6"/><circle cx="1054.7" cy="3310.6" r="10.6"/><circle cx="1057" cy="3310.5" r="10.6"/><circle cx="1059.3" cy="3311.5" r="10.6"/><circle cx="1061.7" cy="3310.9" r="10.6"/><circle cx="1064" cy="3310.2" r="10.6"/><circle cx="1066.4" cy="3312" r="10.6"/><circle cx="1068.7" cy="3311.8" r="10.6"/><circle cx="1071" cy="3311.2" r="10.6"/><circle cx="1073.4" cy="3312.7" r="10.6"/><circle cx="1075.7" cy="3313.1" r="10.6"/><circle cx="1078.1" cy="3313.4" r="10.6"/><circle cx="1080.4" cy="3312.7" r="10.6"/><circle cx="1082.7" cy="3312.8" r="10.6"/><circle cx="1085.1" cy="3313.4" r="10.6"/><circle cx="1087.4" cy="3313.5" r="10.6"/><circle cx="1089.8" cy="3312.9" r="10.6"/><circle cx="1092.1" cy="3313.4" r="10.6"/><circle cx="1094.4" cy="3315" r="10.6"/><circle cx="1096.8" cy="3314.3" r="10.6"/><circle cx="1099.1" cy="3314.4" r="10.6"/><circle cx="1101.5" cy="3314.3" r="10.6"/><circle cx="1103.8" cy="3315" r="10.6"/><circle cx="1106.2" cy="3315.5" r="10.6"/><circle cx="1108.5" cy="3315.5" r="10.6"/><circle cx="1110.8" cy="3316.5" r="10.6"/><circle cx="1113.2" cy="3315.6" r="10.6"/><circle cx="1115.5" cy="3316.2" r="10.6"/><circle cx="1117.9" cy="3315.7" r="10.6"/><circle cx="1120.2" cy="3316.8" r="10.6"/><circle cx="1122.5" cy="3316.6" r="10.6"/><circle cx="1124.9" cy="3317.1" r="10.6"/><circle cx="1127.2" cy="3317.3" r="10.6"/><circle cx="1129.6" cy="3316.4" r="10.6"/><circle cx="1131.9" cy="3317.3" r="10.6"/><circle cx="1134.2" cy="3316.9" r="10.6"/><circle cx="1136.6" cy="3318" r="10.6"/><circle cx="1138.9" cy="3317.4" r="10.6"/><circle cx="1141.3" cy="3318.6" r="10.6"/><circle cx="1143.6" cy="3318.1" r="10.6"/><circle cx="1145.9" cy="3318.3" r="10.6"/><circle cx="1148.3" cy="3317.8" r="10.6"/><circle cx="1150.6" cy="3318.2" r="10.6"/><circle cx="1153" cy="3318.6" r="10.6"/><circle cx="1155.3" cy="3318.2" r="10.6"/><circle cx="1157.6" cy="3318.7" r="10.6"/><circle cx="1160" cy="3318.7" r="10.6"/><circle cx="1162.3" cy="3318.7" r="10.6"/><circle cx="1164.7" cy="3319.4" r="10.6"/><circle cx="1167" cy="3319.6" r="10.6"/><circle cx="1169.3" cy="3319.5" r="10.6"/><circle cx="1171.7" cy="3320" r="10.6"/><circle cx="1174" cy="3319.8" r="10.6"/><circle cx="1176.4" cy="3319.5" r="10.6"/><circle cx="1178.7" cy="3319.8" r="10.6"/><circle cx="1181" cy="3320.6" r="10.6"/><circle cx="1183.4" cy="3321.2" r="10.6"/><circle cx="1185.7" cy="3320.8" r="10.6"/><circle cx="1188.1" cy="3320.9" r="10.6"/><circle cx="1190.4" cy="3320.5" r="10.6"/><circle cx="1192.7" cy="3321.4" r="10.6"/><circle cx="1195.1" cy="3321.4" r="10.6"/><circle cx="1197.4" cy="3321.1" r="10.6"/><circle cx="1199.8" cy="3321.8" r="10.6"/><circle cx="1202.1" cy="3321.8" r="10.6"/><circle cx="1204.4" cy="3321" r="10.6"/><circle cx="1206.8" cy="3321.3" r="10.6"/><circle cx="1209.1" cy="3321.8" r="10.6"/><circle cx="1211.5" cy="3322.1" r="10.6"/><circle cx="1213.8" cy="3322.9" r="10.6"/><circle cx="1216.2" cy="3322.2" r="10.6"/><circle cx="1218.5" cy="3322.6" r="10.6"/><circle cx="1220.8" cy="3322.6" r="10.6"/><circle cx="1223.2" cy="3323" r="10.6"/><circle cx="1225.5" cy="3322.9" r="10.6"/><circle cx="1227.9" cy="3323" r="10.6"/><circle cx="1230.2" cy="3322.9" r="10.6"/><circle cx="1232.5" cy="3322.4" r="10.6"/><circle cx="1234.9" cy="3323" r="10.6"/><circle cx="1237.2" cy="3324" r="10.6"/><circle cx="1239.6" cy="3323.8" r="10.6"/><circle cx="1241.9" cy="3324.2" r="10.6"/><circle cx="1244.2" cy="3323.9" r="10.6"/><circle cx="1246.6" cy="3323.3" r="10.6"/><circle cx="1248.9" cy="3323.4" r="10.6"/><circle cx="1251.3" cy="3324" r="10.6"/><circle cx="1253.6" cy="3323.7" r="10.6"/><circle cx="1255.9" cy="3324.2" r="10.6"/><circle cx="1258.3" cy="3324.6" r="10.6"/><circle cx="1260.6" cy="3324.7" r="10.6"/><circle cx="1263" cy="3324.5" r="10.6"/><circle cx="1265.3" cy="3323.5" r="10.6"/><circle cx="1267.6" cy="3324.8" r="10.6"/><circle cx="1270" cy="3323.7" r="10.6"/><circle cx="1272.3" cy="3323.8" r="10.6"/><circle cx="1274.7" cy="3324.5" r="10.6"/><circle cx="1277" cy="3324.5" r="10.6"/><circle cx="1279.3" cy="3324.8" r="10.6"/><circle cx="1281.7" cy="3324.6" r="10.6"/><circle cx="1284" cy="3324.4" r="10.6"/><circle cx="1286.4" cy="3324.8" r="10.6"/><circle cx="1288.7" cy="3324.4" r="10.6"/><circle cx="1291" cy="3324.4" r="10.6"/><circle cx="1293.4" cy="3324.8" r="10.6"/><circle cx="1295.7" cy="3324.9" r="10.6"/><circle cx="1298.1" cy="3325.1" r="10.6"/><circle cx="1300.4" cy="3325" r="10.6"/><circle cx="1302.7" cy="3325.7" r="10.6"/><circle cx="1305.1" cy="3325.1" r="10.6"/><circle cx="1307.4" cy="3325.3" r="10.6"/><circle cx="1309.8" cy="3325.8" r="10.6"/><circle cx="1312.1" cy="3324.6" r="10.6"/><circle cx="1314.4" cy="3326" r="10.6"/><circle cx="1316.8" cy="3326" r="10.6"/><circle cx="1319.1" cy="3325.6" r="10.6"/><circle cx="1321.5" cy="3326.6" r="10.6"/><circle cx="1323.8" cy="3326.1" r="10.6"/><circle cx="1326.1" cy="3326.5" r="10.6"/><circle cx="1328.5" cy="3326.3" r="10.6"/><circle cx="1330.8" cy="3326.1" r="10.6"/><circle cx="1333.2" cy="3325.9" r="10.6"/><circle cx="1335.5" cy="3325.7" r="10.6"/><circle cx="1337.9" cy="3325.9" r="10.6"/><circle cx="1340.2" cy="3325.8" r="10.6"/><circle cx="1342.5" cy="3326.1" r="10.6"/><circle cx="1344.9" cy="3326.6" r="10.6"/><circle cx="1347.2" cy="3326" r="10.6"/><circle cx="1349.6" cy="3326.7" r="10.6"/><circle cx="1351.9" cy="3326.9" r="10.6"/><circle cx="1354.2" cy="3326" r="10.6"/><circle cx="1356.6" cy="3326.4" r="10.6"/><circle cx="1358.9" cy="3326.7" r="10.6"/><circle cx="1361.3" cy="3326.6" r="10.6"/><circle cx="1363.6" cy="3326.6" r="10.6"/><circle cx="1365.9" cy="3327.5" r="10.6"/><circle cx="1368.3" cy="3327.1" r="10.6"/><circle cx="1370.6" cy="3327.6" r="10.6"/><circle cx="1373" cy="3327.1" r="10.6"/><circle cx="1375.3" cy="3327.5" r="10.6"/><circle cx="1377.6" cy="3326.8" r="10.6"/><circle cx="1380" cy="3327.2" r="10.6"/><circle cx="1382.3" cy="3327.8" r="10.6"/><circle cx="1384.7" cy="3327.5" r="10.6"/><circle cx="1387" cy="3328" r="10.6"/><circle cx="1389.3" cy="3327.6" r="10.6"/><circle cx="1391.7" cy="3327.5" r="10.6"/><circle cx="1394" cy="3327.6" r="10.6"/><circle cx="1396.4" cy="3328.5" r="10.6"/><circle cx="1398.7" cy="3328" r="10.6"/><circle cx="1401" cy="3327.7" r="10.6"/><circle cx="1403.4" cy="3327.9" r="10.6"/><circle cx="1405.7" cy="3327.6" r="10.6"/><circle cx="1408.1" cy="3328.6" r="10.6"/><circle cx="1410.4" cy="3327.9" r="10.6"/><circle cx="1412.7" cy="3328.4" r="10.6"/><circle cx="1415.1" cy="3328.2" r="10.6"/><circle cx="1417.4" cy="3328.2" r="10.6"/><circle cx="1419.8" cy="3328.1" r="10.6"/><circle cx="1422.1" cy="3328.6" r="10.6"/><circle cx="1424.4" cy="3328.4" r="10.6"/><circle cx="1426.8" cy="3329" r="10.6"/><circle cx="1429.1" cy="3329.1" r="10.6"/><circle cx="1431.5" cy="3328.4" r="10.6"/><circle cx="1433.8" cy="3328.7" r="10.6"/><circle cx="1436.1" cy="3329.3" r="10.6"/><circle cx="1438.5" cy="3329.1" r="10.6"/><circle cx="1440.8" cy="3328.8" r="10.6"/><circle cx="1443.2" cy="3328.4" r="10.6"/><circle cx="1445.5" cy="3328.6" r="10.6"/><circle cx="1447.8" cy="3328.8" r="10.6"/><circle cx="1450.2" cy="3329.7" r="10.6"/><circle cx="1452.5" cy="3329.2" r="10.6"/><circle cx="1454.9" cy="3329.1" r="10.6"/><circle cx="1457.2" cy="3329.2" r="10.6"/><circle cx="1459.6" cy="3329.3" r="10.6"/><circle cx="1461.9" cy="3329.6" r="10.6"/><circle cx="1464.2" cy="3329" r="10.6"/><circle cx="1466.6" cy="3329.2" r="10.6"/><circle cx="1468.9" cy="3329.8" r="10.6"/><circle cx="1471.3" cy="3330.2" r="10.6"/><circle cx="1473.6" cy="3329.3" r="10.6"/><circle cx="1475.9" cy="3330.3" r="10.6"/><circle cx="1478.3" cy="3329.8" r="10.6"/><circle cx="1480.6" cy="3329.6" r="10.6"/><circle cx="1483" cy="3330.6" r="10.6"/><circle cx="1485.3" cy="3330.3" r="10.6"/><circle cx="1487.6" cy="3330.6" r="10.6"/><circle cx="1490" cy="3330.4" r="10.6"/><circle cx="1492.3" cy="3330.6" r="10.6"/><circle cx="1494.7" cy="3330.1" r="10.6"/><circle cx="1497" cy="3330.6" r="10.6"/><circle cx="1499.3" cy="3330.9" r="10.6"/><circle cx="1501.7" cy="3330.6" r="10.6"/><circle cx="1504" cy="3331.1" r="10.6"/><circle cx="1506.4" cy="3331.2" r="10.6"/><circle cx="1508.7" cy="3330.5" r="10.6"/><circle cx="1511" cy="3331.4" r="10.6"/><circle cx="1513.4" cy="3331.3" r="10.6"/><circle cx="1515.7" cy="3331.2" r="10.6"/><circle cx="1518.1" cy="3331.6" r="10.6"/><circle cx="1520.4" cy="3331.9" r="10.6"/><circle cx="1522.7" cy="3331" r="10.6"/>
</g>
<g font-size="49"><text transform="translate(307.30,3351.60) scale(1,1.04)" text-anchor="end">0</text><text transform="translate(307.30,3180.48) scale(1,1.04)" text-anchor="end">2000</text><text transform="translate(307.30,3009.36) scale(1,1.04)" text-anchor="end">4000</text><text transform="translate(307.30,2838.24) scale(1,1.04)" text-anchor="end">6000</text><text transform="translate(307.30,2667.12) scale(1,1.04)" text-anchor="end">8000</text><text transform="translate(307.30,2496.00) scale(1,1.04)" text-anchor="end">10000</text><text transform="translate(338.50,3406.00) scale(1,1.04)" text-anchor="middle">0</text><text transform="translate(631.05,3406.00) scale(1,1.04)" text-anchor="middle">50</text><text transform="translate(923.60,3406.00) scale(1,1.04)" text-anchor="middle">100</text><text transform="translate(1216.15,3406.00) scale(1,1.04)" text-anchor="middle">150</text><text transform="translate(1508.70,3406.00) scale(1,1.04)" text-anchor="middle">200</text></g>
<g class="b"><text transform="translate(33.50,2443.10) scale(0.774,1)" font-size="78.1">C</text><text transform="translate(80.90,2441.30) scale(0.82,1)" font-size="78.6">)</text></g>
<g class="b" font-size="62"><text transform="translate(157.00,2872.50) rotate(-90) scale(1,1.04)" text-anchor="middle">Intensity (Counts)</text></g>
<g class="b" font-size="62"><text transform="translate(797.40,3504.80) scale(1,1.04)">Time</text><text transform="translate(960.31,3504.80) scale(1,1.04)">(</text><text class="s" style="font-weight:normal" transform="translate(978.47,3506.40) scale(1.15,1)" font-size="84.0">μ</text><text transform="translate(1027.12,3504.80) scale(1.05,1.04)">S</text><text transform="translate(1070.94,3504.80) scale(1,1.04)">)</text></g>
<circle cx="1218.25" cy="2433.05" r="10.75" fill="#fff" stroke="#000" stroke-width="1.4"/>
<circle cx="1218.25" cy="2488.0" r="10.75" fill="#fff" stroke="#f00" stroke-width="1.4"/>
<g font-size="44.4"><text transform="translate(1280.00,2447.80) scale(1,1.04)">In air</text><text transform="translate(1280.00,2502.70) scale(1,1.04)">In nitrogen</text></g>
<g fill="#000"><text class="s" transform="translate(742.73,2756.30)" font-size="62.5">τ</text><text transform="translate(770.33,2773.10) scale(1,1.04)" font-size="36.5">air</text><text transform="translate(810.89,2756.30) scale(1,1.04)" font-size="62.5">=7.93</text><text class="s" transform="translate(986.40,2756.30) scale(1.2,1)" font-size="62.5">μ</text><text transform="translate(1022.40,2756.30) scale(1,1.04)" font-size="62.5">s</text></g>
<g fill="#f00"><text class="s" transform="translate(742.73,2853.00)" font-size="62.5">τ</text><text transform="translate(770.33,2869.80) scale(1,1.04)" font-size="36.5">nitrogen</text><text transform="translate(902.23,2853.00) scale(1,1.04)" font-size="62.5">=35.98</text><text class="s" transform="translate(1112.50,2853.00) scale(1.2,1)" font-size="62.5">μ</text><text transform="translate(1148.50,2853.00) scale(1,1.04)" font-size="62.5">s</text></g>
</svg></body></html>
